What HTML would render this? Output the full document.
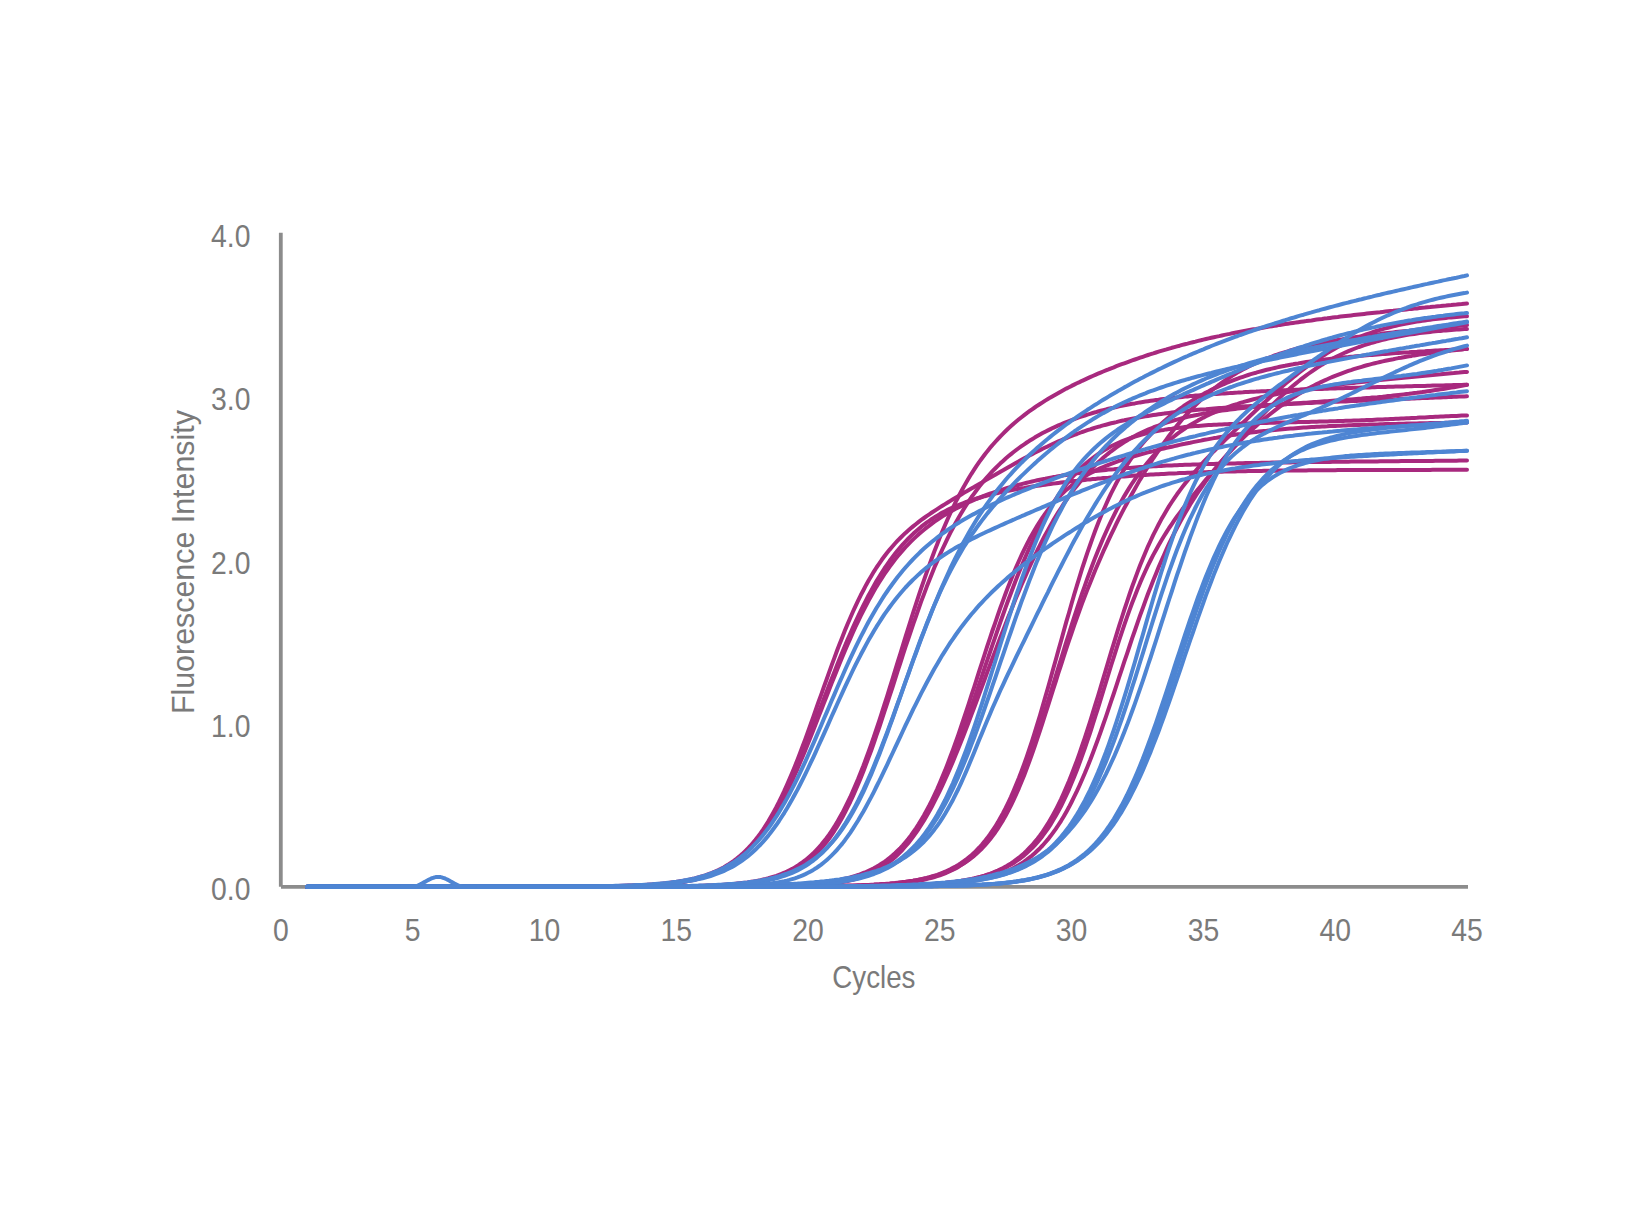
<!DOCTYPE html>
<html><head><meta charset="utf-8"><style>
html,body{margin:0;padding:0;background:#fff;}
body{width:1640px;height:1231px;overflow:hidden;}
svg{display:block;}
text{font-family:"Liberation Sans",sans-serif;fill:#7A7A7A;font-size:31.5px;}
</style></head><body>
<svg width="1640" height="1231" viewBox="0 0 1640 1231">
<rect width="1640" height="1231" fill="#fff"/>
<g stroke="#8C8C8C" stroke-width="3.8" fill="none">
<line x1="280.8" y1="232.8" x2="280.8" y2="886.7"/>
<line x1="281" y1="886.9" x2="1468" y2="886.9"/>
</g>
<text transform="translate(250.5 900.4) scale(0.900 1)" text-anchor="end">0.0</text><text transform="translate(250.5 736.9) scale(0.900 1)" text-anchor="end">1.0</text><text transform="translate(250.5 573.5) scale(0.900 1)" text-anchor="end">2.0</text><text transform="translate(250.5 410.0) scale(0.900 1)" text-anchor="end">3.0</text><text transform="translate(250.5 246.5) scale(0.900 1)" text-anchor="end">4.0</text>
<text transform="translate(280.8 941.0) scale(0.900 1)" text-anchor="middle">0</text><text transform="translate(412.6 941.0) scale(0.900 1)" text-anchor="middle">5</text><text transform="translate(544.4 941.0) scale(0.900 1)" text-anchor="middle">10</text><text transform="translate(676.2 941.0) scale(0.900 1)" text-anchor="middle">15</text><text transform="translate(808.0 941.0) scale(0.900 1)" text-anchor="middle">20</text><text transform="translate(939.8 941.0) scale(0.900 1)" text-anchor="middle">25</text><text transform="translate(1071.6 941.0) scale(0.900 1)" text-anchor="middle">30</text><text transform="translate(1203.4 941.0) scale(0.900 1)" text-anchor="middle">35</text><text transform="translate(1335.2 941.0) scale(0.900 1)" text-anchor="middle">40</text><text transform="translate(1467.0 941.0) scale(0.900 1)" text-anchor="middle">45</text>
<text transform="translate(873.9 987.8) scale(0.880 1)" text-anchor="middle">Cycles</text>
<text transform="translate(193.6 562.1) rotate(-90) scale(0.965 1)" text-anchor="middle">Fluorescence Intensity</text>
<g fill="none" stroke-width="4" stroke-linecap="round" stroke-linejoin="round">
<path d="M307.2 886.7L309.8 886.7L312.4 886.7L315.1 886.7L317.7 886.7L320.3 886.7L323.0 886.7L325.6 886.7L328.2 886.7L330.9 886.7L333.5 886.7L336.2 886.7L338.8 886.7L341.4 886.7L344.1 886.7L346.7 886.7L349.3 886.7L352.0 886.7L354.6 886.7L357.2 886.7L359.9 886.7L362.5 886.7L365.2 886.7L367.8 886.7L370.4 886.7L373.1 886.7L375.7 886.7L378.3 886.7L381.0 886.7L383.6 886.7L386.2 886.7L388.9 886.7L391.5 886.7L394.1 886.7L396.8 886.7L399.4 886.7L402.1 886.7L404.7 886.7L407.3 886.7L410.0 886.7L412.6 886.7L415.2 886.7L417.9 886.7L420.5 886.7L423.1 886.7L425.8 886.7L428.4 886.7L431.1 886.7L433.7 886.7L436.3 886.7L439.0 886.7L441.6 886.7L444.2 886.7L446.9 886.7L449.5 886.7L452.1 886.7L454.8 886.7L457.4 886.7L460.0 886.7L462.7 886.7L465.3 886.7L468.0 886.7L470.6 886.7L473.2 886.7L475.9 886.7L478.5 886.7L481.1 886.7L483.8 886.7L486.4 886.7L489.0 886.7L491.7 886.7L494.3 886.7L497.0 886.7L499.6 886.7L502.2 886.7L504.9 886.7L507.5 886.7L510.1 886.7L512.8 886.7L515.4 886.7L518.0 886.7L520.7 886.7L523.3 886.7L525.9 886.7L528.6 886.7L531.2 886.7L533.9 886.7L536.5 886.7L539.1 886.7L541.8 886.7L544.4 886.7L547.0 886.7L549.7 886.7L552.3 886.7L554.9 886.7L557.6 886.6L560.2 886.6L562.9 886.6L565.5 886.6L568.1 886.6L570.8 886.6L573.4 886.6L576.0 886.6L578.7 886.6L581.3 886.6L583.9 886.6L586.6 886.5L589.2 886.5L591.8 886.5L594.5 886.5L597.1 886.5L599.8 886.5L602.4 886.4L605.0 886.4L607.7 886.4L610.3 886.3L612.9 886.3L615.6 886.3L618.2 886.2L620.8 886.2L623.5 886.1L626.1 886.1L628.8 886.0L631.4 885.9L634.0 885.9L636.7 885.8L639.3 885.7L641.9 885.6L644.6 885.5L647.2 885.4L649.8 885.2L652.5 885.1L655.1 884.9L657.7 884.8L660.4 884.6L663.0 884.4L665.7 884.1L668.3 883.9L670.9 883.6L673.6 883.3L676.2 883.0L678.8 882.7L681.5 882.3L684.1 881.9L686.7 881.4L689.4 880.9L692.0 880.4L694.7 879.8L697.3 879.1L699.9 878.4L702.6 877.7L705.2 876.9L707.8 876.0L710.5 875.0L713.1 874.0L715.7 872.8L718.4 871.6L721.0 870.3L723.6 868.9L726.3 867.4L728.9 865.7L731.6 864.0L734.2 862.1L736.8 860.0L739.5 857.9L742.1 855.5L744.7 853.1L747.4 850.4L750.0 847.6L752.6 844.6L755.3 841.5L757.9 838.1L760.6 834.6L763.2 830.8L765.8 826.9L768.5 822.8L771.1 818.5L773.7 814.0L776.4 809.3L779.0 804.4L781.6 799.3L784.3 794.0L786.9 788.5L789.5 782.9L792.2 777.1L794.8 771.1L797.5 765.0L800.1 758.8L802.7 752.4L805.4 746.0L808.0 739.4L810.6 732.8L813.3 726.1L815.9 719.3L818.5 712.5L821.2 705.7L823.8 698.9L826.5 692.1L829.1 685.3L831.7 678.6L834.4 671.9L837.0 665.3L839.6 658.8L842.3 652.3L844.9 646.0L847.5 639.8L850.2 633.7L852.8 627.8L855.4 622.0L858.1 616.3L860.7 610.8L863.4 605.5L866.0 600.3L868.6 595.2L871.3 590.4L873.9 585.7L876.5 581.1L879.2 576.7L881.8 572.5L884.4 568.5L887.1 564.6L889.7 560.8L892.4 557.2L895.0 553.8L897.6 550.5L900.3 547.4L902.9 544.3L905.5 541.5L908.2 538.7L910.8 536.1L913.4 533.6L916.1 531.2L918.7 528.9L921.3 526.7L924.0 524.7L926.6 522.7L929.3 520.8L931.9 519.0L934.5 517.3L937.2 515.7L939.8 514.1L942.4 512.6L945.1 511.2L947.7 509.9L950.3 508.6L953.0 507.4L955.6 506.2L958.3 505.1L960.9 504.0L963.5 503.0L966.2 502.0L968.8 501.1L971.4 500.2L974.1 499.3L976.7 498.5L979.3 497.7L982.0 497.0L984.6 496.2L987.2 495.5L989.9 494.9L992.5 494.2L995.2 493.6L997.8 493.0L1000.4 492.4L1003.1 491.8L1005.7 491.3L1008.3 490.8L1011.0 490.2L1013.6 489.7L1016.2 489.3L1018.9 488.8L1021.5 488.3L1024.2 487.9L1026.8 487.4L1029.4 487.0L1032.1 486.6L1034.7 486.2L1037.3 485.8L1040.0 485.4L1042.6 485.0L1045.2 484.7L1047.9 484.3L1050.5 483.9L1053.1 483.6L1055.8 483.3L1058.4 482.9L1061.1 482.6L1063.7 482.3L1066.3 482.0L1069.0 481.6L1071.6 481.3L1074.2 481.0L1076.9 480.8L1079.5 480.5L1082.1 480.2L1084.8 479.9L1087.4 479.6L1090.1 479.4L1092.7 479.1L1095.3 478.9L1098.0 478.6L1100.6 478.4L1103.2 478.1L1105.9 477.9L1108.5 477.7L1111.1 477.4L1113.8 477.2L1116.4 477.0L1119.0 476.8L1121.7 476.6L1124.3 476.4L1127.0 476.2L1129.6 476.0L1132.2 475.8L1134.9 475.6L1137.5 475.4L1140.1 475.3L1142.8 475.1L1145.4 474.9L1148.0 474.8L1150.7 474.6L1153.3 474.5L1156.0 474.3L1158.6 474.2L1161.2 474.0L1163.9 473.9L1166.5 473.7L1169.1 473.6L1171.8 473.5L1174.4 473.4L1177.0 473.3L1179.7 473.1L1182.3 473.0L1184.9 472.9L1187.6 472.8L1190.2 472.7L1192.9 472.6L1195.5 472.5L1198.1 472.4L1200.8 472.3L1203.4 472.2L1206.0 472.2L1208.7 472.1L1211.3 472.0L1213.9 471.9L1216.6 471.8L1219.2 471.8L1221.9 471.7L1224.5 471.6L1227.1 471.6L1229.8 471.5L1232.4 471.4L1235.0 471.4L1237.7 471.3L1240.3 471.3L1242.9 471.2L1245.6 471.2L1248.2 471.1L1250.8 471.1L1253.5 471.0L1256.1 471.0L1258.8 470.9L1261.4 470.9L1264.0 470.8L1266.7 470.8L1269.3 470.8L1271.9 470.7L1274.6 470.7L1277.2 470.7L1279.8 470.6L1282.5 470.6L1285.1 470.6L1287.8 470.5L1290.4 470.5L1293.0 470.5L1295.7 470.5L1298.3 470.4L1300.9 470.4L1303.6 470.4L1306.2 470.4L1308.8 470.3L1311.5 470.3L1314.1 470.3L1316.7 470.3L1319.4 470.3L1322.0 470.2L1324.7 470.2L1327.3 470.2L1329.9 470.2L1332.6 470.2L1335.2 470.2L1337.8 470.1L1340.5 470.1L1343.1 470.1L1345.7 470.1L1348.4 470.1L1351.0 470.1L1353.7 470.1L1356.3 470.0L1358.9 470.0L1361.6 470.0L1364.2 470.0L1366.8 470.0L1369.5 470.0L1372.1 470.0L1374.7 470.0L1377.4 470.0L1380.0 470.0L1382.6 470.0L1385.3 469.9L1387.9 469.9L1390.6 469.9L1393.2 469.9L1395.8 469.9L1398.5 469.9L1401.1 469.9L1403.7 469.9L1406.4 469.9L1409.0 469.9L1411.6 469.9L1414.3 469.9L1416.9 469.9L1419.6 469.9L1422.2 469.9L1424.8 469.9L1427.5 469.9L1430.1 469.9L1432.7 469.8L1435.4 469.8L1438.0 469.8L1440.6 469.8L1443.3 469.8L1445.9 469.8L1448.5 469.8L1451.2 469.8L1453.8 469.8L1456.5 469.8L1459.1 469.8L1461.7 469.8L1464.4 469.8L1467.0 469.8" stroke="#A8297E"/>
<path d="M307.2 886.7L309.8 886.7L312.4 886.7L315.1 886.7L317.7 886.7L320.3 886.7L323.0 886.7L325.6 886.7L328.2 886.7L330.9 886.7L333.5 886.7L336.2 886.7L338.8 886.7L341.4 886.7L344.1 886.7L346.7 886.7L349.3 886.7L352.0 886.7L354.6 886.7L357.2 886.7L359.9 886.7L362.5 886.7L365.2 886.7L367.8 886.7L370.4 886.7L373.1 886.7L375.7 886.7L378.3 886.7L381.0 886.7L383.6 886.7L386.2 886.7L388.9 886.7L391.5 886.7L394.1 886.7L396.8 886.7L399.4 886.7L402.1 886.7L404.7 886.7L407.3 886.7L410.0 886.7L412.6 886.7L415.2 886.7L417.9 886.7L420.5 886.7L423.1 886.7L425.8 886.7L428.4 886.7L431.1 886.7L433.7 886.7L436.3 886.7L439.0 886.7L441.6 886.7L444.2 886.7L446.9 886.7L449.5 886.7L452.1 886.7L454.8 886.7L457.4 886.7L460.0 886.7L462.7 886.7L465.3 886.7L468.0 886.7L470.6 886.7L473.2 886.7L475.9 886.7L478.5 886.7L481.1 886.7L483.8 886.7L486.4 886.7L489.0 886.7L491.7 886.7L494.3 886.7L497.0 886.7L499.6 886.7L502.2 886.7L504.9 886.7L507.5 886.7L510.1 886.7L512.8 886.7L515.4 886.7L518.0 886.7L520.7 886.7L523.3 886.7L525.9 886.7L528.6 886.7L531.2 886.7L533.9 886.7L536.5 886.7L539.1 886.7L541.8 886.6L544.4 886.6L547.0 886.6L549.7 886.6L552.3 886.6L554.9 886.6L557.6 886.6L560.2 886.6L562.9 886.6L565.5 886.6L568.1 886.6L570.8 886.6L573.4 886.6L576.0 886.5L578.7 886.5L581.3 886.5L583.9 886.5L586.6 886.5L589.2 886.5L591.8 886.4L594.5 886.4L597.1 886.4L599.8 886.4L602.4 886.3L605.0 886.3L607.7 886.3L610.3 886.2L612.9 886.2L615.6 886.1L618.2 886.1L620.8 886.0L623.5 886.0L626.1 885.9L628.8 885.8L631.4 885.7L634.0 885.6L636.7 885.6L639.3 885.5L641.9 885.3L644.6 885.2L647.2 885.1L649.8 884.9L652.5 884.8L655.1 884.6L657.7 884.4L660.4 884.2L663.0 884.0L665.7 883.8L668.3 883.5L670.9 883.2L673.6 882.9L676.2 882.6L678.8 882.2L681.5 881.8L684.1 881.4L686.7 881.0L689.4 880.5L692.0 879.9L694.7 879.3L697.3 878.7L699.9 878.0L702.6 877.3L705.2 876.5L707.8 875.6L710.5 874.7L713.1 873.7L715.7 872.6L718.4 871.4L721.0 870.2L723.6 868.8L726.3 867.3L728.9 865.8L731.6 864.1L734.2 862.3L736.8 860.3L739.5 858.3L742.1 856.1L744.7 853.7L747.4 851.2L750.0 848.5L752.6 845.7L755.3 842.7L757.9 839.5L760.6 836.1L763.2 832.6L765.8 828.8L768.5 824.9L771.1 820.7L773.7 816.4L776.4 811.8L779.0 807.1L781.6 802.2L784.3 797.0L786.9 791.7L789.5 786.2L792.2 780.6L794.8 774.7L797.5 768.8L800.1 762.6L802.7 756.4L805.4 750.0L808.0 743.5L810.6 736.9L813.3 730.3L815.9 723.6L818.5 716.8L821.2 710.0L823.8 703.3L826.5 696.5L829.1 689.8L831.7 683.1L834.4 676.4L837.0 669.9L839.6 663.4L842.3 657.0L844.9 650.7L847.5 644.6L850.2 638.6L852.8 632.7L855.4 626.9L858.1 621.3L860.7 615.9L863.4 610.6L866.0 605.5L868.6 600.5L871.3 595.7L873.9 591.1L876.5 586.6L879.2 582.3L881.8 578.1L884.4 574.1L887.1 570.3L889.7 566.6L892.4 563.0L895.0 559.6L897.6 556.3L900.3 553.1L902.9 550.1L905.5 547.2L908.2 544.4L910.8 541.7L913.4 539.1L916.1 536.6L918.7 534.2L921.3 532.0L924.0 529.7L926.6 527.6L929.3 525.6L931.9 523.6L934.5 521.7L937.2 519.9L939.8 518.1L942.4 516.4L945.1 514.8L947.7 513.2L950.3 511.7L953.0 510.2L955.6 508.8L958.3 507.4L960.9 506.1L963.5 504.8L966.2 503.5L968.8 502.3L971.4 501.1L974.1 500.0L976.7 498.8L979.3 497.8L982.0 496.7L984.6 495.7L987.2 494.7L989.9 493.7L992.5 492.8L995.2 491.9L997.8 491.0L1000.4 490.2L1003.1 489.3L1005.7 488.5L1008.3 487.7L1011.0 486.9L1013.6 486.2L1016.2 485.5L1018.9 484.8L1021.5 484.1L1024.2 483.4L1026.8 482.7L1029.4 482.1L1032.1 481.5L1034.7 480.9L1037.3 480.3L1040.0 479.7L1042.6 479.2L1045.2 478.7L1047.9 478.1L1050.5 477.6L1053.1 477.1L1055.8 476.7L1058.4 476.2L1061.1 475.8L1063.7 475.3L1066.3 474.9L1069.0 474.5L1071.6 474.1L1074.2 473.7L1076.9 473.3L1079.5 473.0L1082.1 472.6L1084.8 472.3L1087.4 472.0L1090.1 471.6L1092.7 471.3L1095.3 471.0L1098.0 470.7L1100.6 470.4L1103.2 470.2L1105.9 469.9L1108.5 469.6L1111.1 469.4L1113.8 469.2L1116.4 468.9L1119.0 468.7L1121.7 468.5L1124.3 468.3L1127.0 468.1L1129.6 467.9L1132.2 467.7L1134.9 467.5L1137.5 467.3L1140.1 467.1L1142.8 467.0L1145.4 466.8L1148.0 466.6L1150.7 466.5L1153.3 466.3L1156.0 466.2L1158.6 466.0L1161.2 465.9L1163.9 465.8L1166.5 465.6L1169.1 465.5L1171.8 465.4L1174.4 465.3L1177.0 465.2L1179.7 465.1L1182.3 465.0L1184.9 464.8L1187.6 464.7L1190.2 464.7L1192.9 464.6L1195.5 464.5L1198.1 464.4L1200.8 464.3L1203.4 464.2L1206.0 464.1L1208.7 464.0L1211.3 464.0L1213.9 463.9L1216.6 463.8L1219.2 463.7L1221.9 463.7L1224.5 463.6L1227.1 463.5L1229.8 463.5L1232.4 463.4L1235.0 463.4L1237.7 463.3L1240.3 463.2L1242.9 463.2L1245.6 463.1L1248.2 463.1L1250.8 463.0L1253.5 463.0L1256.1 462.9L1258.8 462.9L1261.4 462.8L1264.0 462.8L1266.7 462.7L1269.3 462.7L1271.9 462.6L1274.6 462.6L1277.2 462.6L1279.8 462.5L1282.5 462.5L1285.1 462.4L1287.8 462.4L1290.4 462.4L1293.0 462.3L1295.7 462.3L1298.3 462.3L1300.9 462.2L1303.6 462.2L1306.2 462.1L1308.8 462.1L1311.5 462.1L1314.1 462.0L1316.7 462.0L1319.4 462.0L1322.0 462.0L1324.7 461.9L1327.3 461.9L1329.9 461.9L1332.6 461.8L1335.2 461.8L1337.8 461.8L1340.5 461.7L1343.1 461.7L1345.7 461.7L1348.4 461.7L1351.0 461.6L1353.7 461.6L1356.3 461.6L1358.9 461.5L1361.6 461.5L1364.2 461.5L1366.8 461.5L1369.5 461.4L1372.1 461.4L1374.7 461.4L1377.4 461.4L1380.0 461.3L1382.6 461.3L1385.3 461.3L1387.9 461.3L1390.6 461.2L1393.2 461.2L1395.8 461.2L1398.5 461.2L1401.1 461.1L1403.7 461.1L1406.4 461.1L1409.0 461.1L1411.6 461.1L1414.3 461.0L1416.9 461.0L1419.6 461.0L1422.2 461.0L1424.8 460.9L1427.5 460.9L1430.1 460.9L1432.7 460.9L1435.4 460.8L1438.0 460.8L1440.6 460.8L1443.3 460.8L1445.9 460.8L1448.5 460.7L1451.2 460.7L1453.8 460.7L1456.5 460.7L1459.1 460.6L1461.7 460.6L1464.4 460.6L1467.0 460.6" stroke="#A8297E"/>
<path d="M307.2 886.7L309.8 886.7L312.4 886.7L315.1 886.7L317.7 886.7L320.3 886.7L323.0 886.7L325.6 886.7L328.2 886.7L330.9 886.7L333.5 886.7L336.2 886.7L338.8 886.7L341.4 886.7L344.1 886.7L346.7 886.7L349.3 886.7L352.0 886.7L354.6 886.7L357.2 886.7L359.9 886.7L362.5 886.7L365.2 886.7L367.8 886.7L370.4 886.7L373.1 886.7L375.7 886.7L378.3 886.7L381.0 886.7L383.6 886.7L386.2 886.7L388.9 886.7L391.5 886.7L394.1 886.7L396.8 886.7L399.4 886.7L402.1 886.7L404.7 886.7L407.3 886.7L410.0 886.7L412.6 886.7L415.2 886.7L417.9 886.7L420.5 886.7L423.1 886.7L425.8 886.7L428.4 886.7L431.1 886.7L433.7 886.7L436.3 886.7L439.0 886.7L441.6 886.7L444.2 886.7L446.9 886.7L449.5 886.7L452.1 886.7L454.8 886.7L457.4 886.7L460.0 886.7L462.7 886.7L465.3 886.7L468.0 886.7L470.6 886.7L473.2 886.7L475.9 886.7L478.5 886.7L481.1 886.7L483.8 886.7L486.4 886.7L489.0 886.7L491.7 886.7L494.3 886.7L497.0 886.7L499.6 886.7L502.2 886.7L504.9 886.7L507.5 886.7L510.1 886.7L512.8 886.7L515.4 886.7L518.0 886.7L520.7 886.7L523.3 886.7L525.9 886.6L528.6 886.6L531.2 886.6L533.9 886.6L536.5 886.6L539.1 886.6L541.8 886.6L544.4 886.6L547.0 886.6L549.7 886.6L552.3 886.6L554.9 886.6L557.6 886.6L560.2 886.6L562.9 886.5L565.5 886.5L568.1 886.5L570.8 886.5L573.4 886.5L576.0 886.5L578.7 886.4L581.3 886.4L583.9 886.4L586.6 886.4L589.2 886.4L591.8 886.3L594.5 886.3L597.1 886.3L599.8 886.2L602.4 886.2L605.0 886.1L607.7 886.1L610.3 886.0L612.9 886.0L615.6 885.9L618.2 885.9L620.8 885.8L623.5 885.7L626.1 885.6L628.8 885.6L631.4 885.5L634.0 885.4L636.7 885.2L639.3 885.1L641.9 885.0L644.6 884.9L647.2 884.7L649.8 884.5L652.5 884.4L655.1 884.2L657.7 884.0L660.4 883.7L663.0 883.5L665.7 883.2L668.3 882.9L670.9 882.6L673.6 882.3L676.2 881.9L678.8 881.5L681.5 881.1L684.1 880.6L686.7 880.2L689.4 879.6L692.0 879.0L694.7 878.4L697.3 877.7L699.9 877.0L702.6 876.2L705.2 875.4L707.8 874.5L710.5 873.5L713.1 872.4L715.7 871.3L718.4 870.1L721.0 868.8L723.6 867.4L726.3 865.8L728.9 864.2L731.6 862.4L734.2 860.6L736.8 858.6L739.5 856.4L742.1 854.1L744.7 851.6L747.4 849.0L750.0 846.2L752.6 843.2L755.3 840.0L757.9 836.7L760.6 833.1L763.2 829.3L765.8 825.3L768.5 821.1L771.1 816.6L773.7 811.9L776.4 807.0L779.0 801.9L781.6 796.5L784.3 790.9L786.9 785.1L789.5 779.1L792.2 772.8L794.8 766.4L797.5 759.7L800.1 752.9L802.7 746.0L805.4 738.9L808.0 731.7L810.6 724.3L813.3 717.0L815.9 709.5L818.5 702.0L821.2 694.6L823.8 687.1L826.5 679.7L829.1 672.3L831.7 665.1L834.4 657.9L837.0 650.8L839.6 643.9L842.3 637.2L844.9 630.6L847.5 624.2L850.2 618.0L852.8 612.0L855.4 606.3L858.1 600.7L860.7 595.3L863.4 590.2L866.0 585.2L868.6 580.5L871.3 576.0L873.9 571.6L876.5 567.5L879.2 563.6L881.8 559.8L884.4 556.3L887.1 552.8L889.7 549.6L892.4 546.5L895.0 543.5L897.6 540.7L900.3 538.0L902.9 535.4L905.5 532.9L908.2 530.6L910.8 528.3L913.4 526.1L916.1 524.0L918.7 521.9L921.3 519.9L924.0 518.0L926.6 516.1L929.3 514.3L931.9 512.5L934.5 510.8L937.2 509.1L939.8 507.4L942.4 505.8L945.1 504.1L947.7 502.5L950.3 500.9L953.0 499.3L955.6 497.8L958.3 496.2L960.9 494.7L963.5 493.1L966.2 491.6L968.8 490.0L971.4 488.5L974.1 487.0L976.7 485.4L979.3 483.9L982.0 482.4L984.6 480.8L987.2 479.3L989.9 477.8L992.5 476.3L995.2 474.7L997.8 473.2L1000.4 471.7L1003.1 470.2L1005.7 468.7L1008.3 467.2L1011.0 465.7L1013.6 464.2L1016.2 462.7L1018.9 461.3L1021.5 459.8L1024.2 458.4L1026.8 457.0L1029.4 455.6L1032.1 454.2L1034.7 452.8L1037.3 451.5L1040.0 450.1L1042.6 448.8L1045.2 447.5L1047.9 446.3L1050.5 445.0L1053.1 443.8L1055.8 442.6L1058.4 441.4L1061.1 440.3L1063.7 439.2L1066.3 438.1L1069.0 437.0L1071.6 436.0L1074.2 434.9L1076.9 434.0L1079.5 433.0L1082.1 432.0L1084.8 431.1L1087.4 430.2L1090.1 429.4L1092.7 428.5L1095.3 427.7L1098.0 426.9L1100.6 426.2L1103.2 425.4L1105.9 424.7L1108.5 424.0L1111.1 423.3L1113.8 422.7L1116.4 422.1L1119.0 421.4L1121.7 420.8L1124.3 420.3L1127.0 419.7L1129.6 419.2L1132.2 418.7L1134.9 418.2L1137.5 417.7L1140.1 417.2L1142.8 416.7L1145.4 416.3L1148.0 415.9L1150.7 415.5L1153.3 415.1L1156.0 414.7L1158.6 414.3L1161.2 413.9L1163.9 413.6L1166.5 413.2L1169.1 412.9L1171.8 412.6L1174.4 412.3L1177.0 412.0L1179.7 411.7L1182.3 411.4L1184.9 411.1L1187.6 410.9L1190.2 410.6L1192.9 410.3L1195.5 410.1L1198.1 409.8L1200.8 409.6L1203.4 409.4L1206.0 409.2L1208.7 408.9L1211.3 408.7L1213.9 408.5L1216.6 408.3L1219.2 408.1L1221.9 407.9L1224.5 407.7L1227.1 407.6L1229.8 407.4L1232.4 407.2L1235.0 407.0L1237.7 406.8L1240.3 406.7L1242.9 406.5L1245.6 406.3L1248.2 406.2L1250.8 406.0L1253.5 405.9L1256.1 405.7L1258.8 405.6L1261.4 405.4L1264.0 405.3L1266.7 405.1L1269.3 405.0L1271.9 404.8L1274.6 404.7L1277.2 404.6L1279.8 404.4L1282.5 404.3L1285.1 404.2L1287.8 404.0L1290.4 403.9L1293.0 403.8L1295.7 403.6L1298.3 403.5L1300.9 403.4L1303.6 403.3L1306.2 403.1L1308.8 403.0L1311.5 402.9L1314.1 402.8L1316.7 402.6L1319.4 402.5L1322.0 402.4L1324.7 402.3L1327.3 402.2L1329.9 402.0L1332.6 401.9L1335.2 401.8L1337.8 401.7L1340.5 401.6L1343.1 401.5L1345.7 401.4L1348.4 401.2L1351.0 401.1L1353.7 401.0L1356.3 400.9L1358.9 400.8L1361.6 400.7L1364.2 400.6L1366.8 400.4L1369.5 400.3L1372.1 400.2L1374.7 400.1L1377.4 400.0L1380.0 399.9L1382.6 399.8L1385.3 399.7L1387.9 399.6L1390.6 399.4L1393.2 399.3L1395.8 399.2L1398.5 399.1L1401.1 399.0L1403.7 398.9L1406.4 398.8L1409.0 398.7L1411.6 398.6L1414.3 398.5L1416.9 398.3L1419.6 398.2L1422.2 398.1L1424.8 398.0L1427.5 397.9L1430.1 397.8L1432.7 397.7L1435.4 397.6L1438.0 397.5L1440.6 397.4L1443.3 397.3L1445.9 397.2L1448.5 397.0L1451.2 396.9L1453.8 396.8L1456.5 396.7L1459.1 396.6L1461.7 396.5L1464.4 396.4L1467.0 396.3" stroke="#A8297E"/>
<path d="M307.2 886.7L309.8 886.7L312.4 886.7L315.1 886.7L317.7 886.7L320.3 886.7L323.0 886.7L325.6 886.7L328.2 886.7L330.9 886.7L333.5 886.7L336.2 886.7L338.8 886.7L341.4 886.7L344.1 886.7L346.7 886.7L349.3 886.7L352.0 886.7L354.6 886.7L357.2 886.7L359.9 886.7L362.5 886.7L365.2 886.7L367.8 886.7L370.4 886.7L373.1 886.7L375.7 886.7L378.3 886.7L381.0 886.7L383.6 886.7L386.2 886.7L388.9 886.7L391.5 886.7L394.1 886.7L396.8 886.7L399.4 886.7L402.1 886.7L404.7 886.7L407.3 886.7L410.0 886.7L412.6 886.7L415.2 886.7L417.9 886.7L420.5 886.7L423.1 886.7L425.8 886.7L428.4 886.7L431.1 886.7L433.7 886.7L436.3 886.7L439.0 886.7L441.6 886.7L444.2 886.7L446.9 886.7L449.5 886.7L452.1 886.7L454.8 886.7L457.4 886.7L460.0 886.7L462.7 886.7L465.3 886.7L468.0 886.7L470.6 886.7L473.2 886.7L475.9 886.7L478.5 886.7L481.1 886.7L483.8 886.7L486.4 886.7L489.0 886.7L491.7 886.7L494.3 886.7L497.0 886.7L499.6 886.7L502.2 886.7L504.9 886.7L507.5 886.7L510.1 886.7L512.8 886.7L515.4 886.7L518.0 886.7L520.7 886.7L523.3 886.7L525.9 886.7L528.6 886.7L531.2 886.7L533.9 886.7L536.5 886.7L539.1 886.7L541.8 886.7L544.4 886.7L547.0 886.7L549.7 886.7L552.3 886.7L554.9 886.7L557.6 886.7L560.2 886.7L562.9 886.7L565.5 886.7L568.1 886.7L570.8 886.7L573.4 886.7L576.0 886.7L578.7 886.7L581.3 886.7L583.9 886.7L586.6 886.7L589.2 886.7L591.8 886.7L594.5 886.7L597.1 886.7L599.8 886.7L602.4 886.7L605.0 886.7L607.7 886.7L610.3 886.7L612.9 886.6L615.6 886.6L618.2 886.6L620.8 886.6L623.5 886.6L626.1 886.6L628.8 886.6L631.4 886.6L634.0 886.6L636.7 886.6L639.3 886.6L641.9 886.6L644.6 886.6L647.2 886.5L649.8 886.5L652.5 886.5L655.1 886.5L657.7 886.5L660.4 886.4L663.0 886.4L665.7 886.4L668.3 886.4L670.9 886.3L673.6 886.3L676.2 886.3L678.8 886.2L681.5 886.2L684.1 886.2L686.7 886.1L689.4 886.0L692.0 886.0L694.7 885.9L697.3 885.9L699.9 885.8L702.6 885.7L705.2 885.6L707.8 885.5L710.5 885.4L713.1 885.3L715.7 885.1L718.4 885.0L721.0 884.9L723.6 884.7L726.3 884.5L728.9 884.3L731.6 884.1L734.2 883.9L736.8 883.6L739.5 883.3L742.1 883.0L744.7 882.7L747.4 882.4L750.0 882.0L752.6 881.6L755.3 881.1L757.9 880.6L760.6 880.1L763.2 879.5L765.8 878.9L768.5 878.2L771.1 877.4L773.7 876.6L776.4 875.8L779.0 874.8L781.6 873.8L784.3 872.7L786.9 871.5L789.5 870.2L792.2 868.9L794.8 867.4L797.5 865.8L800.1 864.0L802.7 862.2L805.4 860.2L808.0 858.0L810.6 855.7L813.3 853.3L815.9 850.6L818.5 847.8L821.2 844.8L823.8 841.6L826.5 838.2L829.1 834.6L831.7 830.8L834.4 826.7L837.0 822.4L839.6 817.8L842.3 813.1L844.9 808.0L847.5 802.7L850.2 797.2L852.8 791.4L855.4 785.4L858.1 779.1L860.7 772.6L863.4 765.8L866.0 758.8L868.6 751.6L871.3 744.2L873.9 736.6L876.5 728.9L879.2 720.9L881.8 712.8L884.4 704.6L887.1 696.3L889.7 687.9L892.4 679.4L895.0 670.9L897.6 662.4L900.3 653.8L902.9 645.3L905.5 636.8L908.2 628.4L910.8 620.1L913.4 611.8L916.1 603.7L918.7 595.7L921.3 587.8L924.0 580.1L926.6 572.6L929.3 565.2L931.9 558.0L934.5 551.0L937.2 544.2L939.8 537.6L942.4 531.2L945.1 525.0L947.7 519.0L950.3 513.2L953.0 507.6L955.6 502.2L958.3 497.0L960.9 492.0L963.5 487.2L966.2 482.6L968.8 478.1L971.4 473.8L974.1 469.7L976.7 465.7L979.3 461.9L982.0 458.3L984.6 454.8L987.2 451.4L989.9 448.1L992.5 445.0L995.2 442.0L997.8 439.1L1000.4 436.3L1003.1 433.6L1005.7 431.0L1008.3 428.5L1011.0 426.1L1013.6 423.7L1016.2 421.5L1018.9 419.3L1021.5 417.2L1024.2 415.1L1026.8 413.1L1029.4 411.2L1032.1 409.3L1034.7 407.5L1037.3 405.7L1040.0 404.0L1042.6 402.3L1045.2 400.6L1047.9 399.0L1050.5 397.4L1053.1 395.9L1055.8 394.4L1058.4 392.9L1061.1 391.4L1063.7 390.0L1066.3 388.6L1069.0 387.3L1071.6 385.9L1074.2 384.6L1076.9 383.3L1079.5 382.1L1082.1 380.8L1084.8 379.6L1087.4 378.4L1090.1 377.2L1092.7 376.0L1095.3 374.9L1098.0 373.7L1100.6 372.6L1103.2 371.5L1105.9 370.4L1108.5 369.4L1111.1 368.3L1113.8 367.3L1116.4 366.2L1119.0 365.2L1121.7 364.2L1124.3 363.3L1127.0 362.3L1129.6 361.3L1132.2 360.4L1134.9 359.5L1137.5 358.6L1140.1 357.7L1142.8 356.8L1145.4 355.9L1148.0 355.0L1150.7 354.2L1153.3 353.4L1156.0 352.5L1158.6 351.7L1161.2 350.9L1163.9 350.1L1166.5 349.4L1169.1 348.6L1171.8 347.8L1174.4 347.1L1177.0 346.4L1179.7 345.7L1182.3 344.9L1184.9 344.2L1187.6 343.6L1190.2 342.9L1192.9 342.2L1195.5 341.6L1198.1 340.9L1200.8 340.3L1203.4 339.6L1206.0 339.0L1208.7 338.4L1211.3 337.8L1213.9 337.2L1216.6 336.6L1219.2 336.1L1221.9 335.5L1224.5 334.9L1227.1 334.4L1229.8 333.9L1232.4 333.3L1235.0 332.8L1237.7 332.3L1240.3 331.8L1242.9 331.3L1245.6 330.8L1248.2 330.3L1250.8 329.8L1253.5 329.3L1256.1 328.9L1258.8 328.4L1261.4 328.0L1264.0 327.5L1266.7 327.1L1269.3 326.6L1271.9 326.2L1274.6 325.8L1277.2 325.4L1279.8 324.9L1282.5 324.5L1285.1 324.1L1287.8 323.7L1290.4 323.3L1293.0 322.9L1295.7 322.6L1298.3 322.2L1300.9 321.8L1303.6 321.4L1306.2 321.1L1308.8 320.7L1311.5 320.4L1314.1 320.0L1316.7 319.6L1319.4 319.3L1322.0 319.0L1324.7 318.6L1327.3 318.3L1329.9 317.9L1332.6 317.6L1335.2 317.3L1337.8 317.0L1340.5 316.6L1343.1 316.3L1345.7 316.0L1348.4 315.7L1351.0 315.4L1353.7 315.1L1356.3 314.8L1358.9 314.5L1361.6 314.2L1364.2 313.9L1366.8 313.6L1369.5 313.3L1372.1 313.0L1374.7 312.7L1377.4 312.4L1380.0 312.2L1382.6 311.9L1385.3 311.6L1387.9 311.3L1390.6 311.0L1393.2 310.8L1395.8 310.5L1398.5 310.2L1401.1 309.9L1403.7 309.7L1406.4 309.4L1409.0 309.1L1411.6 308.9L1414.3 308.6L1416.9 308.4L1419.6 308.1L1422.2 307.8L1424.8 307.6L1427.5 307.3L1430.1 307.1L1432.7 306.8L1435.4 306.6L1438.0 306.3L1440.6 306.1L1443.3 305.8L1445.9 305.6L1448.5 305.3L1451.2 305.1L1453.8 304.8L1456.5 304.6L1459.1 304.3L1461.7 304.1L1464.4 303.8L1467.0 303.6" stroke="#A8297E"/>
<path d="M307.2 886.7L309.8 886.7L312.4 886.7L315.1 886.7L317.7 886.7L320.3 886.7L323.0 886.7L325.6 886.7L328.2 886.7L330.9 886.7L333.5 886.7L336.2 886.7L338.8 886.7L341.4 886.7L344.1 886.7L346.7 886.7L349.3 886.7L352.0 886.7L354.6 886.7L357.2 886.7L359.9 886.7L362.5 886.7L365.2 886.7L367.8 886.7L370.4 886.7L373.1 886.7L375.7 886.7L378.3 886.7L381.0 886.7L383.6 886.7L386.2 886.7L388.9 886.7L391.5 886.7L394.1 886.7L396.8 886.7L399.4 886.7L402.1 886.7L404.7 886.7L407.3 886.7L410.0 886.7L412.6 886.7L415.2 886.7L417.9 886.7L420.5 886.7L423.1 886.7L425.8 886.7L428.4 886.7L431.1 886.7L433.7 886.7L436.3 886.7L439.0 886.7L441.6 886.7L444.2 886.7L446.9 886.7L449.5 886.7L452.1 886.7L454.8 886.7L457.4 886.7L460.0 886.7L462.7 886.7L465.3 886.7L468.0 886.7L470.6 886.7L473.2 886.7L475.9 886.7L478.5 886.7L481.1 886.7L483.8 886.7L486.4 886.7L489.0 886.7L491.7 886.7L494.3 886.7L497.0 886.7L499.6 886.7L502.2 886.7L504.9 886.7L507.5 886.7L510.1 886.7L512.8 886.7L515.4 886.7L518.0 886.7L520.7 886.7L523.3 886.7L525.9 886.7L528.6 886.7L531.2 886.7L533.9 886.7L536.5 886.7L539.1 886.7L541.8 886.7L544.4 886.7L547.0 886.7L549.7 886.7L552.3 886.7L554.9 886.7L557.6 886.7L560.2 886.7L562.9 886.7L565.5 886.7L568.1 886.7L570.8 886.7L573.4 886.7L576.0 886.7L578.7 886.7L581.3 886.7L583.9 886.7L586.6 886.7L589.2 886.7L591.8 886.7L594.5 886.7L597.1 886.7L599.8 886.7L602.4 886.7L605.0 886.7L607.7 886.7L610.3 886.7L612.9 886.7L615.6 886.7L618.2 886.7L620.8 886.7L623.5 886.7L626.1 886.6L628.8 886.6L631.4 886.6L634.0 886.6L636.7 886.6L639.3 886.6L641.9 886.6L644.6 886.6L647.2 886.6L649.8 886.6L652.5 886.6L655.1 886.6L657.7 886.5L660.4 886.5L663.0 886.5L665.7 886.5L668.3 886.5L670.9 886.5L673.6 886.4L676.2 886.4L678.8 886.4L681.5 886.3L684.1 886.3L686.7 886.3L689.4 886.2L692.0 886.2L694.7 886.1L697.3 886.1L699.9 886.0L702.6 886.0L705.2 885.9L707.8 885.8L710.5 885.7L713.1 885.6L715.7 885.5L718.4 885.4L721.0 885.3L723.6 885.2L726.3 885.0L728.9 884.8L731.6 884.7L734.2 884.5L736.8 884.3L739.5 884.0L742.1 883.8L744.7 883.5L747.4 883.2L750.0 882.9L752.6 882.5L755.3 882.1L757.9 881.7L760.6 881.2L763.2 880.7L765.8 880.2L768.5 879.6L771.1 878.9L773.7 878.2L776.4 877.4L779.0 876.6L781.6 875.7L784.3 874.7L786.9 873.6L789.5 872.4L792.2 871.1L794.8 869.7L797.5 868.2L800.1 866.6L802.7 864.9L805.4 863.0L808.0 861.0L810.6 858.8L813.3 856.5L815.9 853.9L818.5 851.3L821.2 848.4L823.8 845.3L826.5 842.0L829.1 838.5L831.7 834.8L834.4 830.8L837.0 826.6L839.6 822.2L842.3 817.5L844.9 812.6L847.5 807.4L850.2 802.0L852.8 796.3L855.4 790.4L858.1 784.3L860.7 777.9L863.4 771.3L866.0 764.4L868.6 757.4L871.3 750.2L873.9 742.8L876.5 735.2L879.2 727.5L881.8 719.7L884.4 711.7L887.1 703.7L889.7 695.6L892.4 687.5L895.0 679.4L897.6 671.2L900.3 663.1L902.9 655.0L905.5 647.0L908.2 639.1L910.8 631.3L913.4 623.5L916.1 616.0L918.7 608.5L921.3 601.2L924.0 594.1L926.6 587.1L929.3 580.3L931.9 573.7L934.5 567.3L937.2 561.1L939.8 555.1L942.4 549.3L945.1 543.6L947.7 538.2L950.3 532.9L953.0 527.9L955.6 523.0L958.3 518.3L960.9 513.8L963.5 509.4L966.2 505.2L968.8 501.2L971.4 497.3L974.1 493.6L976.7 490.0L979.3 486.5L982.0 483.2L984.6 480.1L987.2 477.0L989.9 474.0L992.5 471.2L995.2 468.5L997.8 465.9L1000.4 463.3L1003.1 460.9L1005.7 458.5L1008.3 456.3L1011.0 454.1L1013.6 452.0L1016.2 450.0L1018.9 448.0L1021.5 446.1L1024.2 444.3L1026.8 442.5L1029.4 440.8L1032.1 439.2L1034.7 437.6L1037.3 436.1L1040.0 434.6L1042.6 433.1L1045.2 431.7L1047.9 430.4L1050.5 429.1L1053.1 427.8L1055.8 426.6L1058.4 425.4L1061.1 424.3L1063.7 423.2L1066.3 422.1L1069.0 421.1L1071.6 420.1L1074.2 419.1L1076.9 418.1L1079.5 417.2L1082.1 416.3L1084.8 415.5L1087.4 414.6L1090.1 413.8L1092.7 413.0L1095.3 412.3L1098.0 411.5L1100.6 410.8L1103.2 410.1L1105.9 409.5L1108.5 408.8L1111.1 408.2L1113.8 407.6L1116.4 407.0L1119.0 406.4L1121.7 405.9L1124.3 405.3L1127.0 404.8L1129.6 404.3L1132.2 403.8L1134.9 403.4L1137.5 402.9L1140.1 402.4L1142.8 402.0L1145.4 401.6L1148.0 401.2L1150.7 400.8L1153.3 400.4L1156.0 400.0L1158.6 399.7L1161.2 399.3L1163.9 399.0L1166.5 398.7L1169.1 398.4L1171.8 398.1L1174.4 397.8L1177.0 397.5L1179.7 397.2L1182.3 396.9L1184.9 396.6L1187.6 396.4L1190.2 396.1L1192.9 395.9L1195.5 395.6L1198.1 395.4L1200.8 395.2L1203.4 395.0L1206.0 394.8L1208.7 394.5L1211.3 394.3L1213.9 394.1L1216.6 394.0L1219.2 393.8L1221.9 393.6L1224.5 393.4L1227.1 393.2L1229.8 393.1L1232.4 392.9L1235.0 392.7L1237.7 392.6L1240.3 392.4L1242.9 392.3L1245.6 392.1L1248.2 392.0L1250.8 391.8L1253.5 391.7L1256.1 391.6L1258.8 391.4L1261.4 391.3L1264.0 391.2L1266.7 391.1L1269.3 390.9L1271.9 390.8L1274.6 390.7L1277.2 390.6L1279.8 390.5L1282.5 390.3L1285.1 390.2L1287.8 390.1L1290.4 390.0L1293.0 389.9L1295.7 389.8L1298.3 389.7L1300.9 389.6L1303.6 389.5L1306.2 389.4L1308.8 389.3L1311.5 389.2L1314.1 389.1L1316.7 389.0L1319.4 388.9L1322.0 388.9L1324.7 388.8L1327.3 388.7L1329.9 388.6L1332.6 388.5L1335.2 388.4L1337.8 388.3L1340.5 388.2L1343.1 388.2L1345.7 388.1L1348.4 388.0L1351.0 387.9L1353.7 387.8L1356.3 387.8L1358.9 387.7L1361.6 387.6L1364.2 387.5L1366.8 387.4L1369.5 387.4L1372.1 387.3L1374.7 387.2L1377.4 387.1L1380.0 387.1L1382.6 387.0L1385.3 386.9L1387.9 386.8L1390.6 386.8L1393.2 386.7L1395.8 386.6L1398.5 386.6L1401.1 386.5L1403.7 386.4L1406.4 386.3L1409.0 386.3L1411.6 386.2L1414.3 386.1L1416.9 386.1L1419.6 386.0L1422.2 385.9L1424.8 385.9L1427.5 385.8L1430.1 385.7L1432.7 385.6L1435.4 385.6L1438.0 385.5L1440.6 385.4L1443.3 385.4L1445.9 385.3L1448.5 385.2L1451.2 385.2L1453.8 385.1L1456.5 385.0L1459.1 385.0L1461.7 384.9L1464.4 384.8L1467.0 384.8" stroke="#A8297E"/>
<path d="M307.2 886.7L309.8 886.7L312.4 886.7L315.1 886.7L317.7 886.7L320.3 886.7L323.0 886.7L325.6 886.7L328.2 886.7L330.9 886.7L333.5 886.7L336.2 886.7L338.8 886.7L341.4 886.7L344.1 886.7L346.7 886.7L349.3 886.7L352.0 886.7L354.6 886.7L357.2 886.7L359.9 886.7L362.5 886.7L365.2 886.7L367.8 886.7L370.4 886.7L373.1 886.7L375.7 886.7L378.3 886.7L381.0 886.7L383.6 886.7L386.2 886.7L388.9 886.7L391.5 886.7L394.1 886.7L396.8 886.7L399.4 886.7L402.1 886.7L404.7 886.7L407.3 886.7L410.0 886.7L412.6 886.7L415.2 886.7L417.9 886.7L420.5 886.7L423.1 886.7L425.8 886.7L428.4 886.7L431.1 886.7L433.7 886.7L436.3 886.7L439.0 886.7L441.6 886.7L444.2 886.7L446.9 886.7L449.5 886.7L452.1 886.7L454.8 886.7L457.4 886.7L460.0 886.7L462.7 886.7L465.3 886.7L468.0 886.7L470.6 886.7L473.2 886.7L475.9 886.7L478.5 886.7L481.1 886.7L483.8 886.7L486.4 886.7L489.0 886.7L491.7 886.7L494.3 886.7L497.0 886.7L499.6 886.7L502.2 886.7L504.9 886.7L507.5 886.7L510.1 886.7L512.8 886.7L515.4 886.7L518.0 886.7L520.7 886.7L523.3 886.7L525.9 886.7L528.6 886.7L531.2 886.7L533.9 886.7L536.5 886.7L539.1 886.7L541.8 886.7L544.4 886.7L547.0 886.7L549.7 886.7L552.3 886.7L554.9 886.7L557.6 886.7L560.2 886.7L562.9 886.7L565.5 886.7L568.1 886.7L570.8 886.7L573.4 886.7L576.0 886.7L578.7 886.7L581.3 886.7L583.9 886.7L586.6 886.7L589.2 886.7L591.8 886.7L594.5 886.7L597.1 886.7L599.8 886.7L602.4 886.7L605.0 886.7L607.7 886.7L610.3 886.7L612.9 886.7L615.6 886.7L618.2 886.7L620.8 886.7L623.5 886.7L626.1 886.7L628.8 886.7L631.4 886.7L634.0 886.7L636.7 886.7L639.3 886.7L641.9 886.7L644.6 886.7L647.2 886.7L649.8 886.7L652.5 886.7L655.1 886.7L657.7 886.7L660.4 886.7L663.0 886.7L665.7 886.7L668.3 886.7L670.9 886.7L673.6 886.7L676.2 886.6L678.8 886.6L681.5 886.6L684.1 886.6L686.7 886.6L689.4 886.6L692.0 886.6L694.7 886.6L697.3 886.6L699.9 886.6L702.6 886.6L705.2 886.6L707.8 886.6L710.5 886.6L713.1 886.5L715.7 886.5L718.4 886.5L721.0 886.5L723.6 886.5L726.3 886.5L728.9 886.4L731.6 886.4L734.2 886.4L736.8 886.4L739.5 886.4L742.1 886.3L744.7 886.3L747.4 886.3L750.0 886.2L752.6 886.2L755.3 886.1L757.9 886.1L760.6 886.1L763.2 886.0L765.8 885.9L768.5 885.9L771.1 885.8L773.7 885.7L776.4 885.7L779.0 885.6L781.6 885.5L784.3 885.4L786.9 885.3L789.5 885.2L792.2 885.0L794.8 884.9L797.5 884.7L800.1 884.6L802.7 884.4L805.4 884.2L808.0 884.0L810.6 883.8L813.3 883.6L815.9 883.3L818.5 883.0L821.2 882.7L823.8 882.4L826.5 882.1L829.1 881.7L831.7 881.3L834.4 880.9L837.0 880.4L839.6 879.9L842.3 879.3L844.9 878.7L847.5 878.1L850.2 877.4L852.8 876.6L855.4 875.8L858.1 875.0L860.7 874.0L863.4 873.0L866.0 872.0L868.6 870.8L871.3 869.5L873.9 868.2L876.5 866.8L879.2 865.2L881.8 863.5L884.4 861.8L887.1 859.9L889.7 857.8L892.4 855.6L895.0 853.3L897.6 850.8L900.3 848.1L902.9 845.3L905.5 842.2L908.2 839.0L910.8 835.6L913.4 832.0L916.1 828.1L918.7 824.1L921.3 819.8L924.0 815.3L926.6 810.5L929.3 805.5L931.9 800.3L934.5 794.8L937.2 789.0L939.8 783.0L942.4 776.8L945.1 770.4L947.7 763.7L950.3 756.8L953.0 749.7L955.6 742.4L958.3 734.9L960.9 727.2L963.5 719.5L966.2 711.5L968.8 703.5L971.4 695.4L974.1 687.3L976.7 679.1L979.3 670.9L982.0 662.7L984.6 654.5L987.2 646.4L989.9 638.4L992.5 630.5L995.2 622.8L997.8 615.1L1000.4 607.7L1003.1 600.4L1005.7 593.3L1008.3 586.4L1011.0 579.7L1013.6 573.2L1016.2 567.0L1018.9 561.0L1021.5 555.2L1024.2 549.7L1026.8 544.4L1029.4 539.3L1032.1 534.5L1034.7 529.9L1037.3 525.5L1040.0 521.3L1042.6 517.3L1045.2 513.6L1047.9 510.0L1050.5 506.7L1053.1 503.5L1055.8 500.4L1058.4 497.6L1061.1 494.9L1063.7 492.3L1066.3 489.9L1069.0 487.7L1071.6 485.5L1074.2 483.5L1076.9 481.5L1079.5 479.7L1082.1 478.0L1084.8 476.4L1087.4 474.8L1090.1 473.3L1092.7 471.9L1095.3 470.6L1098.0 469.3L1100.6 468.1L1103.2 467.0L1105.9 465.9L1108.5 464.8L1111.1 463.8L1113.8 462.8L1116.4 461.9L1119.0 460.9L1121.7 460.1L1124.3 459.2L1127.0 458.4L1129.6 457.6L1132.2 456.8L1134.9 456.0L1137.5 455.3L1140.1 454.5L1142.8 453.8L1145.4 453.1L1148.0 452.4L1150.7 451.7L1153.3 451.1L1156.0 450.4L1158.6 449.8L1161.2 449.1L1163.9 448.5L1166.5 447.9L1169.1 447.3L1171.8 446.7L1174.4 446.1L1177.0 445.5L1179.7 444.9L1182.3 444.3L1184.9 443.8L1187.6 443.2L1190.2 442.7L1192.9 442.1L1195.5 441.6L1198.1 441.1L1200.8 440.6L1203.4 440.0L1206.0 439.6L1208.7 439.1L1211.3 438.6L1213.9 438.1L1216.6 437.7L1219.2 437.2L1221.9 436.8L1224.5 436.3L1227.1 435.9L1229.8 435.5L1232.4 435.1L1235.0 434.7L1237.7 434.3L1240.3 434.0L1242.9 433.6L1245.6 433.2L1248.2 432.9L1250.8 432.6L1253.5 432.2L1256.1 431.9L1258.8 431.6L1261.4 431.3L1264.0 431.0L1266.7 430.8L1269.3 430.5L1271.9 430.2L1274.6 430.0L1277.2 429.7L1279.8 429.5L1282.5 429.2L1285.1 429.0L1287.8 428.8L1290.4 428.6L1293.0 428.4L1295.7 428.2L1298.3 428.0L1300.9 427.8L1303.6 427.6L1306.2 427.5L1308.8 427.3L1311.5 427.1L1314.1 427.0L1316.7 426.8L1319.4 426.7L1322.0 426.5L1324.7 426.4L1327.3 426.3L1329.9 426.1L1332.6 426.0L1335.2 425.9L1337.8 425.8L1340.5 425.7L1343.1 425.5L1345.7 425.4L1348.4 425.3L1351.0 425.2L1353.7 425.1L1356.3 425.0L1358.9 424.9L1361.6 424.8L1364.2 424.8L1366.8 424.7L1369.5 424.6L1372.1 424.5L1374.7 424.4L1377.4 424.4L1380.0 424.3L1382.6 424.2L1385.3 424.1L1387.9 424.1L1390.6 424.0L1393.2 423.9L1395.8 423.9L1398.5 423.8L1401.1 423.7L1403.7 423.7L1406.4 423.6L1409.0 423.5L1411.6 423.5L1414.3 423.4L1416.9 423.4L1419.6 423.3L1422.2 423.3L1424.8 423.2L1427.5 423.2L1430.1 423.1L1432.7 423.1L1435.4 423.0L1438.0 423.0L1440.6 422.9L1443.3 422.9L1445.9 422.8L1448.5 422.8L1451.2 422.7L1453.8 422.7L1456.5 422.6L1459.1 422.6L1461.7 422.5L1464.4 422.5L1467.0 422.4" stroke="#A8297E"/>
<path d="M307.2 886.7L309.8 886.7L312.4 886.7L315.1 886.7L317.7 886.7L320.3 886.7L323.0 886.7L325.6 886.7L328.2 886.7L330.9 886.7L333.5 886.7L336.2 886.7L338.8 886.7L341.4 886.7L344.1 886.7L346.7 886.7L349.3 886.7L352.0 886.7L354.6 886.7L357.2 886.7L359.9 886.7L362.5 886.7L365.2 886.7L367.8 886.7L370.4 886.7L373.1 886.7L375.7 886.7L378.3 886.7L381.0 886.7L383.6 886.7L386.2 886.7L388.9 886.7L391.5 886.7L394.1 886.7L396.8 886.7L399.4 886.7L402.1 886.7L404.7 886.7L407.3 886.7L410.0 886.7L412.6 886.7L415.2 886.7L417.9 886.7L420.5 886.7L423.1 886.7L425.8 886.7L428.4 886.7L431.1 886.7L433.7 886.7L436.3 886.7L439.0 886.7L441.6 886.7L444.2 886.7L446.9 886.7L449.5 886.7L452.1 886.7L454.8 886.7L457.4 886.7L460.0 886.7L462.7 886.7L465.3 886.7L468.0 886.7L470.6 886.7L473.2 886.7L475.9 886.7L478.5 886.7L481.1 886.7L483.8 886.7L486.4 886.7L489.0 886.7L491.7 886.7L494.3 886.7L497.0 886.7L499.6 886.7L502.2 886.7L504.9 886.7L507.5 886.7L510.1 886.7L512.8 886.7L515.4 886.7L518.0 886.7L520.7 886.7L523.3 886.7L525.9 886.7L528.6 886.7L531.2 886.7L533.9 886.7L536.5 886.7L539.1 886.7L541.8 886.7L544.4 886.7L547.0 886.7L549.7 886.7L552.3 886.7L554.9 886.7L557.6 886.7L560.2 886.7L562.9 886.7L565.5 886.7L568.1 886.7L570.8 886.7L573.4 886.7L576.0 886.7L578.7 886.7L581.3 886.7L583.9 886.7L586.6 886.7L589.2 886.7L591.8 886.7L594.5 886.7L597.1 886.7L599.8 886.7L602.4 886.7L605.0 886.7L607.7 886.7L610.3 886.7L612.9 886.7L615.6 886.7L618.2 886.7L620.8 886.7L623.5 886.7L626.1 886.7L628.8 886.7L631.4 886.7L634.0 886.7L636.7 886.7L639.3 886.7L641.9 886.7L644.6 886.7L647.2 886.7L649.8 886.7L652.5 886.7L655.1 886.7L657.7 886.7L660.4 886.7L663.0 886.7L665.7 886.7L668.3 886.7L670.9 886.7L673.6 886.7L676.2 886.7L678.8 886.7L681.5 886.7L684.1 886.7L686.7 886.7L689.4 886.7L692.0 886.6L694.7 886.6L697.3 886.6L699.9 886.6L702.6 886.6L705.2 886.6L707.8 886.6L710.5 886.6L713.1 886.6L715.7 886.6L718.4 886.6L721.0 886.6L723.6 886.6L726.3 886.5L728.9 886.5L731.6 886.5L734.2 886.5L736.8 886.5L739.5 886.5L742.1 886.4L744.7 886.4L747.4 886.4L750.0 886.4L752.6 886.3L755.3 886.3L757.9 886.2L760.6 886.2L763.2 886.2L765.8 886.1L768.5 886.1L771.1 886.0L773.7 885.9L776.4 885.9L779.0 885.8L781.6 885.7L784.3 885.6L786.9 885.5L789.5 885.4L792.2 885.3L794.8 885.2L797.5 885.1L800.1 884.9L802.7 884.8L805.4 884.6L808.0 884.4L810.6 884.2L813.3 884.0L815.9 883.8L818.5 883.5L821.2 883.2L823.8 882.9L826.5 882.6L829.1 882.2L831.7 881.9L834.4 881.4L837.0 881.0L839.6 880.5L842.3 880.0L844.9 879.4L847.5 878.8L850.2 878.1L852.8 877.4L855.4 876.6L858.1 875.7L860.7 874.8L863.4 873.9L866.0 872.8L868.6 871.6L871.3 870.4L873.9 869.1L876.5 867.7L879.2 866.2L881.8 864.5L884.4 862.8L887.1 860.9L889.7 858.9L892.4 856.8L895.0 854.5L897.6 852.0L900.3 849.4L902.9 846.7L905.5 843.7L908.2 840.6L910.8 837.3L913.4 833.9L916.1 830.2L918.7 826.3L921.3 822.2L924.0 817.9L926.6 813.4L929.3 808.7L931.9 803.8L934.5 798.6L937.2 793.3L939.8 787.7L942.4 781.9L945.1 775.9L947.7 769.8L950.3 763.4L953.0 756.8L955.6 750.1L958.3 743.2L960.9 736.1L963.5 728.9L966.2 721.6L968.8 714.2L971.4 706.6L974.1 699.0L976.7 691.3L979.3 683.6L982.0 675.8L984.6 668.0L987.2 660.3L989.9 652.5L992.5 644.8L995.2 637.1L997.8 629.5L1000.4 622.0L1003.1 614.5L1005.7 607.2L1008.3 600.0L1011.0 593.0L1013.6 586.0L1016.2 579.3L1018.9 572.6L1021.5 566.2L1024.2 559.9L1026.8 553.8L1029.4 547.9L1032.1 542.2L1034.7 536.6L1037.3 531.3L1040.0 526.1L1042.6 521.1L1045.2 516.3L1047.9 511.7L1050.5 507.3L1053.1 503.0L1055.8 499.0L1058.4 495.1L1061.1 491.3L1063.7 487.8L1066.3 484.4L1069.0 481.1L1071.6 478.0L1074.2 475.1L1076.9 472.2L1079.5 469.6L1082.1 467.0L1084.8 464.6L1087.4 462.3L1090.1 460.1L1092.7 458.1L1095.3 456.1L1098.0 454.2L1100.6 452.5L1103.2 450.8L1105.9 449.2L1108.5 447.7L1111.1 446.3L1113.8 445.0L1116.4 443.7L1119.0 442.5L1121.7 441.4L1124.3 440.3L1127.0 439.3L1129.6 438.4L1132.2 437.5L1134.9 436.6L1137.5 435.8L1140.1 435.0L1142.8 434.3L1145.4 433.6L1148.0 433.0L1150.7 432.4L1153.3 431.8L1156.0 431.3L1158.6 430.8L1161.2 430.3L1163.9 429.9L1166.5 429.4L1169.1 429.0L1171.8 428.7L1174.4 428.3L1177.0 428.0L1179.7 427.7L1182.3 427.4L1184.9 427.1L1187.6 426.8L1190.2 426.6L1192.9 426.3L1195.5 426.1L1198.1 425.9L1200.8 425.7L1203.4 425.5L1206.0 425.3L1208.7 425.1L1211.3 425.0L1213.9 424.8L1216.6 424.7L1219.2 424.5L1221.9 424.4L1224.5 424.3L1227.1 424.2L1229.8 424.1L1232.4 424.0L1235.0 423.9L1237.7 423.8L1240.3 423.7L1242.9 423.6L1245.6 423.5L1248.2 423.4L1250.8 423.3L1253.5 423.2L1256.1 423.2L1258.8 423.1L1261.4 423.0L1264.0 423.0L1266.7 422.9L1269.3 422.8L1271.9 422.8L1274.6 422.7L1277.2 422.6L1279.8 422.6L1282.5 422.5L1285.1 422.4L1287.8 422.4L1290.4 422.3L1293.0 422.3L1295.7 422.2L1298.3 422.1L1300.9 422.1L1303.6 422.0L1306.2 422.0L1308.8 421.9L1311.5 421.8L1314.1 421.8L1316.7 421.7L1319.4 421.6L1322.0 421.5L1324.7 421.5L1327.3 421.4L1329.9 421.3L1332.6 421.2L1335.2 421.2L1337.8 421.1L1340.5 421.0L1343.1 420.9L1345.7 420.8L1348.4 420.7L1351.0 420.7L1353.7 420.6L1356.3 420.5L1358.9 420.4L1361.6 420.3L1364.2 420.2L1366.8 420.1L1369.5 420.0L1372.1 419.9L1374.7 419.7L1377.4 419.6L1380.0 419.5L1382.6 419.4L1385.3 419.3L1387.9 419.2L1390.6 419.0L1393.2 418.9L1395.8 418.8L1398.5 418.7L1401.1 418.5L1403.7 418.4L1406.4 418.3L1409.0 418.2L1411.6 418.0L1414.3 417.9L1416.9 417.8L1419.6 417.6L1422.2 417.5L1424.8 417.4L1427.5 417.2L1430.1 417.1L1432.7 417.0L1435.4 416.8L1438.0 416.7L1440.6 416.6L1443.3 416.5L1445.9 416.3L1448.5 416.2L1451.2 416.1L1453.8 416.0L1456.5 415.9L1459.1 415.7L1461.7 415.6L1464.4 415.5L1467.0 415.4" stroke="#A8297E"/>
<path d="M307.2 886.7L309.8 886.7L312.4 886.7L315.1 886.7L317.7 886.7L320.3 886.7L323.0 886.7L325.6 886.7L328.2 886.7L330.9 886.7L333.5 886.7L336.2 886.7L338.8 886.7L341.4 886.7L344.1 886.7L346.7 886.7L349.3 886.7L352.0 886.7L354.6 886.7L357.2 886.7L359.9 886.7L362.5 886.7L365.2 886.7L367.8 886.7L370.4 886.7L373.1 886.7L375.7 886.7L378.3 886.7L381.0 886.7L383.6 886.7L386.2 886.7L388.9 886.7L391.5 886.7L394.1 886.7L396.8 886.7L399.4 886.7L402.1 886.7L404.7 886.7L407.3 886.7L410.0 886.7L412.6 886.7L415.2 886.7L417.9 886.7L420.5 886.7L423.1 886.7L425.8 886.7L428.4 886.7L431.1 886.7L433.7 886.7L436.3 886.7L439.0 886.7L441.6 886.7L444.2 886.7L446.9 886.7L449.5 886.7L452.1 886.7L454.8 886.7L457.4 886.7L460.0 886.7L462.7 886.7L465.3 886.7L468.0 886.7L470.6 886.7L473.2 886.7L475.9 886.7L478.5 886.7L481.1 886.7L483.8 886.7L486.4 886.7L489.0 886.7L491.7 886.7L494.3 886.7L497.0 886.7L499.6 886.7L502.2 886.7L504.9 886.7L507.5 886.7L510.1 886.7L512.8 886.7L515.4 886.7L518.0 886.7L520.7 886.7L523.3 886.7L525.9 886.7L528.6 886.7L531.2 886.7L533.9 886.7L536.5 886.7L539.1 886.7L541.8 886.7L544.4 886.7L547.0 886.7L549.7 886.7L552.3 886.7L554.9 886.7L557.6 886.7L560.2 886.7L562.9 886.7L565.5 886.7L568.1 886.7L570.8 886.7L573.4 886.7L576.0 886.7L578.7 886.7L581.3 886.7L583.9 886.7L586.6 886.7L589.2 886.7L591.8 886.7L594.5 886.7L597.1 886.7L599.8 886.7L602.4 886.7L605.0 886.7L607.7 886.7L610.3 886.7L612.9 886.7L615.6 886.7L618.2 886.7L620.8 886.7L623.5 886.7L626.1 886.7L628.8 886.7L631.4 886.7L634.0 886.7L636.7 886.7L639.3 886.7L641.9 886.7L644.6 886.7L647.2 886.7L649.8 886.7L652.5 886.7L655.1 886.7L657.7 886.7L660.4 886.7L663.0 886.7L665.7 886.7L668.3 886.7L670.9 886.7L673.6 886.7L676.2 886.7L678.8 886.7L681.5 886.7L684.1 886.7L686.7 886.7L689.4 886.7L692.0 886.7L694.7 886.7L697.3 886.7L699.9 886.7L702.6 886.7L705.2 886.7L707.8 886.7L710.5 886.7L713.1 886.7L715.7 886.7L718.4 886.7L721.0 886.7L723.6 886.7L726.3 886.7L728.9 886.7L731.6 886.7L734.2 886.7L736.8 886.6L739.5 886.6L742.1 886.6L744.7 886.6L747.4 886.6L750.0 886.6L752.6 886.6L755.3 886.6L757.9 886.6L760.6 886.5L763.2 886.5L765.8 886.5L768.5 886.5L771.1 886.5L773.7 886.4L776.4 886.4L779.0 886.4L781.6 886.3L784.3 886.3L786.9 886.2L789.5 886.2L792.2 886.1L794.8 886.0L797.5 885.9L800.1 885.8L802.7 885.7L805.4 885.6L808.0 885.5L810.6 885.4L813.3 885.2L815.9 885.1L818.5 884.9L821.2 884.7L823.8 884.4L826.5 884.2L829.1 883.9L831.7 883.6L834.4 883.3L837.0 882.9L839.6 882.5L842.3 882.0L844.9 881.5L847.5 881.0L850.2 880.4L852.8 879.7L855.4 879.0L858.1 878.2L860.7 877.4L863.4 876.4L866.0 875.4L868.6 874.3L871.3 873.1L873.9 871.8L876.5 870.4L879.2 868.9L881.8 867.3L884.4 865.5L887.1 863.7L889.7 861.6L892.4 859.5L895.0 857.2L897.6 854.7L900.3 852.1L902.9 849.3L905.5 846.3L908.2 843.2L910.8 839.8L913.4 836.3L916.1 832.6L918.7 828.8L921.3 824.7L924.0 820.4L926.6 816.0L929.3 811.3L931.9 806.5L934.5 801.4L937.2 796.2L939.8 790.8L942.4 785.3L945.1 779.5L947.7 773.6L950.3 767.6L953.0 761.4L955.6 755.1L958.3 748.6L960.9 742.0L963.5 735.4L966.2 728.6L968.8 721.7L971.4 714.8L974.1 707.8L976.7 700.8L979.3 693.7L982.0 686.6L984.6 679.5L987.2 672.4L989.9 665.3L992.5 658.3L995.2 651.3L997.8 644.3L1000.4 637.3L1003.1 630.5L1005.7 623.7L1008.3 617.0L1011.0 610.4L1013.6 603.9L1016.2 597.4L1018.9 591.1L1021.5 584.9L1024.2 578.9L1026.8 572.9L1029.4 567.1L1032.1 561.4L1034.7 555.9L1037.3 550.5L1040.0 545.2L1042.6 540.0L1045.2 535.0L1047.9 530.2L1050.5 525.5L1053.1 520.9L1055.8 516.4L1058.4 512.1L1061.1 508.0L1063.7 503.9L1066.3 500.0L1069.0 496.2L1071.6 492.6L1074.2 489.1L1076.9 485.7L1079.5 482.4L1082.1 479.2L1084.8 476.2L1087.4 473.2L1090.1 470.4L1092.7 467.7L1095.3 465.1L1098.0 462.5L1100.6 460.1L1103.2 457.8L1105.9 455.5L1108.5 453.4L1111.1 451.3L1113.8 449.3L1116.4 447.4L1119.0 445.6L1121.7 443.8L1124.3 442.1L1127.0 440.5L1129.6 438.9L1132.2 437.4L1134.9 436.0L1137.5 434.6L1140.1 433.3L1142.8 432.0L1145.4 430.8L1148.0 429.7L1150.7 428.6L1153.3 427.5L1156.0 426.5L1158.6 425.5L1161.2 424.5L1163.9 423.6L1166.5 422.7L1169.1 421.9L1171.8 421.1L1174.4 420.3L1177.0 419.6L1179.7 418.9L1182.3 418.2L1184.9 417.6L1187.6 416.9L1190.2 416.3L1192.9 415.8L1195.5 415.2L1198.1 414.7L1200.8 414.1L1203.4 413.6L1206.0 413.2L1208.7 412.7L1211.3 412.3L1213.9 411.8L1216.6 411.4L1219.2 411.0L1221.9 410.6L1224.5 410.3L1227.1 409.9L1229.8 409.6L1232.4 409.2L1235.0 408.9L1237.7 408.6L1240.3 408.3L1242.9 408.0L1245.6 407.7L1248.2 407.4L1250.8 407.2L1253.5 406.9L1256.1 406.7L1258.8 406.4L1261.4 406.2L1264.0 405.9L1266.7 405.7L1269.3 405.5L1271.9 405.2L1274.6 405.0L1277.2 404.8L1279.8 404.6L1282.5 404.4L1285.1 404.2L1287.8 404.0L1290.4 403.8L1293.0 403.6L1295.7 403.4L1298.3 403.2L1300.9 403.0L1303.6 402.8L1306.2 402.7L1308.8 402.5L1311.5 402.3L1314.1 402.1L1316.7 401.9L1319.4 401.7L1322.0 401.5L1324.7 401.3L1327.3 401.2L1329.9 401.0L1332.6 400.8L1335.2 400.6L1337.8 400.4L1340.5 400.2L1343.1 400.0L1345.7 399.8L1348.4 399.6L1351.0 399.4L1353.7 399.2L1356.3 399.0L1358.9 398.8L1361.6 398.6L1364.2 398.3L1366.8 398.1L1369.5 397.9L1372.1 397.6L1374.7 397.4L1377.4 397.2L1380.0 396.9L1382.6 396.7L1385.3 396.4L1387.9 396.1L1390.6 395.9L1393.2 395.6L1395.8 395.3L1398.5 395.0L1401.1 394.7L1403.7 394.4L1406.4 394.1L1409.0 393.8L1411.6 393.4L1414.3 393.1L1416.9 392.8L1419.6 392.4L1422.2 392.1L1424.8 391.7L1427.5 391.3L1430.1 390.9L1432.7 390.5L1435.4 390.1L1438.0 389.7L1440.6 389.3L1443.3 388.9L1445.9 388.5L1448.5 388.1L1451.2 387.6L1453.8 387.2L1456.5 386.7L1459.1 386.3L1461.7 385.8L1464.4 385.3L1467.0 384.8" stroke="#A8297E"/>
<path d="M307.2 886.7L309.8 886.7L312.4 886.7L315.1 886.7L317.7 886.7L320.3 886.7L323.0 886.7L325.6 886.7L328.2 886.7L330.9 886.7L333.5 886.7L336.2 886.7L338.8 886.7L341.4 886.7L344.1 886.7L346.7 886.7L349.3 886.7L352.0 886.7L354.6 886.7L357.2 886.7L359.9 886.7L362.5 886.7L365.2 886.7L367.8 886.7L370.4 886.7L373.1 886.7L375.7 886.7L378.3 886.7L381.0 886.7L383.6 886.7L386.2 886.7L388.9 886.7L391.5 886.7L394.1 886.7L396.8 886.7L399.4 886.7L402.1 886.7L404.7 886.7L407.3 886.7L410.0 886.7L412.6 886.7L415.2 886.7L417.9 886.7L420.5 886.7L423.1 886.7L425.8 886.7L428.4 886.7L431.1 886.7L433.7 886.7L436.3 886.7L439.0 886.7L441.6 886.7L444.2 886.7L446.9 886.7L449.5 886.7L452.1 886.7L454.8 886.7L457.4 886.7L460.0 886.7L462.7 886.7L465.3 886.7L468.0 886.7L470.6 886.7L473.2 886.7L475.9 886.7L478.5 886.7L481.1 886.7L483.8 886.7L486.4 886.7L489.0 886.7L491.7 886.7L494.3 886.7L497.0 886.7L499.6 886.7L502.2 886.7L504.9 886.7L507.5 886.7L510.1 886.7L512.8 886.7L515.4 886.7L518.0 886.7L520.7 886.7L523.3 886.7L525.9 886.7L528.6 886.7L531.2 886.7L533.9 886.7L536.5 886.7L539.1 886.7L541.8 886.7L544.4 886.7L547.0 886.7L549.7 886.7L552.3 886.7L554.9 886.7L557.6 886.7L560.2 886.7L562.9 886.7L565.5 886.7L568.1 886.7L570.8 886.7L573.4 886.7L576.0 886.7L578.7 886.7L581.3 886.7L583.9 886.7L586.6 886.7L589.2 886.7L591.8 886.7L594.5 886.7L597.1 886.7L599.8 886.7L602.4 886.7L605.0 886.7L607.7 886.7L610.3 886.7L612.9 886.7L615.6 886.7L618.2 886.7L620.8 886.7L623.5 886.7L626.1 886.7L628.8 886.7L631.4 886.7L634.0 886.7L636.7 886.7L639.3 886.7L641.9 886.7L644.6 886.7L647.2 886.7L649.8 886.7L652.5 886.7L655.1 886.7L657.7 886.7L660.4 886.7L663.0 886.7L665.7 886.7L668.3 886.7L670.9 886.7L673.6 886.7L676.2 886.7L678.8 886.7L681.5 886.7L684.1 886.7L686.7 886.7L689.4 886.7L692.0 886.7L694.7 886.7L697.3 886.7L699.9 886.7L702.6 886.7L705.2 886.7L707.8 886.7L710.5 886.7L713.1 886.7L715.7 886.7L718.4 886.7L721.0 886.7L723.6 886.7L726.3 886.7L728.9 886.7L731.6 886.7L734.2 886.7L736.8 886.7L739.5 886.7L742.1 886.7L744.7 886.7L747.4 886.7L750.0 886.6L752.6 886.6L755.3 886.6L757.9 886.6L760.6 886.6L763.2 886.6L765.8 886.6L768.5 886.6L771.1 886.6L773.7 886.6L776.4 886.6L779.0 886.6L781.6 886.6L784.3 886.6L786.9 886.5L789.5 886.5L792.2 886.5L794.8 886.5L797.5 886.5L800.1 886.5L802.7 886.5L805.4 886.4L808.0 886.4L810.6 886.4L813.3 886.4L815.9 886.3L818.5 886.3L821.2 886.3L823.8 886.3L826.5 886.2L829.1 886.2L831.7 886.1L834.4 886.1L837.0 886.0L839.6 886.0L842.3 885.9L844.9 885.9L847.5 885.8L850.2 885.7L852.8 885.7L855.4 885.6L858.1 885.5L860.7 885.4L863.4 885.3L866.0 885.2L868.6 885.1L871.3 884.9L873.9 884.8L876.5 884.6L879.2 884.5L881.8 884.3L884.4 884.1L887.1 883.9L889.7 883.7L892.4 883.4L895.0 883.2L897.6 882.9L900.3 882.6L902.9 882.3L905.5 881.9L908.2 881.5L910.8 881.1L913.4 880.7L916.1 880.2L918.7 879.7L921.3 879.1L924.0 878.5L926.6 877.9L929.3 877.2L931.9 876.4L934.5 875.6L937.2 874.8L939.8 873.8L942.4 872.8L945.1 871.7L947.7 870.5L950.3 869.3L953.0 867.9L955.6 866.5L958.3 864.9L960.9 863.2L963.5 861.4L966.2 859.5L968.8 857.4L971.4 855.2L974.1 852.8L976.7 850.2L979.3 847.5L982.0 844.5L984.6 841.4L987.2 838.1L989.9 834.5L992.5 830.7L995.2 826.7L997.8 822.4L1000.4 817.8L1003.1 813.0L1005.7 807.9L1008.3 802.5L1011.0 796.9L1013.6 790.9L1016.2 784.6L1018.9 778.0L1021.5 771.2L1024.2 764.0L1026.8 756.6L1029.4 748.8L1032.1 740.8L1034.7 732.5L1037.3 724.0L1040.0 715.3L1042.6 706.4L1045.2 697.3L1047.9 688.1L1050.5 678.7L1053.1 669.3L1055.8 659.8L1058.4 650.3L1061.1 640.8L1063.7 631.3L1066.3 621.9L1069.0 612.7L1071.6 603.5L1074.2 594.5L1076.9 585.7L1079.5 577.1L1082.1 568.7L1084.8 560.5L1087.4 552.6L1090.1 545.0L1092.7 537.6L1095.3 530.5L1098.0 523.6L1100.6 517.0L1103.2 510.7L1105.9 504.7L1108.5 498.9L1111.1 493.4L1113.8 488.1L1116.4 483.0L1119.0 478.2L1121.7 473.6L1124.3 469.2L1127.0 465.0L1129.6 461.0L1132.2 457.1L1134.9 453.5L1137.5 449.9L1140.1 446.6L1142.8 443.3L1145.4 440.2L1148.0 437.3L1150.7 434.4L1153.3 431.6L1156.0 429.0L1158.6 426.4L1161.2 424.0L1163.9 421.6L1166.5 419.3L1169.1 417.1L1171.8 414.9L1174.4 412.9L1177.0 410.9L1179.7 408.9L1182.3 407.1L1184.9 405.2L1187.6 403.5L1190.2 401.8L1192.9 400.1L1195.5 398.5L1198.1 396.9L1200.8 395.4L1203.4 394.0L1206.0 392.5L1208.7 391.2L1211.3 389.8L1213.9 388.5L1216.6 387.3L1219.2 386.1L1221.9 384.9L1224.5 383.8L1227.1 382.7L1229.8 381.6L1232.4 380.6L1235.0 379.6L1237.7 378.6L1240.3 377.7L1242.9 376.8L1245.6 375.9L1248.2 375.0L1250.8 374.2L1253.5 373.4L1256.1 372.7L1258.8 371.9L1261.4 371.2L1264.0 370.5L1266.7 369.8L1269.3 369.2L1271.9 368.6L1274.6 368.0L1277.2 367.4L1279.8 366.8L1282.5 366.3L1285.1 365.8L1287.8 365.2L1290.4 364.7L1293.0 364.3L1295.7 363.8L1298.3 363.4L1300.9 362.9L1303.6 362.5L1306.2 362.1L1308.8 361.7L1311.5 361.3L1314.1 360.9L1316.7 360.6L1319.4 360.2L1322.0 359.9L1324.7 359.6L1327.3 359.2L1329.9 358.9L1332.6 358.6L1335.2 358.3L1337.8 358.1L1340.5 357.8L1343.1 357.5L1345.7 357.2L1348.4 357.0L1351.0 356.7L1353.7 356.5L1356.3 356.2L1358.9 356.0L1361.6 355.8L1364.2 355.5L1366.8 355.3L1369.5 355.1L1372.1 354.9L1374.7 354.7L1377.4 354.5L1380.0 354.3L1382.6 354.1L1385.3 353.9L1387.9 353.7L1390.6 353.5L1393.2 353.3L1395.8 353.1L1398.5 353.0L1401.1 352.8L1403.7 352.6L1406.4 352.4L1409.0 352.3L1411.6 352.1L1414.3 351.9L1416.9 351.8L1419.6 351.6L1422.2 351.4L1424.8 351.3L1427.5 351.1L1430.1 351.0L1432.7 350.8L1435.4 350.6L1438.0 350.5L1440.6 350.3L1443.3 350.2L1445.9 350.0L1448.5 349.9L1451.2 349.7L1453.8 349.6L1456.5 349.5L1459.1 349.3L1461.7 349.2L1464.4 349.0L1467.0 348.9" stroke="#A8297E"/>
<path d="M307.2 886.7L309.8 886.7L312.4 886.7L315.1 886.7L317.7 886.7L320.3 886.7L323.0 886.7L325.6 886.7L328.2 886.7L330.9 886.7L333.5 886.7L336.2 886.7L338.8 886.7L341.4 886.7L344.1 886.7L346.7 886.7L349.3 886.7L352.0 886.7L354.6 886.7L357.2 886.7L359.9 886.7L362.5 886.7L365.2 886.7L367.8 886.7L370.4 886.7L373.1 886.7L375.7 886.7L378.3 886.7L381.0 886.7L383.6 886.7L386.2 886.7L388.9 886.7L391.5 886.7L394.1 886.7L396.8 886.7L399.4 886.7L402.1 886.7L404.7 886.7L407.3 886.7L410.0 886.7L412.6 886.7L415.2 886.7L417.9 886.7L420.5 886.7L423.1 886.7L425.8 886.7L428.4 886.7L431.1 886.7L433.7 886.7L436.3 886.7L439.0 886.7L441.6 886.7L444.2 886.7L446.9 886.7L449.5 886.7L452.1 886.7L454.8 886.7L457.4 886.7L460.0 886.7L462.7 886.7L465.3 886.7L468.0 886.7L470.6 886.7L473.2 886.7L475.9 886.7L478.5 886.7L481.1 886.7L483.8 886.7L486.4 886.7L489.0 886.7L491.7 886.7L494.3 886.7L497.0 886.7L499.6 886.7L502.2 886.7L504.9 886.7L507.5 886.7L510.1 886.7L512.8 886.7L515.4 886.7L518.0 886.7L520.7 886.7L523.3 886.7L525.9 886.7L528.6 886.7L531.2 886.7L533.9 886.7L536.5 886.7L539.1 886.7L541.8 886.7L544.4 886.7L547.0 886.7L549.7 886.7L552.3 886.7L554.9 886.7L557.6 886.7L560.2 886.7L562.9 886.7L565.5 886.7L568.1 886.7L570.8 886.7L573.4 886.7L576.0 886.7L578.7 886.7L581.3 886.7L583.9 886.7L586.6 886.7L589.2 886.7L591.8 886.7L594.5 886.7L597.1 886.7L599.8 886.7L602.4 886.7L605.0 886.7L607.7 886.7L610.3 886.7L612.9 886.7L615.6 886.7L618.2 886.7L620.8 886.7L623.5 886.7L626.1 886.7L628.8 886.7L631.4 886.7L634.0 886.7L636.7 886.7L639.3 886.7L641.9 886.7L644.6 886.7L647.2 886.7L649.8 886.7L652.5 886.7L655.1 886.7L657.7 886.7L660.4 886.7L663.0 886.7L665.7 886.7L668.3 886.7L670.9 886.7L673.6 886.7L676.2 886.7L678.8 886.7L681.5 886.7L684.1 886.7L686.7 886.7L689.4 886.7L692.0 886.7L694.7 886.7L697.3 886.7L699.9 886.7L702.6 886.7L705.2 886.7L707.8 886.7L710.5 886.7L713.1 886.7L715.7 886.7L718.4 886.7L721.0 886.7L723.6 886.7L726.3 886.7L728.9 886.7L731.6 886.7L734.2 886.7L736.8 886.7L739.5 886.7L742.1 886.7L744.7 886.7L747.4 886.7L750.0 886.7L752.6 886.7L755.3 886.7L757.9 886.7L760.6 886.7L763.2 886.7L765.8 886.6L768.5 886.6L771.1 886.6L773.7 886.6L776.4 886.6L779.0 886.6L781.6 886.6L784.3 886.6L786.9 886.6L789.5 886.6L792.2 886.6L794.8 886.6L797.5 886.6L800.1 886.5L802.7 886.5L805.4 886.5L808.0 886.5L810.6 886.5L813.3 886.5L815.9 886.5L818.5 886.4L821.2 886.4L823.8 886.4L826.5 886.4L829.1 886.3L831.7 886.3L834.4 886.3L837.0 886.2L839.6 886.2L842.3 886.1L844.9 886.1L847.5 886.0L850.2 886.0L852.8 885.9L855.4 885.9L858.1 885.8L860.7 885.7L863.4 885.6L866.0 885.5L868.6 885.4L871.3 885.3L873.9 885.2L876.5 885.1L879.2 884.9L881.8 884.8L884.4 884.6L887.1 884.4L889.7 884.2L892.4 884.0L895.0 883.8L897.6 883.6L900.3 883.3L902.9 883.0L905.5 882.7L908.2 882.4L910.8 882.0L913.4 881.6L916.1 881.2L918.7 880.7L921.3 880.2L924.0 879.7L926.6 879.1L929.3 878.4L931.9 877.7L934.5 877.0L937.2 876.2L939.8 875.3L942.4 874.3L945.1 873.3L947.7 872.2L950.3 871.0L953.0 869.7L955.6 868.4L958.3 866.9L960.9 865.2L963.5 863.5L966.2 861.7L968.8 859.7L971.4 857.5L974.1 855.2L976.7 852.7L979.3 850.1L982.0 847.3L984.6 844.2L987.2 841.0L989.9 837.6L992.5 833.9L995.2 830.1L997.8 825.9L1000.4 821.6L1003.1 817.0L1005.7 812.1L1008.3 807.0L1011.0 801.6L1013.6 796.0L1016.2 790.1L1018.9 783.9L1021.5 777.5L1024.2 770.8L1026.8 763.9L1029.4 756.7L1032.1 749.4L1034.7 741.8L1037.3 734.0L1040.0 726.1L1042.6 718.0L1045.2 709.7L1047.9 701.4L1050.5 693.0L1053.1 684.5L1055.8 675.9L1058.4 667.4L1061.1 658.8L1063.7 650.3L1066.3 641.9L1069.0 633.5L1071.6 625.2L1074.2 617.0L1076.9 609.0L1079.5 601.1L1082.1 593.4L1084.8 585.8L1087.4 578.4L1090.1 571.2L1092.7 564.2L1095.3 557.4L1098.0 550.8L1100.6 544.4L1103.2 538.3L1105.9 532.3L1108.5 526.5L1111.1 521.0L1113.8 515.6L1116.4 510.4L1119.0 505.5L1121.7 500.7L1124.3 496.1L1127.0 491.6L1129.6 487.4L1132.2 483.3L1134.9 479.4L1137.5 475.6L1140.1 472.0L1142.8 468.5L1145.4 465.2L1148.0 462.0L1150.7 458.9L1153.3 455.9L1156.0 453.1L1158.6 450.4L1161.2 447.8L1163.9 445.3L1166.5 442.8L1169.1 440.5L1171.8 438.3L1174.4 436.2L1177.0 434.1L1179.7 432.2L1182.3 430.3L1184.9 428.5L1187.6 426.7L1190.2 425.0L1192.9 423.4L1195.5 421.9L1198.1 420.4L1200.8 419.0L1203.4 417.6L1206.0 416.3L1208.7 415.0L1211.3 413.8L1213.9 412.6L1216.6 411.5L1219.2 410.4L1221.9 409.3L1224.5 408.3L1227.1 407.3L1229.8 406.4L1232.4 405.5L1235.0 404.6L1237.7 403.8L1240.3 402.9L1242.9 402.2L1245.6 401.4L1248.2 400.7L1250.8 400.0L1253.5 399.3L1256.1 398.6L1258.8 398.0L1261.4 397.3L1264.0 396.7L1266.7 396.1L1269.3 395.6L1271.9 395.0L1274.6 394.5L1277.2 394.0L1279.8 393.4L1282.5 392.9L1285.1 392.5L1287.8 392.0L1290.4 391.5L1293.0 391.1L1295.7 390.7L1298.3 390.2L1300.9 389.8L1303.6 389.4L1306.2 389.0L1308.8 388.6L1311.5 388.2L1314.1 387.9L1316.7 387.5L1319.4 387.1L1322.0 386.8L1324.7 386.4L1327.3 386.1L1329.9 385.8L1332.6 385.4L1335.2 385.1L1337.8 384.8L1340.5 384.5L1343.1 384.1L1345.7 383.8L1348.4 383.5L1351.0 383.2L1353.7 382.9L1356.3 382.6L1358.9 382.3L1361.6 382.1L1364.2 381.8L1366.8 381.5L1369.5 381.2L1372.1 380.9L1374.7 380.6L1377.4 380.4L1380.0 380.1L1382.6 379.8L1385.3 379.6L1387.9 379.3L1390.6 379.0L1393.2 378.8L1395.8 378.5L1398.5 378.3L1401.1 378.0L1403.7 377.7L1406.4 377.5L1409.0 377.2L1411.6 377.0L1414.3 376.7L1416.9 376.5L1419.6 376.2L1422.2 376.0L1424.8 375.7L1427.5 375.5L1430.1 375.2L1432.7 375.0L1435.4 374.7L1438.0 374.5L1440.6 374.3L1443.3 374.0L1445.9 373.8L1448.5 373.5L1451.2 373.3L1453.8 373.1L1456.5 372.8L1459.1 372.6L1461.7 372.3L1464.4 372.1L1467.0 371.9" stroke="#A8297E"/>
<path d="M307.2 886.7L309.8 886.7L312.4 886.7L315.1 886.7L317.7 886.7L320.3 886.7L323.0 886.7L325.6 886.7L328.2 886.7L330.9 886.7L333.5 886.7L336.2 886.7L338.8 886.7L341.4 886.7L344.1 886.7L346.7 886.7L349.3 886.7L352.0 886.7L354.6 886.7L357.2 886.7L359.9 886.7L362.5 886.7L365.2 886.7L367.8 886.7L370.4 886.7L373.1 886.7L375.7 886.7L378.3 886.7L381.0 886.7L383.6 886.7L386.2 886.7L388.9 886.7L391.5 886.7L394.1 886.7L396.8 886.7L399.4 886.7L402.1 886.7L404.7 886.7L407.3 886.7L410.0 886.7L412.6 886.7L415.2 886.7L417.9 886.7L420.5 886.7L423.1 886.7L425.8 886.7L428.4 886.7L431.1 886.7L433.7 886.7L436.3 886.7L439.0 886.7L441.6 886.7L444.2 886.7L446.9 886.7L449.5 886.7L452.1 886.7L454.8 886.7L457.4 886.7L460.0 886.7L462.7 886.7L465.3 886.7L468.0 886.7L470.6 886.7L473.2 886.7L475.9 886.7L478.5 886.7L481.1 886.7L483.8 886.7L486.4 886.7L489.0 886.7L491.7 886.7L494.3 886.7L497.0 886.7L499.6 886.7L502.2 886.7L504.9 886.7L507.5 886.7L510.1 886.7L512.8 886.7L515.4 886.7L518.0 886.7L520.7 886.7L523.3 886.7L525.9 886.7L528.6 886.7L531.2 886.7L533.9 886.7L536.5 886.7L539.1 886.7L541.8 886.7L544.4 886.7L547.0 886.7L549.7 886.7L552.3 886.7L554.9 886.7L557.6 886.7L560.2 886.7L562.9 886.7L565.5 886.7L568.1 886.7L570.8 886.7L573.4 886.7L576.0 886.7L578.7 886.7L581.3 886.7L583.9 886.7L586.6 886.7L589.2 886.7L591.8 886.7L594.5 886.7L597.1 886.7L599.8 886.7L602.4 886.7L605.0 886.7L607.7 886.7L610.3 886.7L612.9 886.7L615.6 886.7L618.2 886.7L620.8 886.7L623.5 886.7L626.1 886.7L628.8 886.7L631.4 886.7L634.0 886.7L636.7 886.7L639.3 886.7L641.9 886.7L644.6 886.7L647.2 886.7L649.8 886.7L652.5 886.7L655.1 886.7L657.7 886.7L660.4 886.7L663.0 886.7L665.7 886.7L668.3 886.7L670.9 886.7L673.6 886.7L676.2 886.7L678.8 886.7L681.5 886.7L684.1 886.7L686.7 886.7L689.4 886.7L692.0 886.7L694.7 886.7L697.3 886.7L699.9 886.7L702.6 886.7L705.2 886.7L707.8 886.7L710.5 886.7L713.1 886.7L715.7 886.7L718.4 886.7L721.0 886.7L723.6 886.7L726.3 886.7L728.9 886.7L731.6 886.6L734.2 886.6L736.8 886.6L739.5 886.6L742.1 886.6L744.7 886.6L747.4 886.6L750.0 886.6L752.6 886.6L755.3 886.6L757.9 886.6L760.6 886.6L763.2 886.6L765.8 886.6L768.5 886.6L771.1 886.6L773.7 886.5L776.4 886.5L779.0 886.5L781.6 886.5L784.3 886.5L786.9 886.5L789.5 886.5L792.2 886.5L794.8 886.4L797.5 886.4L800.1 886.4L802.7 886.4L805.4 886.3L808.0 886.3L810.6 886.3L813.3 886.3L815.9 886.2L818.5 886.2L821.2 886.2L823.8 886.1L826.5 886.1L829.1 886.0L831.7 886.0L834.4 885.9L837.0 885.9L839.6 885.8L842.3 885.8L844.9 885.7L847.5 885.6L850.2 885.6L852.8 885.5L855.4 885.4L858.1 885.3L860.7 885.2L863.4 885.1L866.0 885.0L868.6 884.9L871.3 884.7L873.9 884.6L876.5 884.4L879.2 884.3L881.8 884.1L884.4 883.9L887.1 883.7L889.7 883.5L892.4 883.2L895.0 883.0L897.6 882.7L900.3 882.4L902.9 882.1L905.5 881.8L908.2 881.4L910.8 881.1L913.4 880.6L916.1 880.2L918.7 879.7L921.3 879.2L924.0 878.7L926.6 878.1L929.3 877.5L931.9 876.8L934.5 876.1L937.2 875.3L939.8 874.4L942.4 873.5L945.1 872.6L947.7 871.5L950.3 870.4L953.0 869.2L955.6 867.9L958.3 866.5L960.9 865.0L963.5 863.4L966.2 861.7L968.8 859.9L971.4 857.9L974.1 855.8L976.7 853.5L979.3 851.1L982.0 848.5L984.6 845.7L987.2 842.7L989.9 839.5L992.5 836.1L995.2 832.5L997.8 828.6L1000.4 824.5L1003.1 820.1L1005.7 815.5L1008.3 810.6L1011.0 805.4L1013.6 799.9L1016.2 794.2L1018.9 788.1L1021.5 781.8L1024.2 775.2L1026.8 768.4L1029.4 761.3L1032.1 753.9L1034.7 746.4L1037.3 738.6L1040.0 730.7L1042.6 722.6L1045.2 714.5L1047.9 706.2L1050.5 697.9L1053.1 689.6L1055.8 681.3L1058.4 673.0L1061.1 664.8L1063.7 656.7L1066.3 648.6L1069.0 640.7L1071.6 633.0L1074.2 625.4L1076.9 617.9L1079.5 610.6L1082.1 603.4L1084.8 596.4L1087.4 589.6L1090.1 582.9L1092.7 576.4L1095.3 570.0L1098.0 563.8L1100.6 557.7L1103.2 551.7L1105.9 545.9L1108.5 540.2L1111.1 534.6L1113.8 529.1L1116.4 523.7L1119.0 518.4L1121.7 513.2L1124.3 508.2L1127.0 503.2L1129.6 498.3L1132.2 493.5L1134.9 488.8L1137.5 484.1L1140.1 479.6L1142.8 475.2L1145.4 470.8L1148.0 466.6L1150.7 462.4L1153.3 458.3L1156.0 454.3L1158.6 450.4L1161.2 446.6L1163.9 442.9L1166.5 439.3L1169.1 435.7L1171.8 432.3L1174.4 428.9L1177.0 425.6L1179.7 422.4L1182.3 419.3L1184.9 416.3L1187.6 413.4L1190.2 410.6L1192.9 407.8L1195.5 405.1L1198.1 402.6L1200.8 400.0L1203.4 397.6L1206.0 395.3L1208.7 393.0L1211.3 390.8L1213.9 388.6L1216.6 386.6L1219.2 384.6L1221.9 382.7L1224.5 380.8L1227.1 379.0L1229.8 377.3L1232.4 375.6L1235.0 374.0L1237.7 372.4L1240.3 370.9L1242.9 369.5L1245.6 368.1L1248.2 366.7L1250.8 365.4L1253.5 364.1L1256.1 362.9L1258.8 361.8L1261.4 360.6L1264.0 359.5L1266.7 358.5L1269.3 357.5L1271.9 356.5L1274.6 355.5L1277.2 354.6L1279.8 353.7L1282.5 352.9L1285.1 352.1L1287.8 351.3L1290.4 350.5L1293.0 349.7L1295.7 349.0L1298.3 348.3L1300.9 347.6L1303.6 347.0L1306.2 346.4L1308.8 345.7L1311.5 345.1L1314.1 344.6L1316.7 344.0L1319.4 343.4L1322.0 342.9L1324.7 342.4L1327.3 341.9L1329.9 341.4L1332.6 340.9L1335.2 340.5L1337.8 340.0L1340.5 339.6L1343.1 339.1L1345.7 338.7L1348.4 338.3L1351.0 337.9L1353.7 337.5L1356.3 337.1L1358.9 336.7L1361.6 336.4L1364.2 336.0L1366.8 335.7L1369.5 335.3L1372.1 335.0L1374.7 334.6L1377.4 334.3L1380.0 334.0L1382.6 333.6L1385.3 333.3L1387.9 333.0L1390.6 332.7L1393.2 332.4L1395.8 332.1L1398.5 331.8L1401.1 331.5L1403.7 331.2L1406.4 330.9L1409.0 330.7L1411.6 330.4L1414.3 330.1L1416.9 329.8L1419.6 329.6L1422.2 329.3L1424.8 329.0L1427.5 328.8L1430.1 328.5L1432.7 328.2L1435.4 328.0L1438.0 327.7L1440.6 327.5L1443.3 327.2L1445.9 327.0L1448.5 326.7L1451.2 326.5L1453.8 326.2L1456.5 326.0L1459.1 325.7L1461.7 325.5L1464.4 325.3L1467.0 325.0" stroke="#A8297E"/>
<path d="M307.2 886.7L309.8 886.7L312.4 886.7L315.1 886.7L317.7 886.7L320.3 886.7L323.0 886.7L325.6 886.7L328.2 886.7L330.9 886.7L333.5 886.7L336.2 886.7L338.8 886.7L341.4 886.7L344.1 886.7L346.7 886.7L349.3 886.7L352.0 886.7L354.6 886.7L357.2 886.7L359.9 886.7L362.5 886.7L365.2 886.7L367.8 886.7L370.4 886.7L373.1 886.7L375.7 886.7L378.3 886.7L381.0 886.7L383.6 886.7L386.2 886.7L388.9 886.7L391.5 886.7L394.1 886.7L396.8 886.7L399.4 886.7L402.1 886.7L404.7 886.7L407.3 886.7L410.0 886.7L412.6 886.7L415.2 886.7L417.9 886.7L420.5 886.7L423.1 886.7L425.8 886.7L428.4 886.7L431.1 886.7L433.7 886.7L436.3 886.7L439.0 886.7L441.6 886.7L444.2 886.7L446.9 886.7L449.5 886.7L452.1 886.7L454.8 886.7L457.4 886.7L460.0 886.7L462.7 886.7L465.3 886.7L468.0 886.7L470.6 886.7L473.2 886.7L475.9 886.7L478.5 886.7L481.1 886.7L483.8 886.7L486.4 886.7L489.0 886.7L491.7 886.7L494.3 886.7L497.0 886.7L499.6 886.7L502.2 886.7L504.9 886.7L507.5 886.7L510.1 886.7L512.8 886.7L515.4 886.7L518.0 886.7L520.7 886.7L523.3 886.7L525.9 886.7L528.6 886.7L531.2 886.7L533.9 886.7L536.5 886.7L539.1 886.7L541.8 886.7L544.4 886.7L547.0 886.7L549.7 886.7L552.3 886.7L554.9 886.7L557.6 886.7L560.2 886.7L562.9 886.7L565.5 886.7L568.1 886.7L570.8 886.7L573.4 886.7L576.0 886.7L578.7 886.7L581.3 886.7L583.9 886.7L586.6 886.7L589.2 886.7L591.8 886.7L594.5 886.7L597.1 886.7L599.8 886.7L602.4 886.7L605.0 886.7L607.7 886.7L610.3 886.7L612.9 886.7L615.6 886.7L618.2 886.7L620.8 886.7L623.5 886.7L626.1 886.7L628.8 886.7L631.4 886.7L634.0 886.7L636.7 886.7L639.3 886.7L641.9 886.7L644.6 886.7L647.2 886.7L649.8 886.7L652.5 886.7L655.1 886.7L657.7 886.7L660.4 886.7L663.0 886.7L665.7 886.7L668.3 886.7L670.9 886.7L673.6 886.7L676.2 886.7L678.8 886.7L681.5 886.7L684.1 886.7L686.7 886.7L689.4 886.7L692.0 886.7L694.7 886.7L697.3 886.7L699.9 886.7L702.6 886.7L705.2 886.7L707.8 886.7L710.5 886.7L713.1 886.7L715.7 886.7L718.4 886.7L721.0 886.7L723.6 886.7L726.3 886.7L728.9 886.7L731.6 886.7L734.2 886.7L736.8 886.7L739.5 886.7L742.1 886.7L744.7 886.7L747.4 886.7L750.0 886.7L752.6 886.7L755.3 886.7L757.9 886.7L760.6 886.7L763.2 886.7L765.8 886.7L768.5 886.7L771.1 886.7L773.7 886.7L776.4 886.7L779.0 886.7L781.6 886.7L784.3 886.7L786.9 886.7L789.5 886.7L792.2 886.7L794.8 886.7L797.5 886.6L800.1 886.6L802.7 886.6L805.4 886.6L808.0 886.6L810.6 886.6L813.3 886.6L815.9 886.6L818.5 886.6L821.2 886.6L823.8 886.6L826.5 886.6L829.1 886.6L831.7 886.6L834.4 886.5L837.0 886.5L839.6 886.5L842.3 886.5L844.9 886.5L847.5 886.5L850.2 886.5L852.8 886.4L855.4 886.4L858.1 886.4L860.7 886.4L863.4 886.4L866.0 886.3L868.6 886.3L871.3 886.3L873.9 886.2L876.5 886.2L879.2 886.2L881.8 886.1L884.4 886.1L887.1 886.0L889.7 886.0L892.4 885.9L895.0 885.8L897.6 885.8L900.3 885.7L902.9 885.6L905.5 885.5L908.2 885.4L910.8 885.4L913.4 885.2L916.1 885.1L918.7 885.0L921.3 884.9L924.0 884.7L926.6 884.6L929.3 884.4L931.9 884.2L934.5 884.0L937.2 883.8L939.8 883.6L942.4 883.4L945.1 883.1L947.7 882.8L950.3 882.5L953.0 882.2L955.6 881.8L958.3 881.5L960.9 881.0L963.5 880.6L966.2 880.1L968.8 879.6L971.4 879.1L974.1 878.5L976.7 877.8L979.3 877.1L982.0 876.4L984.6 875.6L987.2 874.7L989.9 873.8L992.5 872.8L995.2 871.7L997.8 870.6L1000.4 869.3L1003.1 868.0L1005.7 866.6L1008.3 865.0L1011.0 863.4L1013.6 861.6L1016.2 859.7L1018.9 857.7L1021.5 855.5L1024.2 853.2L1026.8 850.7L1029.4 848.0L1032.1 845.2L1034.7 842.1L1037.3 838.9L1040.0 835.4L1042.6 831.8L1045.2 827.9L1047.9 823.7L1050.5 819.3L1053.1 814.7L1055.8 809.8L1058.4 804.6L1061.1 799.1L1063.7 793.4L1066.3 787.4L1069.0 781.1L1071.6 774.5L1074.2 767.7L1076.9 760.6L1079.5 753.3L1082.1 745.7L1084.8 737.8L1087.4 729.8L1090.1 721.6L1092.7 713.2L1095.3 704.7L1098.0 696.0L1100.6 687.3L1103.2 678.5L1105.9 669.7L1108.5 660.9L1111.1 652.1L1113.8 643.4L1116.4 634.8L1119.0 626.3L1121.7 618.0L1124.3 609.8L1127.0 601.8L1129.6 594.0L1132.2 586.5L1134.9 579.2L1137.5 572.1L1140.1 565.3L1142.8 558.7L1145.4 552.4L1148.0 546.3L1150.7 540.5L1153.3 534.9L1156.0 529.6L1158.6 524.5L1161.2 519.6L1163.9 514.9L1166.5 510.4L1169.1 506.1L1171.8 502.0L1174.4 498.1L1177.0 494.3L1179.7 490.6L1182.3 487.1L1184.9 483.7L1187.6 480.4L1190.2 477.1L1192.9 474.0L1195.5 471.0L1198.1 468.0L1200.8 465.1L1203.4 462.2L1206.0 459.4L1208.7 456.7L1211.3 453.9L1213.9 451.2L1216.6 448.6L1219.2 445.9L1221.9 443.3L1224.5 440.7L1227.1 438.1L1229.8 435.5L1232.4 432.9L1235.0 430.4L1237.7 427.8L1240.3 425.3L1242.9 422.7L1245.6 420.2L1248.2 417.7L1250.8 415.2L1253.5 412.7L1256.1 410.2L1258.8 407.7L1261.4 405.3L1264.0 402.8L1266.7 400.4L1269.3 398.0L1271.9 395.6L1274.6 393.2L1277.2 390.9L1279.8 388.6L1282.5 386.3L1285.1 384.0L1287.8 381.8L1290.4 379.6L1293.0 377.4L1295.7 375.3L1298.3 373.2L1300.9 371.2L1303.6 369.2L1306.2 367.2L1308.8 365.3L1311.5 363.4L1314.1 361.6L1316.7 359.8L1319.4 358.1L1322.0 356.4L1324.7 354.7L1327.3 353.1L1329.9 351.5L1332.6 350.0L1335.2 348.5L1337.8 347.1L1340.5 345.7L1343.1 344.4L1345.7 343.1L1348.4 341.8L1351.0 340.6L1353.7 339.4L1356.3 338.3L1358.9 337.2L1361.6 336.2L1364.2 335.2L1366.8 334.2L1369.5 333.3L1372.1 332.4L1374.7 331.5L1377.4 330.7L1380.0 329.9L1382.6 329.1L1385.3 328.4L1387.9 327.7L1390.6 327.0L1393.2 326.3L1395.8 325.7L1398.5 325.1L1401.1 324.5L1403.7 324.0L1406.4 323.5L1409.0 323.0L1411.6 322.5L1414.3 322.0L1416.9 321.6L1419.6 321.2L1422.2 320.8L1424.8 320.4L1427.5 320.0L1430.1 319.7L1432.7 319.3L1435.4 319.0L1438.0 318.7L1440.6 318.4L1443.3 318.2L1445.9 317.9L1448.5 317.6L1451.2 317.4L1453.8 317.2L1456.5 316.9L1459.1 316.7L1461.7 316.5L1464.4 316.3L1467.0 316.2" stroke="#A8297E"/>
<path d="M307.2 886.7L309.8 886.7L312.4 886.7L315.1 886.7L317.7 886.7L320.3 886.7L323.0 886.7L325.6 886.7L328.2 886.7L330.9 886.7L333.5 886.7L336.2 886.7L338.8 886.7L341.4 886.7L344.1 886.7L346.7 886.7L349.3 886.7L352.0 886.7L354.6 886.7L357.2 886.7L359.9 886.7L362.5 886.7L365.2 886.7L367.8 886.7L370.4 886.7L373.1 886.7L375.7 886.7L378.3 886.7L381.0 886.7L383.6 886.7L386.2 886.7L388.9 886.7L391.5 886.7L394.1 886.7L396.8 886.7L399.4 886.7L402.1 886.7L404.7 886.7L407.3 886.7L410.0 886.7L412.6 886.7L415.2 886.7L417.9 886.7L420.5 886.7L423.1 886.7L425.8 886.7L428.4 886.7L431.1 886.7L433.7 886.7L436.3 886.7L439.0 886.7L441.6 886.7L444.2 886.7L446.9 886.7L449.5 886.7L452.1 886.7L454.8 886.7L457.4 886.7L460.0 886.7L462.7 886.7L465.3 886.7L468.0 886.7L470.6 886.7L473.2 886.7L475.9 886.7L478.5 886.7L481.1 886.7L483.8 886.7L486.4 886.7L489.0 886.7L491.7 886.7L494.3 886.7L497.0 886.7L499.6 886.7L502.2 886.7L504.9 886.7L507.5 886.7L510.1 886.7L512.8 886.7L515.4 886.7L518.0 886.7L520.7 886.7L523.3 886.7L525.9 886.7L528.6 886.7L531.2 886.7L533.9 886.7L536.5 886.7L539.1 886.7L541.8 886.7L544.4 886.7L547.0 886.7L549.7 886.7L552.3 886.7L554.9 886.7L557.6 886.7L560.2 886.7L562.9 886.7L565.5 886.7L568.1 886.7L570.8 886.7L573.4 886.7L576.0 886.7L578.7 886.7L581.3 886.7L583.9 886.7L586.6 886.7L589.2 886.7L591.8 886.7L594.5 886.7L597.1 886.7L599.8 886.7L602.4 886.7L605.0 886.7L607.7 886.7L610.3 886.7L612.9 886.7L615.6 886.7L618.2 886.7L620.8 886.7L623.5 886.7L626.1 886.7L628.8 886.7L631.4 886.7L634.0 886.7L636.7 886.7L639.3 886.7L641.9 886.7L644.6 886.7L647.2 886.7L649.8 886.7L652.5 886.7L655.1 886.7L657.7 886.7L660.4 886.7L663.0 886.7L665.7 886.7L668.3 886.7L670.9 886.7L673.6 886.7L676.2 886.7L678.8 886.7L681.5 886.7L684.1 886.7L686.7 886.7L689.4 886.7L692.0 886.7L694.7 886.7L697.3 886.7L699.9 886.7L702.6 886.7L705.2 886.7L707.8 886.7L710.5 886.7L713.1 886.7L715.7 886.7L718.4 886.7L721.0 886.7L723.6 886.7L726.3 886.7L728.9 886.7L731.6 886.7L734.2 886.7L736.8 886.7L739.5 886.7L742.1 886.7L744.7 886.7L747.4 886.7L750.0 886.7L752.6 886.7L755.3 886.7L757.9 886.7L760.6 886.7L763.2 886.7L765.8 886.7L768.5 886.7L771.1 886.7L773.7 886.7L776.4 886.7L779.0 886.7L781.6 886.7L784.3 886.7L786.9 886.6L789.5 886.6L792.2 886.6L794.8 886.6L797.5 886.6L800.1 886.6L802.7 886.6L805.4 886.6L808.0 886.6L810.6 886.6L813.3 886.6L815.9 886.6L818.5 886.6L821.2 886.6L823.8 886.6L826.5 886.5L829.1 886.5L831.7 886.5L834.4 886.5L837.0 886.5L839.6 886.5L842.3 886.5L844.9 886.4L847.5 886.4L850.2 886.4L852.8 886.4L855.4 886.4L858.1 886.3L860.7 886.3L863.4 886.3L866.0 886.3L868.6 886.2L871.3 886.2L873.9 886.1L876.5 886.1L879.2 886.1L881.8 886.0L884.4 886.0L887.1 885.9L889.7 885.8L892.4 885.8L895.0 885.7L897.6 885.6L900.3 885.6L902.9 885.5L905.5 885.4L908.2 885.3L910.8 885.2L913.4 885.1L916.1 885.0L918.7 884.8L921.3 884.7L924.0 884.6L926.6 884.4L929.3 884.2L931.9 884.1L934.5 883.9L937.2 883.6L939.8 883.4L942.4 883.2L945.1 882.9L947.7 882.6L950.3 882.3L953.0 882.0L955.6 881.7L958.3 881.3L960.9 880.9L963.5 880.5L966.2 880.0L968.8 879.6L971.4 879.0L974.1 878.5L976.7 877.9L979.3 877.2L982.0 876.5L984.6 875.8L987.2 875.0L989.9 874.1L992.5 873.2L995.2 872.2L997.8 871.1L1000.4 870.0L1003.1 868.8L1005.7 867.5L1008.3 866.1L1011.0 864.6L1013.6 863.0L1016.2 861.2L1018.9 859.4L1021.5 857.4L1024.2 855.3L1026.8 853.0L1029.4 850.6L1032.1 848.1L1034.7 845.3L1037.3 842.4L1040.0 839.2L1042.6 835.9L1045.2 832.3L1047.9 828.6L1050.5 824.6L1053.1 820.3L1055.8 815.8L1058.4 811.1L1061.1 806.0L1063.7 800.7L1066.3 795.1L1069.0 789.3L1071.6 783.1L1074.2 776.7L1076.9 770.0L1079.5 763.0L1082.1 755.8L1084.8 748.3L1087.4 740.7L1090.1 732.8L1092.7 724.7L1095.3 716.4L1098.0 708.1L1100.6 699.6L1103.2 691.1L1105.9 682.5L1108.5 674.0L1111.1 665.5L1113.8 657.1L1116.4 648.8L1119.0 640.6L1121.7 632.6L1124.3 624.8L1127.0 617.2L1129.6 609.9L1132.2 602.8L1134.9 595.9L1137.5 589.3L1140.1 582.9L1142.8 576.8L1145.4 571.0L1148.0 565.4L1150.7 560.0L1153.3 554.9L1156.0 550.0L1158.6 545.2L1161.2 540.7L1163.9 536.3L1166.5 532.1L1169.1 528.0L1171.8 524.1L1174.4 520.2L1177.0 516.5L1179.7 512.9L1182.3 509.3L1184.9 505.9L1187.6 502.4L1190.2 499.1L1192.9 495.7L1195.5 492.5L1198.1 489.2L1200.8 486.0L1203.4 482.8L1206.0 479.6L1208.7 476.5L1211.3 473.3L1213.9 470.2L1216.6 467.1L1219.2 463.9L1221.9 460.8L1224.5 457.7L1227.1 454.7L1229.8 451.6L1232.4 448.5L1235.0 445.5L1237.7 442.4L1240.3 439.4L1242.9 436.4L1245.6 433.4L1248.2 430.5L1250.8 427.5L1253.5 424.6L1256.1 421.7L1258.8 418.9L1261.4 416.1L1264.0 413.3L1266.7 410.6L1269.3 407.9L1271.9 405.2L1274.6 402.6L1277.2 400.1L1279.8 397.6L1282.5 395.1L1285.1 392.7L1287.8 390.3L1290.4 388.0L1293.0 385.8L1295.7 383.6L1298.3 381.5L1300.9 379.4L1303.6 377.3L1306.2 375.4L1308.8 373.5L1311.5 371.6L1314.1 369.8L1316.7 368.0L1319.4 366.4L1322.0 364.7L1324.7 363.1L1327.3 361.6L1329.9 360.1L1332.6 358.7L1335.2 357.3L1337.8 356.0L1340.5 354.7L1343.1 353.5L1345.7 352.3L1348.4 351.2L1351.0 350.1L1353.7 349.0L1356.3 348.0L1358.9 347.0L1361.6 346.1L1364.2 345.2L1366.8 344.3L1369.5 343.5L1372.1 342.7L1374.7 342.0L1377.4 341.2L1380.0 340.5L1382.6 339.9L1385.3 339.2L1387.9 338.6L1390.6 338.1L1393.2 337.5L1395.8 337.0L1398.5 336.5L1401.1 336.0L1403.7 335.5L1406.4 335.1L1409.0 334.6L1411.6 334.2L1414.3 333.9L1416.9 333.5L1419.6 333.1L1422.2 332.8L1424.8 332.5L1427.5 332.2L1430.1 331.9L1432.7 331.6L1435.4 331.3L1438.0 331.1L1440.6 330.9L1443.3 330.6L1445.9 330.4L1448.5 330.2L1451.2 330.0L1453.8 329.8L1456.5 329.6L1459.1 329.5L1461.7 329.3L1464.4 329.1L1467.0 329.0" stroke="#A8297E"/>
<path d="M307.2 886.7L309.8 886.7L312.4 886.7L315.1 886.7L317.7 886.7L320.3 886.7L323.0 886.7L325.6 886.7L328.2 886.7L330.9 886.7L333.5 886.7L336.2 886.7L338.8 886.7L341.4 886.7L344.1 886.7L346.7 886.7L349.3 886.7L352.0 886.7L354.6 886.7L357.2 886.7L359.9 886.7L362.5 886.7L365.2 886.7L367.8 886.7L370.4 886.7L373.1 886.7L375.7 886.7L378.3 886.7L381.0 886.7L383.6 886.7L386.2 886.7L388.9 886.7L391.5 886.7L394.1 886.7L396.8 886.7L399.4 886.7L402.1 886.7L404.7 886.7L407.3 886.7L410.0 886.7L412.6 886.7L415.2 886.7L417.9 886.7L420.5 886.7L423.1 886.7L425.8 886.7L428.4 886.7L431.1 886.7L433.7 886.7L436.3 886.7L439.0 886.7L441.6 886.7L444.2 886.7L446.9 886.7L449.5 886.7L452.1 886.7L454.8 886.7L457.4 886.7L460.0 886.7L462.7 886.7L465.3 886.7L468.0 886.7L470.6 886.7L473.2 886.7L475.9 886.7L478.5 886.7L481.1 886.7L483.8 886.7L486.4 886.7L489.0 886.7L491.7 886.7L494.3 886.7L497.0 886.7L499.6 886.7L502.2 886.7L504.9 886.7L507.5 886.7L510.1 886.7L512.8 886.7L515.4 886.7L518.0 886.7L520.7 886.7L523.3 886.7L525.9 886.7L528.6 886.7L531.2 886.7L533.9 886.7L536.5 886.7L539.1 886.7L541.8 886.7L544.4 886.7L547.0 886.7L549.7 886.7L552.3 886.7L554.9 886.7L557.6 886.7L560.2 886.7L562.9 886.7L565.5 886.7L568.1 886.7L570.8 886.7L573.4 886.7L576.0 886.7L578.7 886.7L581.3 886.7L583.9 886.7L586.6 886.7L589.2 886.7L591.8 886.7L594.5 886.7L597.1 886.7L599.8 886.7L602.4 886.7L605.0 886.7L607.7 886.7L610.3 886.7L612.9 886.7L615.6 886.7L618.2 886.7L620.8 886.7L623.5 886.7L626.1 886.7L628.8 886.7L631.4 886.7L634.0 886.7L636.7 886.7L639.3 886.7L641.9 886.7L644.6 886.7L647.2 886.7L649.8 886.7L652.5 886.7L655.1 886.7L657.7 886.7L660.4 886.7L663.0 886.7L665.7 886.7L668.3 886.7L670.9 886.7L673.6 886.7L676.2 886.7L678.8 886.7L681.5 886.7L684.1 886.7L686.7 886.7L689.4 886.7L692.0 886.7L694.7 886.7L697.3 886.7L699.9 886.7L702.6 886.7L705.2 886.7L707.8 886.7L710.5 886.7L713.1 886.7L715.7 886.7L718.4 886.7L721.0 886.7L723.6 886.7L726.3 886.7L728.9 886.7L731.6 886.7L734.2 886.7L736.8 886.7L739.5 886.7L742.1 886.7L744.7 886.7L747.4 886.7L750.0 886.7L752.6 886.7L755.3 886.7L757.9 886.7L760.6 886.7L763.2 886.7L765.8 886.7L768.5 886.7L771.1 886.7L773.7 886.7L776.4 886.7L779.0 886.7L781.6 886.7L784.3 886.7L786.9 886.7L789.5 886.7L792.2 886.7L794.8 886.7L797.5 886.7L800.1 886.7L802.7 886.7L805.4 886.7L808.0 886.7L810.6 886.6L813.3 886.6L815.9 886.6L818.5 886.6L821.2 886.6L823.8 886.6L826.5 886.6L829.1 886.6L831.7 886.6L834.4 886.6L837.0 886.6L839.6 886.6L842.3 886.6L844.9 886.6L847.5 886.5L850.2 886.5L852.8 886.5L855.4 886.5L858.1 886.5L860.7 886.5L863.4 886.5L866.0 886.4L868.6 886.4L871.3 886.4L873.9 886.4L876.5 886.3L879.2 886.3L881.8 886.3L884.4 886.2L887.1 886.2L889.7 886.2L892.4 886.1L895.0 886.1L897.6 886.0L900.3 886.0L902.9 885.9L905.5 885.9L908.2 885.8L910.8 885.7L913.4 885.6L916.1 885.6L918.7 885.5L921.3 885.4L924.0 885.3L926.6 885.2L929.3 885.0L931.9 884.9L934.5 884.8L937.2 884.6L939.8 884.4L942.4 884.2L945.1 884.1L947.7 883.8L950.3 883.6L953.0 883.4L955.6 883.1L958.3 882.8L960.9 882.5L963.5 882.2L966.2 881.8L968.8 881.4L971.4 881.0L974.1 880.6L976.7 880.1L979.3 879.6L982.0 879.0L984.6 878.4L987.2 877.8L989.9 877.1L992.5 876.3L995.2 875.5L997.8 874.7L1000.4 873.7L1003.1 872.7L1005.7 871.7L1008.3 870.5L1011.0 869.3L1013.6 867.9L1016.2 866.5L1018.9 865.0L1021.5 863.3L1024.2 861.6L1026.8 859.7L1029.4 857.7L1032.1 855.6L1034.7 853.3L1037.3 850.8L1040.0 848.2L1042.6 845.5L1045.2 842.5L1047.9 839.4L1050.5 836.1L1053.1 832.6L1055.8 828.9L1058.4 825.0L1061.1 820.8L1063.7 816.5L1066.3 811.9L1069.0 807.1L1071.6 802.0L1074.2 796.7L1076.9 791.2L1079.5 785.5L1082.1 779.5L1084.8 773.3L1087.4 766.9L1090.1 760.3L1092.7 753.5L1095.3 746.5L1098.0 739.3L1100.6 732.0L1103.2 724.5L1105.9 716.9L1108.5 709.2L1111.1 701.4L1113.8 693.5L1116.4 685.6L1119.0 677.6L1121.7 669.7L1124.3 661.7L1127.0 653.8L1129.6 646.0L1132.2 638.2L1134.9 630.5L1137.5 622.9L1140.1 615.4L1142.8 608.1L1145.4 600.9L1148.0 593.8L1150.7 587.0L1153.3 580.2L1156.0 573.7L1158.6 567.3L1161.2 561.2L1163.9 555.2L1166.5 549.3L1169.1 543.7L1171.8 538.2L1174.4 532.9L1177.0 527.8L1179.7 522.8L1182.3 518.0L1184.9 513.4L1187.6 508.9L1190.2 504.5L1192.9 500.2L1195.5 496.1L1198.1 492.2L1200.8 488.3L1203.4 484.5L1206.0 480.9L1208.7 477.3L1211.3 473.9L1213.9 470.5L1216.6 467.2L1219.2 464.0L1221.9 460.9L1224.5 457.8L1227.1 454.8L1229.8 451.9L1232.4 449.1L1235.0 446.3L1237.7 443.5L1240.3 440.8L1242.9 438.2L1245.6 435.6L1248.2 433.1L1250.8 430.7L1253.5 428.2L1256.1 425.9L1258.8 423.6L1261.4 421.3L1264.0 419.1L1266.7 416.9L1269.3 414.8L1271.9 412.7L1274.6 410.6L1277.2 408.7L1279.8 406.7L1282.5 404.8L1285.1 403.0L1287.8 401.2L1290.4 399.4L1293.0 397.7L1295.7 396.0L1298.3 394.4L1300.9 392.8L1303.6 391.2L1306.2 389.7L1308.8 388.3L1311.5 386.9L1314.1 385.5L1316.7 384.1L1319.4 382.9L1322.0 381.6L1324.7 380.4L1327.3 379.2L1329.9 378.0L1332.6 376.9L1335.2 375.8L1337.8 374.8L1340.5 373.8L1343.1 372.8L1345.7 371.9L1348.4 370.9L1351.0 370.1L1353.7 369.2L1356.3 368.4L1358.9 367.6L1361.6 366.8L1364.2 366.0L1366.8 365.3L1369.5 364.6L1372.1 363.9L1374.7 363.2L1377.4 362.6L1380.0 362.0L1382.6 361.4L1385.3 360.8L1387.9 360.2L1390.6 359.7L1393.2 359.2L1395.8 358.6L1398.5 358.1L1401.1 357.7L1403.7 357.2L1406.4 356.7L1409.0 356.3L1411.6 355.9L1414.3 355.4L1416.9 355.0L1419.6 354.6L1422.2 354.2L1424.8 353.9L1427.5 353.5L1430.1 353.1L1432.7 352.8L1435.4 352.5L1438.0 352.1L1440.6 351.8L1443.3 351.5L1445.9 351.2L1448.5 350.9L1451.2 350.6L1453.8 350.3L1456.5 350.0L1459.1 349.7L1461.7 349.4L1464.4 349.1L1467.0 348.9" stroke="#A8297E"/>
<path d="M307.2 886.7L309.8 886.7L312.4 886.7L315.1 886.7L317.7 886.7L320.3 886.7L323.0 886.7L325.6 886.7L328.2 886.7L330.9 886.7L333.5 886.7L336.2 886.7L338.8 886.7L341.4 886.7L344.1 886.7L346.7 886.7L349.3 886.7L352.0 886.7L354.6 886.7L357.2 886.7L359.9 886.7L362.5 886.7L365.2 886.7L367.8 886.7L370.4 886.7L373.1 886.7L375.7 886.7L378.3 886.7L381.0 886.7L383.6 886.7L386.2 886.7L388.9 886.7L391.5 886.7L394.1 886.7L396.8 886.7L399.4 886.7L402.1 886.7L404.7 886.7L407.3 886.7L410.0 886.7L412.6 886.7L415.2 886.7L417.9 886.7L420.5 886.7L423.1 886.7L425.8 886.7L428.4 886.7L431.1 886.7L433.7 886.7L436.3 886.7L439.0 886.7L441.6 886.7L444.2 886.7L446.9 886.7L449.5 886.7L452.1 886.7L454.8 886.7L457.4 886.7L460.0 886.7L462.7 886.7L465.3 886.7L468.0 886.7L470.6 886.7L473.2 886.7L475.9 886.7L478.5 886.7L481.1 886.7L483.8 886.7L486.4 886.7L489.0 886.7L491.7 886.7L494.3 886.7L497.0 886.7L499.6 886.7L502.2 886.7L504.9 886.7L507.5 886.7L510.1 886.7L512.8 886.7L515.4 886.7L518.0 886.7L520.7 886.6L523.3 886.6L525.9 886.6L528.6 886.6L531.2 886.6L533.9 886.6L536.5 886.6L539.1 886.6L541.8 886.6L544.4 886.6L547.0 886.6L549.7 886.6L552.3 886.6L554.9 886.6L557.6 886.5L560.2 886.5L562.9 886.5L565.5 886.5L568.1 886.5L570.8 886.5L573.4 886.5L576.0 886.4L578.7 886.4L581.3 886.4L583.9 886.4L586.6 886.3L589.2 886.3L591.8 886.3L594.5 886.2L597.1 886.2L599.8 886.2L602.4 886.1L605.0 886.1L607.7 886.0L610.3 886.0L612.9 885.9L615.6 885.8L618.2 885.8L620.8 885.7L623.5 885.6L626.1 885.5L628.8 885.5L631.4 885.4L634.0 885.2L636.7 885.1L639.3 885.0L641.9 884.9L644.6 884.7L647.2 884.6L649.8 884.4L652.5 884.2L655.1 884.0L657.7 883.8L660.4 883.6L663.0 883.3L665.7 883.1L668.3 882.8L670.9 882.5L673.6 882.1L676.2 881.8L678.8 881.4L681.5 881.0L684.1 880.5L686.7 880.0L689.4 879.5L692.0 879.0L694.7 878.4L697.3 877.7L699.9 877.0L702.6 876.3L705.2 875.5L707.8 874.6L710.5 873.7L713.1 872.7L715.7 871.6L718.4 870.5L721.0 869.3L723.6 868.0L726.3 866.6L728.9 865.1L731.6 863.5L734.2 861.9L736.8 860.1L739.5 858.2L742.1 856.1L744.7 854.0L747.4 851.7L750.0 849.2L752.6 846.7L755.3 843.9L757.9 841.1L760.6 838.0L763.2 834.9L765.8 831.5L768.5 828.0L771.1 824.3L773.7 820.4L776.4 816.4L779.0 812.2L781.6 807.8L784.3 803.3L786.9 798.6L789.5 793.7L792.2 788.6L794.8 783.5L797.5 778.1L800.1 772.7L802.7 767.1L805.4 761.4L808.0 755.5L810.6 749.6L813.3 743.6L815.9 737.6L818.5 731.5L821.2 725.3L823.8 719.1L826.5 712.9L829.1 706.7L831.7 700.5L834.4 694.4L837.0 688.3L839.6 682.2L842.3 676.2L844.9 670.3L847.5 664.5L850.2 658.7L852.8 653.1L855.4 647.6L858.1 642.2L860.7 636.9L863.4 631.8L866.0 626.7L868.6 621.8L871.3 617.1L873.9 612.5L876.5 608.0L879.2 603.7L881.8 599.5L884.4 595.4L887.1 591.5L889.7 587.7L892.4 584.0L895.0 580.5L897.6 577.0L900.3 573.7L902.9 570.5L905.5 567.5L908.2 564.5L910.8 561.6L913.4 558.8L916.1 556.1L918.7 553.6L921.3 551.0L924.0 548.6L926.6 546.3L929.3 544.0L931.9 541.8L934.5 539.7L937.2 537.6L939.8 535.6L942.4 533.7L945.1 531.8L947.7 529.9L950.3 528.1L953.0 526.4L955.6 524.7L958.3 523.0L960.9 521.4L963.5 519.8L966.2 518.3L968.8 516.8L971.4 515.3L974.1 513.9L976.7 512.4L979.3 511.0L982.0 509.7L984.6 508.3L987.2 507.0L989.9 505.7L992.5 504.4L995.2 503.2L997.8 501.9L1000.4 500.7L1003.1 499.5L1005.7 498.3L1008.3 497.1L1011.0 496.0L1013.6 494.8L1016.2 493.7L1018.9 492.6L1021.5 491.5L1024.2 490.4L1026.8 489.3L1029.4 488.3L1032.1 487.2L1034.7 486.1L1037.3 485.1L1040.0 484.1L1042.6 483.1L1045.2 482.1L1047.9 481.1L1050.5 480.1L1053.1 479.1L1055.8 478.1L1058.4 477.1L1061.1 476.2L1063.7 475.2L1066.3 474.3L1069.0 473.3L1071.6 472.4L1074.2 471.5L1076.9 470.6L1079.5 469.7L1082.1 468.8L1084.8 467.9L1087.4 467.0L1090.1 466.1L1092.7 465.3L1095.3 464.4L1098.0 463.5L1100.6 462.7L1103.2 461.8L1105.9 461.0L1108.5 460.2L1111.1 459.3L1113.8 458.5L1116.4 457.7L1119.0 456.9L1121.7 456.1L1124.3 455.3L1127.0 454.5L1129.6 453.7L1132.2 452.9L1134.9 452.2L1137.5 451.4L1140.1 450.7L1142.8 449.9L1145.4 449.2L1148.0 448.4L1150.7 447.7L1153.3 446.9L1156.0 446.2L1158.6 445.5L1161.2 444.8L1163.9 444.1L1166.5 443.4L1169.1 442.7L1171.8 442.0L1174.4 441.3L1177.0 440.6L1179.7 440.0L1182.3 439.3L1184.9 438.6L1187.6 438.0L1190.2 437.3L1192.9 436.7L1195.5 436.1L1198.1 435.4L1200.8 434.8L1203.4 434.2L1206.0 433.6L1208.7 432.9L1211.3 432.3L1213.9 431.7L1216.6 431.1L1219.2 430.5L1221.9 429.9L1224.5 429.4L1227.1 428.8L1229.8 428.2L1232.4 427.6L1235.0 427.1L1237.7 426.5L1240.3 426.0L1242.9 425.4L1245.6 424.9L1248.2 424.3L1250.8 423.8L1253.5 423.3L1256.1 422.7L1258.8 422.2L1261.4 421.7L1264.0 421.2L1266.7 420.7L1269.3 420.2L1271.9 419.7L1274.6 419.2L1277.2 418.7L1279.8 418.2L1282.5 417.7L1285.1 417.2L1287.8 416.7L1290.4 416.3L1293.0 415.8L1295.7 415.3L1298.3 414.9L1300.9 414.4L1303.6 414.0L1306.2 413.5L1308.8 413.1L1311.5 412.6L1314.1 412.2L1316.7 411.7L1319.4 411.3L1322.0 410.9L1324.7 410.4L1327.3 410.0L1329.9 409.6L1332.6 409.2L1335.2 408.8L1337.8 408.4L1340.5 407.9L1343.1 407.5L1345.7 407.1L1348.4 406.7L1351.0 406.3L1353.7 405.9L1356.3 405.6L1358.9 405.2L1361.6 404.8L1364.2 404.4L1366.8 404.0L1369.5 403.6L1372.1 403.3L1374.7 402.9L1377.4 402.5L1380.0 402.2L1382.6 401.8L1385.3 401.4L1387.9 401.1L1390.6 400.7L1393.2 400.4L1395.8 400.0L1398.5 399.7L1401.1 399.3L1403.7 399.0L1406.4 398.6L1409.0 398.3L1411.6 397.9L1414.3 397.6L1416.9 397.3L1419.6 396.9L1422.2 396.6L1424.8 396.3L1427.5 395.9L1430.1 395.6L1432.7 395.3L1435.4 395.0L1438.0 394.6L1440.6 394.3L1443.3 394.0L1445.9 393.7L1448.5 393.4L1451.2 393.1L1453.8 392.8L1456.5 392.5L1459.1 392.1L1461.7 391.8L1464.4 391.5L1467.0 391.2" stroke="#4E85D3"/>
<path d="M307.2 886.7L309.8 886.7L312.4 886.7L315.1 886.7L317.7 886.7L320.3 886.7L323.0 886.7L325.6 886.7L328.2 886.7L330.9 886.7L333.5 886.7L336.2 886.7L338.8 886.7L341.4 886.7L344.1 886.7L346.7 886.7L349.3 886.7L352.0 886.7L354.6 886.7L357.2 886.7L359.9 886.7L362.5 886.7L365.2 886.7L367.8 886.7L370.4 886.7L373.1 886.7L375.7 886.7L378.3 886.7L381.0 886.7L383.6 886.7L386.2 886.7L388.9 886.7L391.5 886.7L394.1 886.7L396.8 886.7L399.4 886.7L402.1 886.7L404.7 886.7L407.3 886.7L410.0 886.7L412.6 886.7L415.2 886.7L417.9 886.7L420.5 886.7L423.1 886.7L425.8 886.7L428.4 886.7L431.1 886.7L433.7 886.7L436.3 886.7L439.0 886.7L441.6 886.7L444.2 886.7L446.9 886.7L449.5 886.7L452.1 886.7L454.8 886.7L457.4 886.7L460.0 886.7L462.7 886.7L465.3 886.7L468.0 886.7L470.6 886.7L473.2 886.7L475.9 886.7L478.5 886.7L481.1 886.7L483.8 886.7L486.4 886.7L489.0 886.7L491.7 886.7L494.3 886.7L497.0 886.7L499.6 886.7L502.2 886.7L504.9 886.7L507.5 886.7L510.1 886.7L512.8 886.7L515.4 886.7L518.0 886.7L520.7 886.7L523.3 886.7L525.9 886.7L528.6 886.7L531.2 886.7L533.9 886.7L536.5 886.6L539.1 886.6L541.8 886.6L544.4 886.6L547.0 886.6L549.7 886.6L552.3 886.6L554.9 886.6L557.6 886.6L560.2 886.6L562.9 886.6L565.5 886.6L568.1 886.6L570.8 886.5L573.4 886.5L576.0 886.5L578.7 886.5L581.3 886.5L583.9 886.5L586.6 886.4L589.2 886.4L591.8 886.4L594.5 886.4L597.1 886.4L599.8 886.3L602.4 886.3L605.0 886.3L607.7 886.2L610.3 886.2L612.9 886.1L615.6 886.1L618.2 886.0L620.8 886.0L623.5 885.9L626.1 885.9L628.8 885.8L631.4 885.7L634.0 885.6L636.7 885.5L639.3 885.4L641.9 885.3L644.6 885.2L647.2 885.1L649.8 884.9L652.5 884.8L655.1 884.6L657.7 884.5L660.4 884.3L663.0 884.1L665.7 883.9L668.3 883.6L670.9 883.4L673.6 883.1L676.2 882.8L678.8 882.5L681.5 882.1L684.1 881.8L686.7 881.4L689.4 880.9L692.0 880.5L694.7 880.0L697.3 879.4L699.9 878.8L702.6 878.2L705.2 877.5L707.8 876.8L710.5 876.0L713.1 875.1L715.7 874.2L718.4 873.2L721.0 872.2L723.6 871.1L726.3 869.8L728.9 868.5L731.6 867.2L734.2 865.7L736.8 864.1L739.5 862.4L742.1 860.6L744.7 858.7L747.4 856.7L750.0 854.5L752.6 852.2L755.3 849.8L757.9 847.2L760.6 844.5L763.2 841.6L765.8 838.6L768.5 835.4L771.1 832.0L773.7 828.5L776.4 824.8L779.0 821.0L781.6 817.0L784.3 812.8L786.9 808.5L789.5 804.0L792.2 799.3L794.8 794.5L797.5 789.6L800.1 784.5L802.7 779.3L805.4 773.9L808.0 768.5L810.6 762.9L813.3 757.3L815.9 751.6L818.5 745.8L821.2 739.9L823.8 734.1L826.5 728.1L829.1 722.2L831.7 716.3L834.4 710.4L837.0 704.5L839.6 698.7L842.3 692.9L844.9 687.2L847.5 681.6L850.2 676.0L852.8 670.5L855.4 665.2L858.1 659.9L860.7 654.8L863.4 649.8L866.0 644.9L868.6 640.1L871.3 635.5L873.9 631.0L876.5 626.7L879.2 622.5L881.8 618.4L884.4 614.4L887.1 610.6L889.7 607.0L892.4 603.4L895.0 600.0L897.6 596.7L900.3 593.5L902.9 590.5L905.5 587.5L908.2 584.7L910.8 582.0L913.4 579.4L916.1 576.9L918.7 574.4L921.3 572.1L924.0 569.8L926.6 567.6L929.3 565.5L931.9 563.5L934.5 561.5L937.2 559.6L939.8 557.8L942.4 556.0L945.1 554.3L947.7 552.6L950.3 551.0L953.0 549.4L955.6 547.8L958.3 546.3L960.9 544.9L963.5 543.4L966.2 542.0L968.8 540.6L971.4 539.3L974.1 537.9L976.7 536.6L979.3 535.3L982.0 534.0L984.6 532.8L987.2 531.5L989.9 530.3L992.5 529.1L995.2 527.9L997.8 526.7L1000.4 525.5L1003.1 524.3L1005.7 523.1L1008.3 522.0L1011.0 520.8L1013.6 519.7L1016.2 518.5L1018.9 517.4L1021.5 516.2L1024.2 515.1L1026.8 513.9L1029.4 512.8L1032.1 511.7L1034.7 510.5L1037.3 509.4L1040.0 508.3L1042.6 507.2L1045.2 506.1L1047.9 504.9L1050.5 503.8L1053.1 502.7L1055.8 501.6L1058.4 500.5L1061.1 499.4L1063.7 498.3L1066.3 497.2L1069.0 496.1L1071.6 495.0L1074.2 493.9L1076.9 492.8L1079.5 491.8L1082.1 490.7L1084.8 489.6L1087.4 488.6L1090.1 487.5L1092.7 486.5L1095.3 485.4L1098.0 484.4L1100.6 483.3L1103.2 482.3L1105.9 481.3L1108.5 480.3L1111.1 479.3L1113.8 478.3L1116.4 477.3L1119.0 476.4L1121.7 475.4L1124.3 474.4L1127.0 473.5L1129.6 472.6L1132.2 471.6L1134.9 470.7L1137.5 469.8L1140.1 468.9L1142.8 468.1L1145.4 467.2L1148.0 466.3L1150.7 465.5L1153.3 464.6L1156.0 463.8L1158.6 463.0L1161.2 462.2L1163.9 461.4L1166.5 460.6L1169.1 459.9L1171.8 459.1L1174.4 458.4L1177.0 457.6L1179.7 456.9L1182.3 456.2L1184.9 455.5L1187.6 454.8L1190.2 454.2L1192.9 453.5L1195.5 452.9L1198.1 452.2L1200.8 451.6L1203.4 451.0L1206.0 450.4L1208.7 449.8L1211.3 449.2L1213.9 448.6L1216.6 448.0L1219.2 447.5L1221.9 447.0L1224.5 446.4L1227.1 445.9L1229.8 445.4L1232.4 444.9L1235.0 444.4L1237.7 443.9L1240.3 443.4L1242.9 443.0L1245.6 442.5L1248.2 442.1L1250.8 441.6L1253.5 441.2L1256.1 440.8L1258.8 440.4L1261.4 440.0L1264.0 439.6L1266.7 439.2L1269.3 438.8L1271.9 438.4L1274.6 438.0L1277.2 437.7L1279.8 437.3L1282.5 437.0L1285.1 436.6L1287.8 436.3L1290.4 436.0L1293.0 435.7L1295.7 435.3L1298.3 435.0L1300.9 434.7L1303.6 434.4L1306.2 434.1L1308.8 433.8L1311.5 433.6L1314.1 433.3L1316.7 433.0L1319.4 432.7L1322.0 432.5L1324.7 432.2L1327.3 432.0L1329.9 431.7L1332.6 431.5L1335.2 431.2L1337.8 431.0L1340.5 430.8L1343.1 430.5L1345.7 430.3L1348.4 430.1L1351.0 429.9L1353.7 429.6L1356.3 429.4L1358.9 429.2L1361.6 429.0L1364.2 428.8L1366.8 428.6L1369.5 428.4L1372.1 428.2L1374.7 428.0L1377.4 427.8L1380.0 427.6L1382.6 427.4L1385.3 427.3L1387.9 427.1L1390.6 426.9L1393.2 426.7L1395.8 426.6L1398.5 426.4L1401.1 426.2L1403.7 426.0L1406.4 425.9L1409.0 425.7L1411.6 425.5L1414.3 425.4L1416.9 425.2L1419.6 425.1L1422.2 424.9L1424.8 424.8L1427.5 424.6L1430.1 424.4L1432.7 424.3L1435.4 424.1L1438.0 424.0L1440.6 423.9L1443.3 423.7L1445.9 423.6L1448.5 423.4L1451.2 423.3L1453.8 423.1L1456.5 423.0L1459.1 422.9L1461.7 422.7L1464.4 422.6L1467.0 422.4" stroke="#4E85D3"/>
<path d="M307.2 886.7L309.8 886.7L312.4 886.7L315.1 886.7L317.7 886.7L320.3 886.7L323.0 886.7L325.6 886.7L328.2 886.7L330.9 886.7L333.5 886.7L336.2 886.7L338.8 886.7L341.4 886.7L344.1 886.7L346.7 886.7L349.3 886.7L352.0 886.7L354.6 886.7L357.2 886.7L359.9 886.7L362.5 886.7L365.2 886.7L367.8 886.7L370.4 886.7L373.1 886.7L375.7 886.7L378.3 886.7L381.0 886.7L383.6 886.7L386.2 886.7L388.9 886.7L391.5 886.7L394.1 886.7L396.8 886.7L399.4 886.7L402.1 886.7L404.7 886.7L407.3 886.7L410.0 886.7L412.6 886.7L415.2 886.7L417.9 886.7L420.5 886.7L423.1 886.7L425.8 886.7L428.4 886.7L431.1 886.7L433.7 886.7L436.3 886.7L439.0 886.7L441.6 886.7L444.2 886.7L446.9 886.7L449.5 886.7L452.1 886.7L454.8 886.7L457.4 886.7L460.0 886.7L462.7 886.7L465.3 886.7L468.0 886.7L470.6 886.7L473.2 886.7L475.9 886.7L478.5 886.7L481.1 886.7L483.8 886.7L486.4 886.7L489.0 886.7L491.7 886.7L494.3 886.7L497.0 886.7L499.6 886.7L502.2 886.7L504.9 886.7L507.5 886.7L510.1 886.7L512.8 886.7L515.4 886.7L518.0 886.7L520.7 886.7L523.3 886.7L525.9 886.7L528.6 886.7L531.2 886.7L533.9 886.7L536.5 886.7L539.1 886.7L541.8 886.7L544.4 886.7L547.0 886.7L549.7 886.7L552.3 886.7L554.9 886.7L557.6 886.7L560.2 886.7L562.9 886.7L565.5 886.7L568.1 886.7L570.8 886.7L573.4 886.7L576.0 886.7L578.7 886.7L581.3 886.7L583.9 886.7L586.6 886.7L589.2 886.7L591.8 886.7L594.5 886.7L597.1 886.7L599.8 886.7L602.4 886.7L605.0 886.7L607.7 886.7L610.3 886.7L612.9 886.7L615.6 886.7L618.2 886.7L620.8 886.7L623.5 886.6L626.1 886.6L628.8 886.6L631.4 886.6L634.0 886.6L636.7 886.6L639.3 886.6L641.9 886.6L644.6 886.6L647.2 886.6L649.8 886.6L652.5 886.6L655.1 886.6L657.7 886.5L660.4 886.5L663.0 886.5L665.7 886.5L668.3 886.5L670.9 886.4L673.6 886.4L676.2 886.4L678.8 886.4L681.5 886.3L684.1 886.3L686.7 886.3L689.4 886.2L692.0 886.2L694.7 886.1L697.3 886.1L699.9 886.0L702.6 886.0L705.2 885.9L707.8 885.8L710.5 885.7L713.1 885.6L715.7 885.6L718.4 885.4L721.0 885.3L723.6 885.2L726.3 885.1L728.9 884.9L731.6 884.8L734.2 884.6L736.8 884.4L739.5 884.2L742.1 883.9L744.7 883.7L747.4 883.4L750.0 883.1L752.6 882.8L755.3 882.4L757.9 882.1L760.6 881.6L763.2 881.2L765.8 880.7L768.5 880.2L771.1 879.6L773.7 879.0L776.4 878.3L779.0 877.5L781.6 876.7L784.3 875.9L786.9 874.9L789.5 873.9L792.2 872.8L794.8 871.7L797.5 870.4L800.1 869.0L802.7 867.5L805.4 866.0L808.0 864.3L810.6 862.4L813.3 860.5L815.9 858.4L818.5 856.1L821.2 853.7L823.8 851.2L826.5 848.4L829.1 845.5L831.7 842.5L834.4 839.2L837.0 835.7L839.6 832.1L842.3 828.2L844.9 824.2L847.5 819.9L850.2 815.4L852.8 810.7L855.4 805.9L858.1 800.7L860.7 795.4L863.4 789.9L866.0 784.2L868.6 778.3L871.3 772.2L873.9 766.0L876.5 759.6L879.2 753.0L881.8 746.3L884.4 739.4L887.1 732.4L889.7 725.4L892.4 718.2L895.0 711.0L897.6 703.8L900.3 696.4L902.9 689.1L905.5 681.8L908.2 674.5L910.8 667.2L913.4 659.9L916.1 652.7L918.7 645.6L921.3 638.5L924.0 631.5L926.6 624.7L929.3 617.9L931.9 611.3L934.5 604.7L937.2 598.4L939.8 592.1L942.4 586.0L945.1 580.0L947.7 574.2L950.3 568.5L953.0 563.0L955.6 557.6L958.3 552.3L960.9 547.2L963.5 542.3L966.2 537.4L968.8 532.8L971.4 528.2L974.1 523.8L976.7 519.5L979.3 515.4L982.0 511.4L984.6 507.4L987.2 503.6L989.9 499.9L992.5 496.3L995.2 492.9L997.8 489.5L1000.4 486.2L1003.1 483.0L1005.7 479.8L1008.3 476.8L1011.0 473.8L1013.6 470.9L1016.2 468.1L1018.9 465.4L1021.5 462.7L1024.2 460.1L1026.8 457.5L1029.4 455.0L1032.1 452.5L1034.7 450.1L1037.3 447.8L1040.0 445.5L1042.6 443.2L1045.2 441.0L1047.9 438.8L1050.5 436.6L1053.1 434.5L1055.8 432.4L1058.4 430.4L1061.1 428.4L1063.7 426.4L1066.3 424.5L1069.0 422.6L1071.6 420.7L1074.2 418.8L1076.9 417.0L1079.5 415.2L1082.1 413.4L1084.8 411.6L1087.4 409.8L1090.1 408.1L1092.7 406.4L1095.3 404.7L1098.0 403.1L1100.6 401.4L1103.2 399.8L1105.9 398.2L1108.5 396.6L1111.1 395.0L1113.8 393.5L1116.4 392.0L1119.0 390.4L1121.7 388.9L1124.3 387.4L1127.0 386.0L1129.6 384.5L1132.2 383.1L1134.9 381.6L1137.5 380.2L1140.1 378.8L1142.8 377.5L1145.4 376.1L1148.0 374.7L1150.7 373.4L1153.3 372.1L1156.0 370.7L1158.6 369.4L1161.2 368.2L1163.9 366.9L1166.5 365.6L1169.1 364.4L1171.8 363.1L1174.4 361.9L1177.0 360.7L1179.7 359.5L1182.3 358.3L1184.9 357.1L1187.6 356.0L1190.2 354.8L1192.9 353.7L1195.5 352.6L1198.1 351.5L1200.8 350.3L1203.4 349.3L1206.0 348.2L1208.7 347.1L1211.3 346.0L1213.9 345.0L1216.6 343.9L1219.2 342.9L1221.9 341.9L1224.5 340.9L1227.1 339.9L1229.8 338.9L1232.4 337.9L1235.0 336.9L1237.7 336.0L1240.3 335.0L1242.9 334.1L1245.6 333.2L1248.2 332.2L1250.8 331.3L1253.5 330.4L1256.1 329.5L1258.8 328.6L1261.4 327.7L1264.0 326.9L1266.7 326.0L1269.3 325.1L1271.9 324.3L1274.6 323.5L1277.2 322.6L1279.8 321.8L1282.5 321.0L1285.1 320.2L1287.8 319.3L1290.4 318.5L1293.0 317.8L1295.7 317.0L1298.3 316.2L1300.9 315.4L1303.6 314.7L1306.2 313.9L1308.8 313.1L1311.5 312.4L1314.1 311.6L1316.7 310.9L1319.4 310.2L1322.0 309.4L1324.7 308.7L1327.3 308.0L1329.9 307.3L1332.6 306.6L1335.2 305.9L1337.8 305.2L1340.5 304.5L1343.1 303.8L1345.7 303.1L1348.4 302.5L1351.0 301.8L1353.7 301.1L1356.3 300.5L1358.9 299.8L1361.6 299.2L1364.2 298.5L1366.8 297.9L1369.5 297.2L1372.1 296.6L1374.7 295.9L1377.4 295.3L1380.0 294.7L1382.6 294.0L1385.3 293.4L1387.9 292.8L1390.6 292.2L1393.2 291.6L1395.8 291.0L1398.5 290.4L1401.1 289.8L1403.7 289.2L1406.4 288.6L1409.0 288.0L1411.6 287.4L1414.3 286.8L1416.9 286.2L1419.6 285.6L1422.2 285.0L1424.8 284.4L1427.5 283.9L1430.1 283.3L1432.7 282.7L1435.4 282.1L1438.0 281.6L1440.6 281.0L1443.3 280.4L1445.9 279.9L1448.5 279.3L1451.2 278.8L1453.8 278.2L1456.5 277.7L1459.1 277.1L1461.7 276.5L1464.4 276.0L1467.0 275.4" stroke="#4E85D3"/>
<path d="M307.2 886.7L309.8 886.7L312.4 886.7L315.1 886.7L317.7 886.7L320.3 886.7L323.0 886.7L325.6 886.7L328.2 886.7L330.9 886.7L333.5 886.7L336.2 886.7L338.8 886.7L341.4 886.7L344.1 886.7L346.7 886.7L349.3 886.7L352.0 886.7L354.6 886.7L357.2 886.7L359.9 886.7L362.5 886.7L365.2 886.7L367.8 886.7L370.4 886.7L373.1 886.7L375.7 886.7L378.3 886.7L381.0 886.7L383.6 886.7L386.2 886.7L388.9 886.7L391.5 886.7L394.1 886.7L396.8 886.7L399.4 886.7L402.1 886.7L404.7 886.7L407.3 886.7L410.0 886.7L412.6 886.7L415.2 886.7L417.9 886.7L420.5 886.7L423.1 886.7L425.8 886.7L428.4 886.7L431.1 886.7L433.7 886.7L436.3 886.7L439.0 886.7L441.6 886.7L444.2 886.7L446.9 886.7L449.5 886.7L452.1 886.7L454.8 886.7L457.4 886.7L460.0 886.7L462.7 886.7L465.3 886.7L468.0 886.7L470.6 886.7L473.2 886.7L475.9 886.7L478.5 886.7L481.1 886.7L483.8 886.7L486.4 886.7L489.0 886.7L491.7 886.7L494.3 886.7L497.0 886.7L499.6 886.7L502.2 886.7L504.9 886.7L507.5 886.7L510.1 886.7L512.8 886.7L515.4 886.7L518.0 886.7L520.7 886.7L523.3 886.7L525.9 886.7L528.6 886.7L531.2 886.7L533.9 886.7L536.5 886.7L539.1 886.7L541.8 886.7L544.4 886.7L547.0 886.7L549.7 886.7L552.3 886.7L554.9 886.7L557.6 886.7L560.2 886.7L562.9 886.7L565.5 886.7L568.1 886.7L570.8 886.7L573.4 886.7L576.0 886.7L578.7 886.7L581.3 886.7L583.9 886.7L586.6 886.7L589.2 886.7L591.8 886.6L594.5 886.6L597.1 886.6L599.8 886.6L602.4 886.6L605.0 886.6L607.7 886.6L610.3 886.6L612.9 886.6L615.6 886.6L618.2 886.6L620.8 886.6L623.5 886.6L626.1 886.6L628.8 886.6L631.4 886.5L634.0 886.5L636.7 886.5L639.3 886.5L641.9 886.5L644.6 886.5L647.2 886.4L649.8 886.4L652.5 886.4L655.1 886.4L657.7 886.4L660.4 886.3L663.0 886.3L665.7 886.3L668.3 886.2L670.9 886.2L673.6 886.2L676.2 886.1L678.8 886.1L681.5 886.0L684.1 886.0L686.7 885.9L689.4 885.9L692.0 885.8L694.7 885.7L697.3 885.7L699.9 885.6L702.6 885.5L705.2 885.4L707.8 885.3L710.5 885.2L713.1 885.1L715.7 884.9L718.4 884.8L721.0 884.7L723.6 884.5L726.3 884.3L728.9 884.1L731.6 883.9L734.2 883.7L736.8 883.5L739.5 883.2L742.1 883.0L744.7 882.7L747.4 882.4L750.0 882.0L752.6 881.7L755.3 881.3L757.9 880.9L760.6 880.4L763.2 879.9L765.8 879.4L768.5 878.9L771.1 878.3L773.7 877.6L776.4 876.9L779.0 876.2L781.6 875.4L784.3 874.5L786.9 873.6L789.5 872.6L792.2 871.5L794.8 870.4L797.5 869.1L800.1 867.8L802.7 866.4L805.4 864.9L808.0 863.2L810.6 861.5L813.3 859.6L815.9 857.7L818.5 855.5L821.2 853.3L823.8 850.8L826.5 848.3L829.1 845.5L831.7 842.6L834.4 839.5L837.0 836.2L839.6 832.8L842.3 829.1L844.9 825.2L847.5 821.1L850.2 816.8L852.8 812.2L855.4 807.5L858.1 802.5L860.7 797.3L863.4 791.8L866.0 786.1L868.6 780.3L871.3 774.1L873.9 767.8L876.5 761.3L879.2 754.7L881.8 747.8L884.4 740.8L887.1 733.7L889.7 726.4L892.4 719.1L895.0 711.6L897.6 704.1L900.3 696.6L902.9 689.1L905.5 681.6L908.2 674.1L910.8 666.6L913.4 659.3L916.1 652.0L918.7 644.8L921.3 637.8L924.0 630.9L926.6 624.1L929.3 617.5L931.9 611.1L934.5 604.8L937.2 598.7L939.8 592.8L942.4 587.1L945.1 581.6L947.7 576.2L950.3 571.0L953.0 566.0L955.6 561.2L958.3 556.5L960.9 551.9L963.5 547.5L966.2 543.3L968.8 539.2L971.4 535.2L974.1 531.4L976.7 527.6L979.3 524.0L982.0 520.4L984.6 517.0L987.2 513.6L989.9 510.4L992.5 507.2L995.2 504.1L997.8 501.0L1000.4 498.0L1003.1 495.1L1005.7 492.2L1008.3 489.4L1011.0 486.6L1013.6 483.9L1016.2 481.2L1018.9 478.5L1021.5 475.9L1024.2 473.4L1026.8 470.9L1029.4 468.4L1032.1 465.9L1034.7 463.5L1037.3 461.1L1040.0 458.8L1042.6 456.5L1045.2 454.2L1047.9 452.0L1050.5 449.8L1053.1 447.6L1055.8 445.5L1058.4 443.4L1061.1 441.3L1063.7 439.3L1066.3 437.3L1069.0 435.3L1071.6 433.4L1074.2 431.5L1076.9 429.7L1079.5 427.8L1082.1 426.1L1084.8 424.3L1087.4 422.6L1090.1 421.0L1092.7 419.3L1095.3 417.7L1098.0 416.1L1100.6 414.6L1103.2 413.1L1105.9 411.7L1108.5 410.2L1111.1 408.8L1113.8 407.5L1116.4 406.1L1119.0 404.8L1121.7 403.5L1124.3 402.3L1127.0 401.1L1129.6 399.9L1132.2 398.7L1134.9 397.6L1137.5 396.5L1140.1 395.4L1142.8 394.3L1145.4 393.3L1148.0 392.2L1150.7 391.2L1153.3 390.3L1156.0 389.3L1158.6 388.4L1161.2 387.5L1163.9 386.6L1166.5 385.7L1169.1 384.8L1171.8 384.0L1174.4 383.1L1177.0 382.3L1179.7 381.5L1182.3 380.7L1184.9 380.0L1187.6 379.2L1190.2 378.5L1192.9 377.7L1195.5 377.0L1198.1 376.3L1200.8 375.6L1203.4 374.9L1206.0 374.2L1208.7 373.5L1211.3 372.9L1213.9 372.2L1216.6 371.5L1219.2 370.9L1221.9 370.3L1224.5 369.6L1227.1 369.0L1229.8 368.4L1232.4 367.8L1235.0 367.2L1237.7 366.6L1240.3 366.0L1242.9 365.4L1245.6 364.8L1248.2 364.3L1250.8 363.7L1253.5 363.1L1256.1 362.6L1258.8 362.0L1261.4 361.4L1264.0 360.9L1266.7 360.3L1269.3 359.8L1271.9 359.2L1274.6 358.7L1277.2 358.2L1279.8 357.6L1282.5 357.1L1285.1 356.6L1287.8 356.0L1290.4 355.5L1293.0 355.0L1295.7 354.5L1298.3 353.9L1300.9 353.4L1303.6 352.9L1306.2 352.4L1308.8 351.9L1311.5 351.4L1314.1 350.8L1316.7 350.3L1319.4 349.8L1322.0 349.3L1324.7 348.8L1327.3 348.3L1329.9 347.8L1332.6 347.3L1335.2 346.8L1337.8 346.3L1340.5 345.8L1343.1 345.3L1345.7 344.8L1348.4 344.3L1351.0 343.8L1353.7 343.3L1356.3 342.8L1358.9 342.3L1361.6 341.8L1364.2 341.3L1366.8 340.8L1369.5 340.3L1372.1 339.8L1374.7 339.3L1377.4 338.8L1380.0 338.3L1382.6 337.9L1385.3 337.4L1387.9 336.9L1390.6 336.4L1393.2 335.9L1395.8 335.4L1398.5 334.9L1401.1 334.4L1403.7 333.9L1406.4 333.4L1409.0 333.0L1411.6 332.5L1414.3 332.0L1416.9 331.5L1419.6 331.0L1422.2 330.5L1424.8 330.0L1427.5 329.5L1430.1 329.0L1432.7 328.6L1435.4 328.1L1438.0 327.6L1440.6 327.1L1443.3 326.6L1445.9 326.1L1448.5 325.6L1451.2 325.1L1453.8 324.7L1456.5 324.2L1459.1 323.7L1461.7 323.2L1464.4 322.7L1467.0 322.2" stroke="#4E85D3"/>
<path d="M307.2 886.7L309.8 886.7L312.4 886.7L315.1 886.7L317.7 886.7L320.3 886.7L323.0 886.7L325.6 886.7L328.2 886.7L330.9 886.7L333.5 886.7L336.2 886.7L338.8 886.7L341.4 886.7L344.1 886.7L346.7 886.7L349.3 886.7L352.0 886.7L354.6 886.7L357.2 886.7L359.9 886.7L362.5 886.7L365.2 886.7L367.8 886.7L370.4 886.7L373.1 886.7L375.7 886.7L378.3 886.7L381.0 886.7L383.6 886.7L386.2 886.7L388.9 886.7L391.5 886.7L394.1 886.7L396.8 886.7L399.4 886.7L402.1 886.7L404.7 886.7L407.3 886.7L410.0 886.7L412.6 886.7L415.2 886.7L417.9 886.7L420.5 886.7L423.1 886.7L425.8 886.7L428.4 886.7L431.1 886.7L433.7 886.7L436.3 886.7L439.0 886.7L441.6 886.7L444.2 886.7L446.9 886.7L449.5 886.7L452.1 886.7L454.8 886.7L457.4 886.7L460.0 886.7L462.7 886.7L465.3 886.7L468.0 886.7L470.6 886.7L473.2 886.7L475.9 886.7L478.5 886.7L481.1 886.7L483.8 886.7L486.4 886.7L489.0 886.7L491.7 886.7L494.3 886.7L497.0 886.7L499.6 886.7L502.2 886.7L504.9 886.7L507.5 886.7L510.1 886.7L512.8 886.7L515.4 886.7L518.0 886.7L520.7 886.7L523.3 886.7L525.9 886.7L528.6 886.7L531.2 886.7L533.9 886.7L536.5 886.7L539.1 886.7L541.8 886.7L544.4 886.7L547.0 886.7L549.7 886.7L552.3 886.7L554.9 886.7L557.6 886.7L560.2 886.7L562.9 886.7L565.5 886.7L568.1 886.7L570.8 886.7L573.4 886.7L576.0 886.7L578.7 886.7L581.3 886.7L583.9 886.7L586.6 886.7L589.2 886.7L591.8 886.7L594.5 886.7L597.1 886.7L599.8 886.7L602.4 886.7L605.0 886.7L607.7 886.7L610.3 886.7L612.9 886.7L615.6 886.7L618.2 886.7L620.8 886.7L623.5 886.7L626.1 886.7L628.8 886.7L631.4 886.7L634.0 886.7L636.7 886.7L639.3 886.7L641.9 886.7L644.6 886.7L647.2 886.7L649.8 886.7L652.5 886.7L655.1 886.7L657.7 886.7L660.4 886.7L663.0 886.7L665.7 886.7L668.3 886.7L670.9 886.7L673.6 886.7L676.2 886.7L678.8 886.6L681.5 886.6L684.1 886.6L686.7 886.6L689.4 886.6L692.0 886.6L694.7 886.6L697.3 886.6L699.9 886.6L702.6 886.5L705.2 886.5L707.8 886.5L710.5 886.5L713.1 886.5L715.7 886.4L718.4 886.4L721.0 886.3L723.6 886.3L726.3 886.3L728.9 886.2L731.6 886.1L734.2 886.1L736.8 886.0L739.5 885.9L742.1 885.8L744.7 885.7L747.4 885.5L750.0 885.4L752.6 885.2L755.3 885.1L757.9 884.9L760.6 884.7L763.2 884.4L765.8 884.1L768.5 883.8L771.1 883.5L773.7 883.1L776.4 882.7L779.0 882.2L781.6 881.7L784.3 881.2L786.9 880.6L789.5 879.9L792.2 879.1L794.8 878.3L797.5 877.4L800.1 876.4L802.7 875.3L805.4 874.1L808.0 872.8L810.6 871.4L813.3 869.9L815.9 868.3L818.5 866.5L821.2 864.6L823.8 862.5L826.5 860.3L829.1 857.9L831.7 855.4L834.4 852.7L837.0 849.8L839.6 846.8L842.3 843.6L844.9 840.2L847.5 836.6L850.2 832.8L852.8 828.9L855.4 824.8L858.1 820.5L860.7 816.1L863.4 811.5L866.0 806.8L868.6 801.9L871.3 796.9L873.9 791.8L876.5 786.5L879.2 781.2L881.8 775.8L884.4 770.3L887.1 764.8L889.7 759.2L892.4 753.5L895.0 747.9L897.6 742.3L900.3 736.6L902.9 731.0L905.5 725.4L908.2 719.9L910.8 714.4L913.4 708.9L916.1 703.6L918.7 698.3L921.3 693.1L924.0 688.0L926.6 683.0L929.3 678.0L931.9 673.2L934.5 668.5L937.2 664.0L939.8 659.5L942.4 655.1L945.1 650.9L947.7 646.7L950.3 642.7L953.0 638.8L955.6 635.0L958.3 631.3L960.9 627.7L963.5 624.2L966.2 620.8L968.8 617.5L971.4 614.3L974.1 611.2L976.7 608.1L979.3 605.2L982.0 602.3L984.6 599.5L987.2 596.8L989.9 594.1L992.5 591.5L995.2 589.0L997.8 586.5L1000.4 584.1L1003.1 581.7L1005.7 579.4L1008.3 577.1L1011.0 574.9L1013.6 572.7L1016.2 570.5L1018.9 568.4L1021.5 566.3L1024.2 564.2L1026.8 562.2L1029.4 560.2L1032.1 558.2L1034.7 556.2L1037.3 554.3L1040.0 552.4L1042.6 550.5L1045.2 548.7L1047.9 546.8L1050.5 545.0L1053.1 543.2L1055.8 541.4L1058.4 539.6L1061.1 537.9L1063.7 536.1L1066.3 534.4L1069.0 532.7L1071.6 531.1L1074.2 529.4L1076.9 527.7L1079.5 526.1L1082.1 524.5L1084.8 522.9L1087.4 521.4L1090.1 519.8L1092.7 518.3L1095.3 516.8L1098.0 515.3L1100.6 513.8L1103.2 512.4L1105.9 510.9L1108.5 509.5L1111.1 508.2L1113.8 506.8L1116.4 505.5L1119.0 504.2L1121.7 502.9L1124.3 501.6L1127.0 500.4L1129.6 499.1L1132.2 498.0L1134.9 496.8L1137.5 495.6L1140.1 494.5L1142.8 493.4L1145.4 492.4L1148.0 491.3L1150.7 490.3L1153.3 489.3L1156.0 488.3L1158.6 487.4L1161.2 486.4L1163.9 485.5L1166.5 484.6L1169.1 483.8L1171.8 482.9L1174.4 482.1L1177.0 481.3L1179.7 480.5L1182.3 479.8L1184.9 479.1L1187.6 478.3L1190.2 477.6L1192.9 477.0L1195.5 476.3L1198.1 475.7L1200.8 475.1L1203.4 474.4L1206.0 473.9L1208.7 473.3L1211.3 472.7L1213.9 472.2L1216.6 471.7L1219.2 471.1L1221.9 470.7L1224.5 470.2L1227.1 469.7L1229.8 469.2L1232.4 468.8L1235.0 468.4L1237.7 467.9L1240.3 467.5L1242.9 467.1L1245.6 466.8L1248.2 466.4L1250.8 466.0L1253.5 465.6L1256.1 465.3L1258.8 465.0L1261.4 464.6L1264.0 464.3L1266.7 464.0L1269.3 463.7L1271.9 463.4L1274.6 463.1L1277.2 462.8L1279.8 462.5L1282.5 462.3L1285.1 462.0L1287.8 461.7L1290.4 461.5L1293.0 461.2L1295.7 461.0L1298.3 460.8L1300.9 460.5L1303.6 460.3L1306.2 460.1L1308.8 459.9L1311.5 459.6L1314.1 459.4L1316.7 459.2L1319.4 459.0L1322.0 458.8L1324.7 458.6L1327.3 458.4L1329.9 458.3L1332.6 458.1L1335.2 457.9L1337.8 457.7L1340.5 457.5L1343.1 457.3L1345.7 457.2L1348.4 457.0L1351.0 456.8L1353.7 456.7L1356.3 456.5L1358.9 456.3L1361.6 456.2L1364.2 456.0L1366.8 455.9L1369.5 455.7L1372.1 455.6L1374.7 455.4L1377.4 455.3L1380.0 455.1L1382.6 455.0L1385.3 454.8L1387.9 454.7L1390.6 454.5L1393.2 454.4L1395.8 454.3L1398.5 454.1L1401.1 454.0L1403.7 453.8L1406.4 453.7L1409.0 453.6L1411.6 453.4L1414.3 453.3L1416.9 453.2L1419.6 453.0L1422.2 452.9L1424.8 452.8L1427.5 452.6L1430.1 452.5L1432.7 452.4L1435.4 452.3L1438.0 452.1L1440.6 452.0L1443.3 451.9L1445.9 451.8L1448.5 451.6L1451.2 451.5L1453.8 451.4L1456.5 451.3L1459.1 451.1L1461.7 451.0L1464.4 450.9L1467.0 450.8" stroke="#4E85D3"/>
<path d="M307.2 886.7L309.8 886.7L312.4 886.7L315.1 886.7L317.7 886.7L320.3 886.7L323.0 886.7L325.6 886.7L328.2 886.7L330.9 886.7L333.5 886.7L336.2 886.7L338.8 886.7L341.4 886.7L344.1 886.7L346.7 886.7L349.3 886.7L352.0 886.7L354.6 886.7L357.2 886.7L359.9 886.7L362.5 886.7L365.2 886.7L367.8 886.7L370.4 886.7L373.1 886.7L375.7 886.7L378.3 886.7L381.0 886.7L383.6 886.7L386.2 886.7L388.9 886.7L391.5 886.7L394.1 886.7L396.8 886.7L399.4 886.7L402.1 886.7L404.7 886.7L407.3 886.7L410.0 886.7L412.6 886.7L415.2 886.7L417.9 886.7L420.5 886.7L423.1 886.7L425.8 886.7L428.4 886.7L431.1 886.7L433.7 886.7L436.3 886.7L439.0 886.7L441.6 886.7L444.2 886.7L446.9 886.7L449.5 886.7L452.1 886.7L454.8 886.7L457.4 886.7L460.0 886.7L462.7 886.7L465.3 886.7L468.0 886.7L470.6 886.7L473.2 886.7L475.9 886.7L478.5 886.7L481.1 886.7L483.8 886.7L486.4 886.7L489.0 886.7L491.7 886.7L494.3 886.7L497.0 886.7L499.6 886.7L502.2 886.7L504.9 886.7L507.5 886.7L510.1 886.7L512.8 886.7L515.4 886.7L518.0 886.7L520.7 886.7L523.3 886.7L525.9 886.7L528.6 886.7L531.2 886.7L533.9 886.7L536.5 886.7L539.1 886.7L541.8 886.7L544.4 886.7L547.0 886.7L549.7 886.7L552.3 886.7L554.9 886.7L557.6 886.7L560.2 886.7L562.9 886.7L565.5 886.7L568.1 886.7L570.8 886.7L573.4 886.7L576.0 886.7L578.7 886.7L581.3 886.7L583.9 886.7L586.6 886.7L589.2 886.7L591.8 886.7L594.5 886.7L597.1 886.7L599.8 886.7L602.4 886.7L605.0 886.7L607.7 886.7L610.3 886.7L612.9 886.7L615.6 886.7L618.2 886.7L620.8 886.7L623.5 886.7L626.1 886.7L628.8 886.7L631.4 886.7L634.0 886.7L636.7 886.7L639.3 886.7L641.9 886.7L644.6 886.7L647.2 886.7L649.8 886.7L652.5 886.7L655.1 886.7L657.7 886.7L660.4 886.7L663.0 886.7L665.7 886.7L668.3 886.7L670.9 886.7L673.6 886.7L676.2 886.7L678.8 886.6L681.5 886.6L684.1 886.6L686.7 886.6L689.4 886.6L692.0 886.6L694.7 886.6L697.3 886.6L699.9 886.6L702.6 886.6L705.2 886.6L707.8 886.6L710.5 886.6L713.1 886.6L715.7 886.6L718.4 886.5L721.0 886.5L723.6 886.5L726.3 886.5L728.9 886.5L731.6 886.5L734.2 886.4L736.8 886.4L739.5 886.4L742.1 886.4L744.7 886.4L747.4 886.3L750.0 886.3L752.6 886.3L755.3 886.2L757.9 886.2L760.6 886.2L763.2 886.1L765.8 886.1L768.5 886.0L771.1 886.0L773.7 885.9L776.4 885.9L779.0 885.8L781.6 885.7L784.3 885.6L786.9 885.6L789.5 885.5L792.2 885.4L794.8 885.3L797.5 885.2L800.1 885.0L802.7 884.9L805.4 884.8L808.0 884.6L810.6 884.5L813.3 884.3L815.9 884.1L818.5 883.9L821.2 883.7L823.8 883.4L826.5 883.2L829.1 882.9L831.7 882.6L834.4 882.3L837.0 881.9L839.6 881.6L842.3 881.2L844.9 880.7L847.5 880.3L850.2 879.8L852.8 879.2L855.4 878.7L858.1 878.0L860.7 877.4L863.4 876.7L866.0 875.9L868.6 875.1L871.3 874.2L873.9 873.2L876.5 872.2L879.2 871.1L881.8 869.9L884.4 868.6L887.1 867.3L889.7 865.8L892.4 864.2L895.0 862.6L897.6 860.8L900.3 858.9L902.9 856.8L905.5 854.6L908.2 852.3L910.8 849.8L913.4 847.2L916.1 844.3L918.7 841.3L921.3 838.2L924.0 834.8L926.6 831.2L929.3 827.4L931.9 823.4L934.5 819.2L937.2 814.7L939.8 810.1L942.4 805.1L945.1 800.0L947.7 794.6L950.3 788.9L953.0 783.0L955.6 776.8L958.3 770.4L960.9 763.8L963.5 757.0L966.2 749.9L968.8 742.6L971.4 735.1L974.1 727.4L976.7 719.6L979.3 711.6L982.0 703.5L984.6 695.2L987.2 686.9L989.9 678.4L992.5 670.0L995.2 661.5L997.8 652.9L1000.4 644.5L1003.1 636.0L1005.7 627.6L1008.3 619.3L1011.0 611.1L1013.6 603.0L1016.2 595.1L1018.9 587.3L1021.5 579.7L1024.2 572.3L1026.8 565.0L1029.4 558.0L1032.1 551.2L1034.7 544.5L1037.3 538.2L1040.0 532.0L1042.6 526.0L1045.2 520.3L1047.9 514.8L1050.5 509.5L1053.1 504.5L1055.8 499.6L1058.4 494.9L1061.1 490.5L1063.7 486.2L1066.3 482.1L1069.0 478.3L1071.6 474.5L1074.2 471.0L1076.9 467.6L1079.5 464.3L1082.1 461.2L1084.8 458.2L1087.4 455.4L1090.1 452.6L1092.7 450.0L1095.3 447.5L1098.0 445.1L1100.6 442.8L1103.2 440.6L1105.9 438.4L1108.5 436.4L1111.1 434.4L1113.8 432.4L1116.4 430.6L1119.0 428.7L1121.7 427.0L1124.3 425.3L1127.0 423.6L1129.6 422.0L1132.2 420.4L1134.9 418.9L1137.5 417.4L1140.1 415.9L1142.8 414.4L1145.4 413.0L1148.0 411.6L1150.7 410.2L1153.3 408.8L1156.0 407.5L1158.6 406.2L1161.2 404.9L1163.9 403.6L1166.5 402.3L1169.1 401.0L1171.8 399.8L1174.4 398.5L1177.0 397.3L1179.7 396.1L1182.3 394.9L1184.9 393.6L1187.6 392.4L1190.2 391.2L1192.9 390.1L1195.5 388.9L1198.1 387.7L1200.8 386.5L1203.4 385.4L1206.0 384.2L1208.7 383.1L1211.3 381.9L1213.9 380.8L1216.6 379.6L1219.2 378.5L1221.9 377.4L1224.5 376.3L1227.1 375.2L1229.8 374.0L1232.4 373.0L1235.0 371.9L1237.7 370.8L1240.3 369.7L1242.9 368.6L1245.6 367.6L1248.2 366.5L1250.8 365.4L1253.5 364.4L1256.1 363.4L1258.8 362.3L1261.4 361.3L1264.0 360.3L1266.7 359.3L1269.3 358.3L1271.9 357.3L1274.6 356.3L1277.2 355.4L1279.8 354.4L1282.5 353.5L1285.1 352.5L1287.8 351.6L1290.4 350.7L1293.0 349.8L1295.7 348.9L1298.3 348.0L1300.9 347.1L1303.6 346.3L1306.2 345.4L1308.8 344.6L1311.5 343.7L1314.1 342.9L1316.7 342.1L1319.4 341.3L1322.0 340.5L1324.7 339.7L1327.3 339.0L1329.9 338.2L1332.6 337.5L1335.2 336.7L1337.8 336.0L1340.5 335.3L1343.1 334.6L1345.7 333.9L1348.4 333.2L1351.0 332.6L1353.7 331.9L1356.3 331.3L1358.9 330.6L1361.6 330.0L1364.2 329.4L1366.8 328.8L1369.5 328.2L1372.1 327.6L1374.7 327.1L1377.4 326.5L1380.0 326.0L1382.6 325.4L1385.3 324.9L1387.9 324.4L1390.6 323.9L1393.2 323.4L1395.8 322.9L1398.5 322.4L1401.1 321.9L1403.7 321.5L1406.4 321.0L1409.0 320.6L1411.6 320.2L1414.3 319.7L1416.9 319.3L1419.6 318.9L1422.2 318.5L1424.8 318.1L1427.5 317.8L1430.1 317.4L1432.7 317.0L1435.4 316.7L1438.0 316.3L1440.6 316.0L1443.3 315.7L1445.9 315.3L1448.5 315.0L1451.2 314.7L1453.8 314.4L1456.5 314.1L1459.1 313.8L1461.7 313.5L1464.4 313.3L1467.0 313.0" stroke="#4E85D3"/>
<path d="M307.2 886.7L309.8 886.7L312.4 886.7L315.1 886.7L317.7 886.7L320.3 886.7L323.0 886.7L325.6 886.7L328.2 886.7L330.9 886.7L333.5 886.7L336.2 886.7L338.8 886.7L341.4 886.7L344.1 886.7L346.7 886.7L349.3 886.7L352.0 886.7L354.6 886.7L357.2 886.7L359.9 886.7L362.5 886.7L365.2 886.7L367.8 886.7L370.4 886.7L373.1 886.7L375.7 886.7L378.3 886.7L381.0 886.7L383.6 886.7L386.2 886.7L388.9 886.7L391.5 886.7L394.1 886.7L396.8 886.7L399.4 886.7L402.1 886.7L404.7 886.7L407.3 886.7L410.0 886.7L412.6 886.7L415.2 886.7L417.9 886.7L420.5 886.7L423.1 886.7L425.8 886.7L428.4 886.7L431.1 886.7L433.7 886.7L436.3 886.7L439.0 886.7L441.6 886.7L444.2 886.7L446.9 886.7L449.5 886.7L452.1 886.7L454.8 886.7L457.4 886.7L460.0 886.7L462.7 886.7L465.3 886.7L468.0 886.7L470.6 886.7L473.2 886.7L475.9 886.7L478.5 886.7L481.1 886.7L483.8 886.7L486.4 886.7L489.0 886.7L491.7 886.7L494.3 886.7L497.0 886.7L499.6 886.7L502.2 886.7L504.9 886.7L507.5 886.7L510.1 886.7L512.8 886.7L515.4 886.7L518.0 886.7L520.7 886.7L523.3 886.7L525.9 886.7L528.6 886.7L531.2 886.7L533.9 886.7L536.5 886.7L539.1 886.7L541.8 886.7L544.4 886.7L547.0 886.7L549.7 886.7L552.3 886.7L554.9 886.7L557.6 886.7L560.2 886.7L562.9 886.7L565.5 886.7L568.1 886.7L570.8 886.7L573.4 886.7L576.0 886.7L578.7 886.7L581.3 886.7L583.9 886.7L586.6 886.7L589.2 886.7L591.8 886.7L594.5 886.7L597.1 886.7L599.8 886.7L602.4 886.7L605.0 886.7L607.7 886.7L610.3 886.7L612.9 886.7L615.6 886.7L618.2 886.7L620.8 886.7L623.5 886.7L626.1 886.7L628.8 886.7L631.4 886.7L634.0 886.7L636.7 886.7L639.3 886.7L641.9 886.7L644.6 886.7L647.2 886.7L649.8 886.7L652.5 886.7L655.1 886.7L657.7 886.7L660.4 886.7L663.0 886.7L665.7 886.7L668.3 886.7L670.9 886.7L673.6 886.7L676.2 886.7L678.8 886.7L681.5 886.7L684.1 886.7L686.7 886.7L689.4 886.7L692.0 886.6L694.7 886.6L697.3 886.6L699.9 886.6L702.6 886.6L705.2 886.6L707.8 886.6L710.5 886.6L713.1 886.6L715.7 886.6L718.4 886.6L721.0 886.6L723.6 886.6L726.3 886.5L728.9 886.5L731.6 886.5L734.2 886.5L736.8 886.5L739.5 886.5L742.1 886.5L744.7 886.4L747.4 886.4L750.0 886.4L752.6 886.4L755.3 886.3L757.9 886.3L760.6 886.3L763.2 886.2L765.8 886.2L768.5 886.2L771.1 886.1L773.7 886.1L776.4 886.0L779.0 886.0L781.6 885.9L784.3 885.8L786.9 885.7L789.5 885.7L792.2 885.6L794.8 885.5L797.5 885.4L800.1 885.3L802.7 885.2L805.4 885.0L808.0 884.9L810.6 884.7L813.3 884.6L815.9 884.4L818.5 884.2L821.2 884.0L823.8 883.8L826.5 883.6L829.1 883.3L831.7 883.0L834.4 882.7L837.0 882.4L839.6 882.0L842.3 881.7L844.9 881.2L847.5 880.8L850.2 880.3L852.8 879.8L855.4 879.3L858.1 878.7L860.7 878.0L863.4 877.3L866.0 876.6L868.6 875.8L871.3 874.9L873.9 874.0L876.5 873.0L879.2 871.9L881.8 870.7L884.4 869.5L887.1 868.2L889.7 866.7L892.4 865.2L895.0 863.6L897.6 861.9L900.3 860.0L902.9 858.0L905.5 855.9L908.2 853.6L910.8 851.2L913.4 848.7L916.1 846.0L918.7 843.1L921.3 840.0L924.0 836.8L926.6 833.4L929.3 829.8L931.9 826.0L934.5 822.0L937.2 817.9L939.8 813.5L942.4 808.8L945.1 804.0L947.7 799.0L950.3 793.8L953.0 788.3L955.6 782.7L958.3 776.8L960.9 770.7L963.5 764.5L966.2 758.0L968.8 751.4L971.4 744.6L974.1 737.7L976.7 730.6L979.3 723.4L982.0 716.0L984.6 708.5L987.2 701.0L989.9 693.4L992.5 685.7L995.2 677.9L997.8 670.2L1000.4 662.4L1003.1 654.6L1005.7 646.9L1008.3 639.2L1011.0 631.5L1013.6 623.9L1016.2 616.4L1018.9 609.0L1021.5 601.7L1024.2 594.5L1026.8 587.5L1029.4 580.5L1032.1 573.7L1034.7 567.1L1037.3 560.6L1040.0 554.3L1042.6 548.1L1045.2 542.1L1047.9 536.3L1050.5 530.6L1053.1 525.2L1055.8 519.8L1058.4 514.7L1061.1 509.7L1063.7 504.8L1066.3 500.1L1069.0 495.6L1071.6 491.2L1074.2 487.0L1076.9 482.9L1079.5 479.0L1082.1 475.2L1084.8 471.5L1087.4 467.9L1090.1 464.5L1092.7 461.1L1095.3 457.9L1098.0 454.8L1100.6 451.8L1103.2 448.8L1105.9 446.0L1108.5 443.3L1111.1 440.6L1113.8 438.0L1116.4 435.5L1119.0 433.1L1121.7 430.7L1124.3 428.4L1127.0 426.1L1129.6 424.0L1132.2 421.8L1134.9 419.7L1137.5 417.7L1140.1 415.7L1142.8 413.8L1145.4 411.9L1148.0 410.1L1150.7 408.3L1153.3 406.6L1156.0 404.8L1158.6 403.2L1161.2 401.5L1163.9 399.9L1166.5 398.4L1169.1 396.8L1171.8 395.3L1174.4 393.8L1177.0 392.4L1179.7 391.0L1182.3 389.6L1184.9 388.3L1187.6 387.0L1190.2 385.7L1192.9 384.4L1195.5 383.2L1198.1 382.0L1200.8 380.8L1203.4 379.7L1206.0 378.5L1208.7 377.4L1211.3 376.3L1213.9 375.3L1216.6 374.3L1219.2 373.2L1221.9 372.3L1224.5 371.3L1227.1 370.3L1229.8 369.4L1232.4 368.5L1235.0 367.6L1237.7 366.8L1240.3 365.9L1242.9 365.1L1245.6 364.3L1248.2 363.5L1250.8 362.7L1253.5 361.9L1256.1 361.2L1258.8 360.4L1261.4 359.7L1264.0 359.0L1266.7 358.3L1269.3 357.6L1271.9 356.9L1274.6 356.3L1277.2 355.6L1279.8 355.0L1282.5 354.3L1285.1 353.7L1287.8 353.1L1290.4 352.5L1293.0 351.9L1295.7 351.3L1298.3 350.8L1300.9 350.2L1303.6 349.6L1306.2 349.1L1308.8 348.5L1311.5 348.0L1314.1 347.5L1316.7 346.9L1319.4 346.4L1322.0 345.9L1324.7 345.4L1327.3 344.9L1329.9 344.4L1332.6 343.9L1335.2 343.4L1337.8 342.9L1340.5 342.4L1343.1 342.0L1345.7 341.5L1348.4 341.0L1351.0 340.5L1353.7 340.1L1356.3 339.6L1358.9 339.1L1361.6 338.7L1364.2 338.2L1366.8 337.8L1369.5 337.3L1372.1 336.9L1374.7 336.4L1377.4 336.0L1380.0 335.5L1382.6 335.1L1385.3 334.7L1387.9 334.2L1390.6 333.8L1393.2 333.3L1395.8 332.9L1398.5 332.5L1401.1 332.1L1403.7 331.6L1406.4 331.2L1409.0 330.8L1411.6 330.3L1414.3 329.9L1416.9 329.5L1419.6 329.1L1422.2 328.6L1424.8 328.2L1427.5 327.8L1430.1 327.4L1432.7 327.0L1435.4 326.5L1438.0 326.1L1440.6 325.7L1443.3 325.3L1445.9 324.9L1448.5 324.5L1451.2 324.0L1453.8 323.6L1456.5 323.2L1459.1 322.8L1461.7 322.4L1464.4 322.0L1467.0 321.6" stroke="#4E85D3"/>
<path d="M307.2 886.7L309.8 886.7L312.4 886.7L315.1 886.7L317.7 886.7L320.3 886.7L323.0 886.7L325.6 886.7L328.2 886.7L330.9 886.7L333.5 886.7L336.2 886.7L338.8 886.7L341.4 886.7L344.1 886.7L346.7 886.7L349.3 886.7L352.0 886.7L354.6 886.7L357.2 886.7L359.9 886.7L362.5 886.7L365.2 886.7L367.8 886.7L370.4 886.7L373.1 886.7L375.7 886.7L378.3 886.7L381.0 886.7L383.6 886.7L386.2 886.7L388.9 886.7L391.5 886.7L394.1 886.7L396.8 886.7L399.4 886.7L402.1 886.7L404.7 886.7L407.3 886.7L410.0 886.7L412.6 886.7L415.2 886.7L417.9 886.7L420.5 886.7L423.1 886.7L425.8 886.7L428.4 886.7L431.1 886.7L433.7 886.7L436.3 886.7L439.0 886.7L441.6 886.7L444.2 886.7L446.9 886.7L449.5 886.7L452.1 886.7L454.8 886.7L457.4 886.7L460.0 886.7L462.7 886.7L465.3 886.7L468.0 886.7L470.6 886.7L473.2 886.7L475.9 886.7L478.5 886.7L481.1 886.7L483.8 886.7L486.4 886.7L489.0 886.7L491.7 886.7L494.3 886.7L497.0 886.7L499.6 886.7L502.2 886.7L504.9 886.7L507.5 886.7L510.1 886.7L512.8 886.7L515.4 886.7L518.0 886.7L520.7 886.7L523.3 886.7L525.9 886.7L528.6 886.7L531.2 886.7L533.9 886.7L536.5 886.7L539.1 886.7L541.8 886.7L544.4 886.7L547.0 886.7L549.7 886.7L552.3 886.7L554.9 886.7L557.6 886.7L560.2 886.7L562.9 886.7L565.5 886.7L568.1 886.7L570.8 886.7L573.4 886.7L576.0 886.7L578.7 886.7L581.3 886.7L583.9 886.7L586.6 886.7L589.2 886.7L591.8 886.7L594.5 886.7L597.1 886.7L599.8 886.7L602.4 886.6L605.0 886.6L607.7 886.6L610.3 886.6L612.9 886.6L615.6 886.6L618.2 886.6L620.8 886.6L623.5 886.6L626.1 886.6L628.8 886.6L631.4 886.6L634.0 886.6L636.7 886.6L639.3 886.6L641.9 886.6L644.6 886.6L647.2 886.6L649.8 886.5L652.5 886.5L655.1 886.5L657.7 886.5L660.4 886.5L663.0 886.5L665.7 886.5L668.3 886.5L670.9 886.5L673.6 886.4L676.2 886.4L678.8 886.4L681.5 886.4L684.1 886.4L686.7 886.4L689.4 886.3L692.0 886.3L694.7 886.3L697.3 886.3L699.9 886.3L702.6 886.2L705.2 886.2L707.8 886.2L710.5 886.1L713.1 886.1L715.7 886.1L718.4 886.1L721.0 886.0L723.6 886.0L726.3 885.9L728.9 885.9L731.6 885.9L734.2 885.8L736.8 885.8L739.5 885.7L742.1 885.7L744.7 885.6L747.4 885.5L750.0 885.5L752.6 885.4L755.3 885.3L757.9 885.3L760.6 885.2L763.2 885.1L765.8 885.0L768.5 884.9L771.1 884.8L773.7 884.7L776.4 884.6L779.0 884.5L781.6 884.4L784.3 884.3L786.9 884.1L789.5 884.0L792.2 883.9L794.8 883.7L797.5 883.6L800.1 883.4L802.7 883.2L805.4 883.0L808.0 882.8L810.6 882.6L813.3 882.4L815.9 882.1L818.5 881.9L821.2 881.6L823.8 881.4L826.5 881.1L829.1 880.8L831.7 880.4L834.4 880.1L837.0 879.7L839.6 879.4L842.3 878.9L844.9 878.5L847.5 878.1L850.2 877.6L852.8 877.1L855.4 876.5L858.1 876.0L860.7 875.4L863.4 874.7L866.0 874.0L868.6 873.3L871.3 872.5L873.9 871.7L876.5 870.9L879.2 870.0L881.8 869.0L884.4 867.9L887.1 866.9L889.7 865.7L892.4 864.4L895.0 863.1L897.6 861.7L900.3 860.2L902.9 858.6L905.5 857.0L908.2 855.2L910.8 853.2L913.4 851.2L916.1 849.0L918.7 846.7L921.3 844.3L924.0 841.7L926.6 838.9L929.3 835.9L931.9 832.7L934.5 829.4L937.2 825.8L939.8 822.1L942.4 818.1L945.1 813.8L947.7 809.3L950.3 804.6L953.0 799.7L955.6 794.4L958.3 789.0L960.9 783.3L963.5 777.5L966.2 771.4L968.8 765.2L971.4 758.9L974.1 752.5L976.7 746.0L979.3 739.5L982.0 733.1L984.6 726.7L987.2 720.4L989.9 714.2L992.5 708.0L995.2 702.0L997.8 696.1L1000.4 690.3L1003.1 684.6L1005.7 678.9L1008.3 673.3L1011.0 667.8L1013.6 662.3L1016.2 656.9L1018.9 651.4L1021.5 646.0L1024.2 640.6L1026.8 635.2L1029.4 629.8L1032.1 624.4L1034.7 619.0L1037.3 613.7L1040.0 608.3L1042.6 602.9L1045.2 597.6L1047.9 592.3L1050.5 586.9L1053.1 581.7L1055.8 576.4L1058.4 571.2L1061.1 566.0L1063.7 560.9L1066.3 555.8L1069.0 550.7L1071.6 545.7L1074.2 540.8L1076.9 536.0L1079.5 531.2L1082.1 526.5L1084.8 521.8L1087.4 517.3L1090.1 512.8L1092.7 508.4L1095.3 504.1L1098.0 499.8L1100.6 495.7L1103.2 491.7L1105.9 487.7L1108.5 483.8L1111.1 480.1L1113.8 476.4L1116.4 472.8L1119.0 469.3L1121.7 465.9L1124.3 462.6L1127.0 459.4L1129.6 456.3L1132.2 453.3L1134.9 450.3L1137.5 447.5L1140.1 444.7L1142.8 442.0L1145.4 439.4L1148.0 436.9L1150.7 434.4L1153.3 432.0L1156.0 429.7L1158.6 427.5L1161.2 425.3L1163.9 423.2L1166.5 421.2L1169.1 419.2L1171.8 417.3L1174.4 415.5L1177.0 413.7L1179.7 412.0L1182.3 410.3L1184.9 408.7L1187.6 407.1L1190.2 405.6L1192.9 404.1L1195.5 402.7L1198.1 401.3L1200.8 400.0L1203.4 398.7L1206.0 397.4L1208.7 396.2L1211.3 395.0L1213.9 393.8L1216.6 392.7L1219.2 391.6L1221.9 390.6L1224.5 389.5L1227.1 388.5L1229.8 387.5L1232.4 386.6L1235.0 385.6L1237.7 384.7L1240.3 383.8L1242.9 383.0L1245.6 382.1L1248.2 381.3L1250.8 380.5L1253.5 379.7L1256.1 378.9L1258.8 378.2L1261.4 377.4L1264.0 376.7L1266.7 376.0L1269.3 375.3L1271.9 374.6L1274.6 373.9L1277.2 373.2L1279.8 372.6L1282.5 371.9L1285.1 371.3L1287.8 370.7L1290.4 370.0L1293.0 369.4L1295.7 368.8L1298.3 368.2L1300.9 367.7L1303.6 367.1L1306.2 366.5L1308.8 365.9L1311.5 365.4L1314.1 364.8L1316.7 364.3L1319.4 363.7L1322.0 363.2L1324.7 362.7L1327.3 362.1L1329.9 361.6L1332.6 361.1L1335.2 360.6L1337.8 360.1L1340.5 359.6L1343.1 359.1L1345.7 358.6L1348.4 358.1L1351.0 357.6L1353.7 357.1L1356.3 356.6L1358.9 356.1L1361.6 355.6L1364.2 355.1L1366.8 354.6L1369.5 354.2L1372.1 353.7L1374.7 353.2L1377.4 352.7L1380.0 352.3L1382.6 351.8L1385.3 351.3L1387.9 350.9L1390.6 350.4L1393.2 349.9L1395.8 349.5L1398.5 349.0L1401.1 348.6L1403.7 348.1L1406.4 347.6L1409.0 347.2L1411.6 346.7L1414.3 346.3L1416.9 345.8L1419.6 345.4L1422.2 344.9L1424.8 344.5L1427.5 344.0L1430.1 343.6L1432.7 343.1L1435.4 342.7L1438.0 342.2L1440.6 341.8L1443.3 341.3L1445.9 340.9L1448.5 340.4L1451.2 340.0L1453.8 339.5L1456.5 339.1L1459.1 338.6L1461.7 338.2L1464.4 337.7L1467.0 337.3" stroke="#4E85D3"/>
<path d="M307.2 886.7L309.8 886.7L312.4 886.7L315.1 886.7L317.7 886.7L320.3 886.7L323.0 886.7L325.6 886.7L328.2 886.7L330.9 886.7L333.5 886.7L336.2 886.7L338.8 886.7L341.4 886.7L344.1 886.7L346.7 886.7L349.3 886.7L352.0 886.7L354.6 886.7L357.2 886.7L359.9 886.7L362.5 886.7L365.2 886.7L367.8 886.7L370.4 886.7L373.1 886.7L375.7 886.7L378.3 886.7L381.0 886.7L383.6 886.7L386.2 886.7L388.9 886.7L391.5 886.7L394.1 886.7L396.8 886.7L399.4 886.7L402.1 886.7L404.7 886.7L407.3 886.7L410.0 886.7L412.6 886.7L415.2 886.7L417.9 886.7L420.5 886.7L423.1 886.7L425.8 886.7L428.4 886.7L431.1 886.7L433.7 886.7L436.3 886.7L439.0 886.7L441.6 886.7L444.2 886.7L446.9 886.7L449.5 886.7L452.1 886.7L454.8 886.7L457.4 886.7L460.0 886.7L462.7 886.7L465.3 886.7L468.0 886.7L470.6 886.7L473.2 886.7L475.9 886.7L478.5 886.7L481.1 886.7L483.8 886.7L486.4 886.7L489.0 886.7L491.7 886.7L494.3 886.7L497.0 886.7L499.6 886.7L502.2 886.7L504.9 886.7L507.5 886.7L510.1 886.7L512.8 886.7L515.4 886.7L518.0 886.7L520.7 886.7L523.3 886.7L525.9 886.7L528.6 886.7L531.2 886.7L533.9 886.7L536.5 886.7L539.1 886.7L541.8 886.7L544.4 886.7L547.0 886.7L549.7 886.7L552.3 886.7L554.9 886.7L557.6 886.7L560.2 886.7L562.9 886.7L565.5 886.7L568.1 886.7L570.8 886.7L573.4 886.7L576.0 886.7L578.7 886.7L581.3 886.7L583.9 886.7L586.6 886.7L589.2 886.7L591.8 886.7L594.5 886.7L597.1 886.7L599.8 886.7L602.4 886.7L605.0 886.7L607.7 886.7L610.3 886.7L612.9 886.7L615.6 886.7L618.2 886.7L620.8 886.7L623.5 886.7L626.1 886.7L628.8 886.7L631.4 886.7L634.0 886.7L636.7 886.7L639.3 886.7L641.9 886.7L644.6 886.7L647.2 886.7L649.8 886.7L652.5 886.7L655.1 886.7L657.7 886.7L660.4 886.7L663.0 886.7L665.7 886.7L668.3 886.7L670.9 886.7L673.6 886.7L676.2 886.7L678.8 886.7L681.5 886.7L684.1 886.7L686.7 886.7L689.4 886.7L692.0 886.7L694.7 886.7L697.3 886.7L699.9 886.7L702.6 886.7L705.2 886.7L707.8 886.7L710.5 886.7L713.1 886.7L715.7 886.7L718.4 886.7L721.0 886.7L723.6 886.7L726.3 886.7L728.9 886.7L731.6 886.7L734.2 886.7L736.8 886.7L739.5 886.7L742.1 886.7L744.7 886.7L747.4 886.7L750.0 886.7L752.6 886.7L755.3 886.7L757.9 886.7L760.6 886.7L763.2 886.7L765.8 886.7L768.5 886.7L771.1 886.7L773.7 886.7L776.4 886.7L779.0 886.7L781.6 886.7L784.3 886.7L786.9 886.6L789.5 886.6L792.2 886.6L794.8 886.6L797.5 886.6L800.1 886.6L802.7 886.6L805.4 886.6L808.0 886.6L810.6 886.6L813.3 886.6L815.9 886.6L818.5 886.6L821.2 886.6L823.8 886.6L826.5 886.6L829.1 886.5L831.7 886.5L834.4 886.5L837.0 886.5L839.6 886.5L842.3 886.5L844.9 886.5L847.5 886.5L850.2 886.4L852.8 886.4L855.4 886.4L858.1 886.4L860.7 886.4L863.4 886.3L866.0 886.3L868.6 886.3L871.3 886.3L873.9 886.2L876.5 886.2L879.2 886.2L881.8 886.1L884.4 886.1L887.1 886.0L889.7 886.0L892.4 886.0L895.0 885.9L897.6 885.8L900.3 885.8L902.9 885.7L905.5 885.7L908.2 885.6L910.8 885.5L913.4 885.4L916.1 885.3L918.7 885.2L921.3 885.1L924.0 885.0L926.6 884.9L929.3 884.8L931.9 884.7L934.5 884.5L937.2 884.4L939.8 884.2L942.4 884.1L945.1 883.9L947.7 883.7L950.3 883.5L953.0 883.3L955.6 883.0L958.3 882.8L960.9 882.5L963.5 882.2L966.2 881.9L968.8 881.6L971.4 881.2L974.1 880.9L976.7 880.5L979.3 880.0L982.0 879.6L984.6 879.1L987.2 878.6L989.9 878.0L992.5 877.4L995.2 876.8L997.8 876.1L1000.4 875.4L1003.1 874.6L1005.7 873.8L1008.3 872.9L1011.0 872.0L1013.6 871.0L1016.2 870.0L1018.9 868.8L1021.5 867.6L1024.2 866.3L1026.8 865.0L1029.4 863.5L1032.1 861.9L1034.7 860.3L1037.3 858.5L1040.0 856.7L1042.6 854.7L1045.2 852.6L1047.9 850.3L1050.5 847.9L1053.1 845.4L1055.8 842.7L1058.4 839.8L1061.1 836.8L1063.7 833.6L1066.3 830.2L1069.0 826.6L1071.6 822.9L1074.2 818.9L1076.9 814.6L1079.5 810.2L1082.1 805.5L1084.8 800.6L1087.4 795.5L1090.1 790.1L1092.7 784.4L1095.3 778.5L1098.0 772.3L1100.6 765.9L1103.2 759.2L1105.9 752.3L1108.5 745.1L1111.1 737.7L1113.8 730.0L1116.4 722.1L1119.0 714.0L1121.7 705.7L1124.3 697.3L1127.0 688.6L1129.6 679.9L1132.2 671.0L1134.9 662.0L1137.5 652.9L1140.1 643.8L1142.8 634.7L1145.4 625.6L1148.0 616.5L1150.7 607.5L1153.3 598.5L1156.0 589.7L1158.6 581.0L1161.2 572.5L1163.9 564.1L1166.5 555.9L1169.1 548.0L1171.8 540.3L1174.4 532.7L1177.0 525.5L1179.7 518.5L1182.3 511.7L1184.9 505.2L1187.6 499.0L1190.2 493.0L1192.9 487.2L1195.5 481.7L1198.1 476.5L1200.8 471.4L1203.4 466.6L1206.0 462.1L1208.7 457.7L1211.3 453.5L1213.9 449.5L1216.6 445.7L1219.2 442.1L1221.9 438.6L1224.5 435.3L1227.1 432.1L1229.8 429.0L1232.4 426.1L1235.0 423.2L1237.7 420.5L1240.3 417.8L1242.9 415.3L1245.6 412.8L1248.2 410.4L1250.8 408.0L1253.5 405.7L1256.1 403.5L1258.8 401.3L1261.4 399.1L1264.0 397.0L1266.7 394.9L1269.3 392.8L1271.9 390.8L1274.6 388.7L1277.2 386.7L1279.8 384.7L1282.5 382.8L1285.1 380.8L1287.8 378.8L1290.4 376.9L1293.0 374.9L1295.7 373.0L1298.3 371.1L1300.9 369.2L1303.6 367.3L1306.2 365.4L1308.8 363.5L1311.5 361.6L1314.1 359.7L1316.7 357.8L1319.4 356.0L1322.0 354.1L1324.7 352.3L1327.3 350.5L1329.9 348.7L1332.6 346.9L1335.2 345.2L1337.8 343.4L1340.5 341.7L1343.1 340.0L1345.7 338.3L1348.4 336.7L1351.0 335.0L1353.7 333.4L1356.3 331.8L1358.9 330.3L1361.6 328.8L1364.2 327.3L1366.8 325.8L1369.5 324.4L1372.1 323.0L1374.7 321.7L1377.4 320.3L1380.0 319.0L1382.6 317.8L1385.3 316.5L1387.9 315.3L1390.6 314.2L1393.2 313.0L1395.8 311.9L1398.5 310.9L1401.1 309.8L1403.7 308.8L1406.4 307.9L1409.0 306.9L1411.6 306.0L1414.3 305.1L1416.9 304.3L1419.6 303.4L1422.2 302.6L1424.8 301.9L1427.5 301.1L1430.1 300.4L1432.7 299.7L1435.4 299.0L1438.0 298.4L1440.6 297.8L1443.3 297.2L1445.9 296.6L1448.5 296.0L1451.2 295.5L1453.8 295.0L1456.5 294.5L1459.1 294.0L1461.7 293.5L1464.4 293.1L1467.0 292.6" stroke="#4E85D3"/>
<path d="M307.2 886.7L309.8 886.7L312.4 886.7L315.1 886.7L317.7 886.7L320.3 886.7L323.0 886.7L325.6 886.7L328.2 886.7L330.9 886.7L333.5 886.7L336.2 886.7L338.8 886.7L341.4 886.7L344.1 886.7L346.7 886.7L349.3 886.7L352.0 886.7L354.6 886.7L357.2 886.7L359.9 886.7L362.5 886.7L365.2 886.7L367.8 886.7L370.4 886.7L373.1 886.7L375.7 886.7L378.3 886.7L381.0 886.7L383.6 886.7L386.2 886.7L388.9 886.7L391.5 886.7L394.1 886.7L396.8 886.7L399.4 886.7L402.1 886.7L404.7 886.7L407.3 886.7L410.0 886.7L412.6 886.7L415.2 886.7L417.9 886.7L420.5 886.7L423.1 886.7L425.8 886.7L428.4 886.7L431.1 886.7L433.7 886.7L436.3 886.7L439.0 886.7L441.6 886.7L444.2 886.7L446.9 886.7L449.5 886.7L452.1 886.7L454.8 886.7L457.4 886.7L460.0 886.7L462.7 886.7L465.3 886.7L468.0 886.7L470.6 886.7L473.2 886.7L475.9 886.7L478.5 886.7L481.1 886.7L483.8 886.7L486.4 886.7L489.0 886.7L491.7 886.7L494.3 886.7L497.0 886.7L499.6 886.7L502.2 886.7L504.9 886.7L507.5 886.7L510.1 886.7L512.8 886.7L515.4 886.7L518.0 886.7L520.7 886.7L523.3 886.7L525.9 886.7L528.6 886.7L531.2 886.7L533.9 886.7L536.5 886.7L539.1 886.7L541.8 886.7L544.4 886.7L547.0 886.7L549.7 886.7L552.3 886.7L554.9 886.7L557.6 886.7L560.2 886.7L562.9 886.7L565.5 886.7L568.1 886.7L570.8 886.7L573.4 886.7L576.0 886.7L578.7 886.7L581.3 886.7L583.9 886.7L586.6 886.7L589.2 886.7L591.8 886.7L594.5 886.7L597.1 886.7L599.8 886.7L602.4 886.7L605.0 886.7L607.7 886.7L610.3 886.7L612.9 886.7L615.6 886.7L618.2 886.7L620.8 886.7L623.5 886.7L626.1 886.7L628.8 886.7L631.4 886.7L634.0 886.7L636.7 886.7L639.3 886.7L641.9 886.7L644.6 886.7L647.2 886.7L649.8 886.7L652.5 886.7L655.1 886.7L657.7 886.7L660.4 886.7L663.0 886.7L665.7 886.7L668.3 886.7L670.9 886.7L673.6 886.7L676.2 886.7L678.8 886.7L681.5 886.7L684.1 886.7L686.7 886.7L689.4 886.7L692.0 886.7L694.7 886.7L697.3 886.7L699.9 886.7L702.6 886.7L705.2 886.7L707.8 886.7L710.5 886.7L713.1 886.7L715.7 886.7L718.4 886.7L721.0 886.7L723.6 886.7L726.3 886.7L728.9 886.7L731.6 886.7L734.2 886.7L736.8 886.7L739.5 886.7L742.1 886.7L744.7 886.7L747.4 886.7L750.0 886.7L752.6 886.7L755.3 886.7L757.9 886.7L760.6 886.7L763.2 886.7L765.8 886.7L768.5 886.7L771.1 886.7L773.7 886.7L776.4 886.7L779.0 886.7L781.6 886.6L784.3 886.6L786.9 886.6L789.5 886.6L792.2 886.6L794.8 886.6L797.5 886.6L800.1 886.6L802.7 886.6L805.4 886.6L808.0 886.6L810.6 886.6L813.3 886.6L815.9 886.6L818.5 886.6L821.2 886.6L823.8 886.6L826.5 886.5L829.1 886.5L831.7 886.5L834.4 886.5L837.0 886.5L839.6 886.5L842.3 886.5L844.9 886.5L847.5 886.4L850.2 886.4L852.8 886.4L855.4 886.4L858.1 886.4L860.7 886.3L863.4 886.3L866.0 886.3L868.6 886.3L871.3 886.2L873.9 886.2L876.5 886.2L879.2 886.1L881.8 886.1L884.4 886.0L887.1 886.0L889.7 886.0L892.4 885.9L895.0 885.9L897.6 885.8L900.3 885.7L902.9 885.7L905.5 885.6L908.2 885.5L910.8 885.5L913.4 885.4L916.1 885.3L918.7 885.2L921.3 885.1L924.0 885.0L926.6 884.9L929.3 884.7L931.9 884.6L934.5 884.5L937.2 884.3L939.8 884.2L942.4 884.0L945.1 883.8L947.7 883.6L950.3 883.4L953.0 883.2L955.6 883.0L958.3 882.7L960.9 882.4L963.5 882.2L966.2 881.9L968.8 881.5L971.4 881.2L974.1 880.8L976.7 880.4L979.3 880.0L982.0 879.6L984.6 879.1L987.2 878.6L989.9 878.1L992.5 877.5L995.2 876.9L997.8 876.2L1000.4 875.5L1003.1 874.8L1005.7 874.0L1008.3 873.2L1011.0 872.3L1013.6 871.3L1016.2 870.3L1018.9 869.3L1021.5 868.1L1024.2 866.9L1026.8 865.6L1029.4 864.2L1032.1 862.8L1034.7 861.2L1037.3 859.6L1040.0 857.8L1042.6 856.0L1045.2 854.0L1047.9 851.9L1050.5 849.7L1053.1 847.3L1055.8 844.8L1058.4 842.2L1061.1 839.4L1063.7 836.4L1066.3 833.3L1069.0 830.0L1071.6 826.5L1074.2 822.8L1076.9 818.9L1079.5 814.9L1082.1 810.6L1084.8 806.1L1087.4 801.4L1090.1 796.4L1092.7 791.3L1095.3 785.9L1098.0 780.2L1100.6 774.3L1103.2 768.2L1105.9 761.9L1108.5 755.3L1111.1 748.5L1113.8 741.5L1116.4 734.3L1119.0 726.9L1121.7 719.3L1124.3 711.5L1127.0 703.5L1129.6 695.4L1132.2 687.2L1134.9 678.9L1137.5 670.5L1140.1 662.0L1142.8 653.5L1145.4 645.0L1148.0 636.5L1150.7 628.0L1153.3 619.6L1156.0 611.2L1158.6 603.0L1161.2 594.9L1163.9 586.9L1166.5 579.1L1169.1 571.4L1171.8 564.0L1174.4 556.8L1177.0 549.8L1179.7 543.0L1182.3 536.5L1184.9 530.2L1187.6 524.1L1190.2 518.3L1192.9 512.8L1195.5 507.5L1198.1 502.4L1200.8 497.6L1203.4 493.0L1206.0 488.7L1208.7 484.5L1211.3 480.6L1213.9 476.9L1216.6 473.4L1219.2 470.0L1221.9 466.9L1224.5 463.9L1227.1 461.1L1229.8 458.4L1232.4 455.9L1235.0 453.5L1237.7 451.2L1240.3 449.1L1242.9 447.0L1245.6 445.1L1248.2 443.2L1250.8 441.4L1253.5 439.7L1256.1 438.1L1258.8 436.6L1261.4 435.1L1264.0 433.6L1266.7 432.2L1269.3 430.9L1271.9 429.6L1274.6 428.3L1277.2 427.0L1279.8 425.8L1282.5 424.6L1285.1 423.4L1287.8 422.3L1290.4 421.1L1293.0 420.0L1295.7 418.8L1298.3 417.7L1300.9 416.5L1303.6 415.4L1306.2 414.3L1308.8 413.1L1311.5 412.0L1314.1 410.8L1316.7 409.7L1319.4 408.5L1322.0 407.3L1324.7 406.1L1327.3 404.9L1329.9 403.7L1332.6 402.5L1335.2 401.3L1337.8 400.1L1340.5 398.8L1343.1 397.6L1345.7 396.3L1348.4 395.0L1351.0 393.7L1353.7 392.4L1356.3 391.1L1358.9 389.8L1361.6 388.5L1364.2 387.2L1366.8 385.9L1369.5 384.6L1372.1 383.3L1374.7 382.0L1377.4 380.7L1380.0 379.4L1382.6 378.1L1385.3 376.8L1387.9 375.5L1390.6 374.2L1393.2 373.0L1395.8 371.7L1398.5 370.5L1401.1 369.3L1403.7 368.1L1406.4 366.9L1409.0 365.7L1411.6 364.6L1414.3 363.4L1416.9 362.3L1419.6 361.2L1422.2 360.2L1424.8 359.1L1427.5 358.1L1430.1 357.1L1432.7 356.1L1435.4 355.2L1438.0 354.2L1440.6 353.3L1443.3 352.5L1445.9 351.6L1448.5 350.8L1451.2 350.0L1453.8 349.2L1456.5 348.4L1459.1 347.7L1461.7 347.0L1464.4 346.3L1467.0 345.6" stroke="#4E85D3"/>
<path d="M307.2 886.7L309.8 886.7L312.4 886.7L315.1 886.7L317.7 886.7L320.3 886.7L323.0 886.7L325.6 886.7L328.2 886.7L330.9 886.7L333.5 886.7L336.2 886.7L338.8 886.7L341.4 886.7L344.1 886.7L346.7 886.7L349.3 886.7L352.0 886.7L354.6 886.7L357.2 886.7L359.9 886.7L362.5 886.7L365.2 886.7L367.8 886.7L370.4 886.7L373.1 886.7L375.7 886.7L378.3 886.7L381.0 886.7L383.6 886.7L386.2 886.7L388.9 886.7L391.5 886.7L394.1 886.7L396.8 886.7L399.4 886.7L402.1 886.7L404.7 886.7L407.3 886.7L410.0 886.7L412.6 886.7L415.2 886.7L417.9 886.7L420.5 886.7L423.1 886.7L425.8 886.7L428.4 886.7L431.1 886.7L433.7 886.7L436.3 886.7L439.0 886.7L441.6 886.7L444.2 886.7L446.9 886.7L449.5 886.7L452.1 886.7L454.8 886.7L457.4 886.7L460.0 886.7L462.7 886.7L465.3 886.7L468.0 886.7L470.6 886.7L473.2 886.7L475.9 886.7L478.5 886.7L481.1 886.7L483.8 886.7L486.4 886.7L489.0 886.7L491.7 886.7L494.3 886.7L497.0 886.7L499.6 886.7L502.2 886.7L504.9 886.7L507.5 886.7L510.1 886.7L512.8 886.7L515.4 886.7L518.0 886.7L520.7 886.7L523.3 886.7L525.9 886.7L528.6 886.7L531.2 886.7L533.9 886.7L536.5 886.7L539.1 886.7L541.8 886.7L544.4 886.7L547.0 886.7L549.7 886.7L552.3 886.7L554.9 886.7L557.6 886.7L560.2 886.7L562.9 886.7L565.5 886.7L568.1 886.7L570.8 886.7L573.4 886.7L576.0 886.7L578.7 886.7L581.3 886.7L583.9 886.7L586.6 886.7L589.2 886.7L591.8 886.7L594.5 886.7L597.1 886.7L599.8 886.7L602.4 886.7L605.0 886.7L607.7 886.7L610.3 886.7L612.9 886.7L615.6 886.7L618.2 886.7L620.8 886.7L623.5 886.7L626.1 886.7L628.8 886.7L631.4 886.7L634.0 886.7L636.7 886.7L639.3 886.7L641.9 886.7L644.6 886.7L647.2 886.7L649.8 886.7L652.5 886.7L655.1 886.7L657.7 886.7L660.4 886.7L663.0 886.7L665.7 886.7L668.3 886.7L670.9 886.7L673.6 886.7L676.2 886.7L678.8 886.7L681.5 886.7L684.1 886.7L686.7 886.7L689.4 886.7L692.0 886.7L694.7 886.7L697.3 886.7L699.9 886.7L702.6 886.7L705.2 886.7L707.8 886.7L710.5 886.7L713.1 886.7L715.7 886.7L718.4 886.7L721.0 886.7L723.6 886.7L726.3 886.7L728.9 886.7L731.6 886.7L734.2 886.7L736.8 886.6L739.5 886.6L742.1 886.6L744.7 886.6L747.4 886.6L750.0 886.6L752.6 886.6L755.3 886.6L757.9 886.6L760.6 886.6L763.2 886.6L765.8 886.6L768.5 886.6L771.1 886.6L773.7 886.6L776.4 886.6L779.0 886.6L781.6 886.6L784.3 886.6L786.9 886.6L789.5 886.5L792.2 886.5L794.8 886.5L797.5 886.5L800.1 886.5L802.7 886.5L805.4 886.5L808.0 886.5L810.6 886.5L813.3 886.4L815.9 886.4L818.5 886.4L821.2 886.4L823.8 886.4L826.5 886.4L829.1 886.3L831.7 886.3L834.4 886.3L837.0 886.3L839.6 886.2L842.3 886.2L844.9 886.2L847.5 886.2L850.2 886.1L852.8 886.1L855.4 886.1L858.1 886.0L860.7 886.0L863.4 885.9L866.0 885.9L868.6 885.9L871.3 885.8L873.9 885.8L876.5 885.7L879.2 885.7L881.8 885.6L884.4 885.5L887.1 885.5L889.7 885.4L892.4 885.3L895.0 885.2L897.6 885.1L900.3 885.1L902.9 885.0L905.5 884.9L908.2 884.8L910.8 884.7L913.4 884.5L916.1 884.4L918.7 884.3L921.3 884.1L924.0 884.0L926.6 883.8L929.3 883.7L931.9 883.5L934.5 883.3L937.2 883.1L939.8 882.9L942.4 882.7L945.1 882.5L947.7 882.2L950.3 882.0L953.0 881.7L955.6 881.4L958.3 881.1L960.9 880.8L963.5 880.4L966.2 880.1L968.8 879.7L971.4 879.3L974.1 878.9L976.7 878.4L979.3 878.0L982.0 877.5L984.6 876.9L987.2 876.4L989.9 875.8L992.5 875.2L995.2 874.5L997.8 873.8L1000.4 873.1L1003.1 872.3L1005.7 871.5L1008.3 870.7L1011.0 869.7L1013.6 868.8L1016.2 867.8L1018.9 866.7L1021.5 865.6L1024.2 864.4L1026.8 863.1L1029.4 861.8L1032.1 860.4L1034.7 858.9L1037.3 857.4L1040.0 855.8L1042.6 854.0L1045.2 852.2L1047.9 850.3L1050.5 848.3L1053.1 846.2L1055.8 843.9L1058.4 841.6L1061.1 839.1L1063.7 836.6L1066.3 833.8L1069.0 831.0L1071.6 828.0L1074.2 824.9L1076.9 821.6L1079.5 818.1L1082.1 814.5L1084.8 810.8L1087.4 806.8L1090.1 802.7L1092.7 798.4L1095.3 793.9L1098.0 789.3L1100.6 784.4L1103.2 779.4L1105.9 774.1L1108.5 768.7L1111.1 763.0L1113.8 757.2L1116.4 751.1L1119.0 744.9L1121.7 738.5L1124.3 731.9L1127.0 725.1L1129.6 718.1L1132.2 711.0L1134.9 703.6L1137.5 696.2L1140.1 688.6L1142.8 680.8L1145.4 673.0L1148.0 665.0L1150.7 657.0L1153.3 648.8L1156.0 640.7L1158.6 632.4L1161.2 624.2L1163.9 615.9L1166.5 607.7L1169.1 599.5L1171.8 591.3L1174.4 583.2L1177.0 575.2L1179.7 567.3L1182.3 559.6L1184.9 551.9L1187.6 544.4L1190.2 537.0L1192.9 529.9L1195.5 522.9L1198.1 516.0L1200.8 509.4L1203.4 503.0L1206.0 496.8L1208.7 490.8L1211.3 485.1L1213.9 479.5L1216.6 474.2L1219.2 469.1L1221.9 464.2L1224.5 459.5L1227.1 455.0L1229.8 450.8L1232.4 446.7L1235.0 442.8L1237.7 439.2L1240.3 435.7L1242.9 432.4L1245.6 429.2L1248.2 426.3L1250.8 423.5L1253.5 420.8L1256.1 418.3L1258.8 415.9L1261.4 413.7L1264.0 411.6L1266.7 409.6L1269.3 407.8L1271.9 406.0L1274.6 404.4L1277.2 402.8L1279.8 401.3L1282.5 400.0L1285.1 398.7L1287.8 397.4L1290.4 396.3L1293.0 395.2L1295.7 394.2L1298.3 393.3L1300.9 392.4L1303.6 391.5L1306.2 390.7L1308.8 390.0L1311.5 389.2L1314.1 388.6L1316.7 387.9L1319.4 387.3L1322.0 386.8L1324.7 386.2L1327.3 385.7L1329.9 385.2L1332.6 384.8L1335.2 384.3L1337.8 383.9L1340.5 383.5L1343.1 383.1L1345.7 382.7L1348.4 382.3L1351.0 382.0L1353.7 381.6L1356.3 381.3L1358.9 381.0L1361.6 380.7L1364.2 380.3L1366.8 380.0L1369.5 379.7L1372.1 379.4L1374.7 379.1L1377.4 378.8L1380.0 378.5L1382.6 378.2L1385.3 377.9L1387.9 377.6L1390.6 377.3L1393.2 376.9L1395.8 376.6L1398.5 376.3L1401.1 376.0L1403.7 375.6L1406.4 375.3L1409.0 374.9L1411.6 374.6L1414.3 374.2L1416.9 373.9L1419.6 373.5L1422.2 373.1L1424.8 372.7L1427.5 372.3L1430.1 371.9L1432.7 371.5L1435.4 371.1L1438.0 370.6L1440.6 370.2L1443.3 369.8L1445.9 369.3L1448.5 368.8L1451.2 368.4L1453.8 367.9L1456.5 367.4L1459.1 366.9L1461.7 366.4L1464.4 365.9L1467.0 365.4" stroke="#4E85D3"/>
<path d="M307.2 886.7L309.8 886.7L312.4 886.7L315.1 886.7L317.7 886.7L320.3 886.7L323.0 886.7L325.6 886.7L328.2 886.7L330.9 886.7L333.5 886.7L336.2 886.7L338.8 886.7L341.4 886.7L344.1 886.7L346.7 886.7L349.3 886.7L352.0 886.7L354.6 886.7L357.2 886.7L359.9 886.7L362.5 886.7L365.2 886.7L367.8 886.7L370.4 886.7L373.1 886.7L375.7 886.7L378.3 886.7L381.0 886.7L383.6 886.7L386.2 886.7L388.9 886.7L391.5 886.7L394.1 886.7L396.8 886.7L399.4 886.7L402.1 886.7L404.7 886.7L407.3 886.7L410.0 886.7L412.6 886.7L415.2 886.7L417.9 886.7L420.5 886.7L423.1 886.7L425.8 886.7L428.4 886.7L431.1 886.7L433.7 886.7L436.3 886.7L439.0 886.7L441.6 886.7L444.2 886.7L446.9 886.7L449.5 886.7L452.1 886.7L454.8 886.7L457.4 886.7L460.0 886.7L462.7 886.7L465.3 886.7L468.0 886.7L470.6 886.7L473.2 886.7L475.9 886.7L478.5 886.7L481.1 886.7L483.8 886.7L486.4 886.7L489.0 886.7L491.7 886.7L494.3 886.7L497.0 886.7L499.6 886.7L502.2 886.7L504.9 886.7L507.5 886.7L510.1 886.7L512.8 886.7L515.4 886.7L518.0 886.7L520.7 886.7L523.3 886.7L525.9 886.7L528.6 886.7L531.2 886.7L533.9 886.7L536.5 886.7L539.1 886.7L541.8 886.7L544.4 886.7L547.0 886.7L549.7 886.7L552.3 886.7L554.9 886.7L557.6 886.7L560.2 886.7L562.9 886.7L565.5 886.7L568.1 886.7L570.8 886.7L573.4 886.7L576.0 886.7L578.7 886.7L581.3 886.7L583.9 886.7L586.6 886.7L589.2 886.7L591.8 886.7L594.5 886.7L597.1 886.7L599.8 886.7L602.4 886.7L605.0 886.7L607.7 886.7L610.3 886.7L612.9 886.7L615.6 886.7L618.2 886.7L620.8 886.7L623.5 886.7L626.1 886.7L628.8 886.7L631.4 886.7L634.0 886.7L636.7 886.7L639.3 886.7L641.9 886.7L644.6 886.7L647.2 886.7L649.8 886.7L652.5 886.7L655.1 886.7L657.7 886.7L660.4 886.7L663.0 886.7L665.7 886.7L668.3 886.7L670.9 886.7L673.6 886.7L676.2 886.7L678.8 886.7L681.5 886.7L684.1 886.7L686.7 886.7L689.4 886.7L692.0 886.7L694.7 886.7L697.3 886.7L699.9 886.7L702.6 886.7L705.2 886.7L707.8 886.7L710.5 886.7L713.1 886.7L715.7 886.7L718.4 886.7L721.0 886.7L723.6 886.7L726.3 886.7L728.9 886.7L731.6 886.7L734.2 886.7L736.8 886.7L739.5 886.7L742.1 886.7L744.7 886.7L747.4 886.7L750.0 886.7L752.6 886.7L755.3 886.7L757.9 886.7L760.6 886.7L763.2 886.7L765.8 886.7L768.5 886.7L771.1 886.7L773.7 886.7L776.4 886.7L779.0 886.7L781.6 886.7L784.3 886.7L786.9 886.7L789.5 886.7L792.2 886.7L794.8 886.7L797.5 886.7L800.1 886.7L802.7 886.7L805.4 886.7L808.0 886.7L810.6 886.7L813.3 886.7L815.9 886.7L818.5 886.7L821.2 886.7L823.8 886.7L826.5 886.7L829.1 886.7L831.7 886.7L834.4 886.7L837.0 886.7L839.6 886.7L842.3 886.7L844.9 886.7L847.5 886.7L850.2 886.6L852.8 886.6L855.4 886.6L858.1 886.6L860.7 886.6L863.4 886.6L866.0 886.6L868.6 886.6L871.3 886.6L873.9 886.6L876.5 886.6L879.2 886.6L881.8 886.6L884.4 886.6L887.1 886.6L889.7 886.5L892.4 886.5L895.0 886.5L897.6 886.5L900.3 886.5L902.9 886.5L905.5 886.5L908.2 886.4L910.8 886.4L913.4 886.4L916.1 886.4L918.7 886.3L921.3 886.3L924.0 886.3L926.6 886.3L929.3 886.2L931.9 886.2L934.5 886.1L937.2 886.1L939.8 886.1L942.4 886.0L945.1 886.0L947.7 885.9L950.3 885.8L953.0 885.8L955.6 885.7L958.3 885.6L960.9 885.6L963.5 885.5L966.2 885.4L968.8 885.3L971.4 885.2L974.1 885.1L976.7 884.9L979.3 884.8L982.0 884.7L984.6 884.5L987.2 884.3L989.9 884.2L992.5 884.0L995.2 883.8L997.8 883.5L1000.4 883.3L1003.1 883.0L1005.7 882.8L1008.3 882.5L1011.0 882.2L1013.6 881.8L1016.2 881.5L1018.9 881.1L1021.5 880.6L1024.2 880.2L1026.8 879.7L1029.4 879.2L1032.1 878.6L1034.7 878.0L1037.3 877.4L1040.0 876.7L1042.6 875.9L1045.2 875.1L1047.9 874.3L1050.5 873.4L1053.1 872.4L1055.8 871.3L1058.4 870.2L1061.1 869.0L1063.7 867.7L1066.3 866.4L1069.0 864.9L1071.6 863.3L1074.2 861.6L1076.9 859.8L1079.5 857.9L1082.1 855.9L1084.8 853.7L1087.4 851.4L1090.1 849.0L1092.7 846.3L1095.3 843.6L1098.0 840.6L1100.6 837.5L1103.2 834.2L1105.9 830.7L1108.5 827.0L1111.1 823.1L1113.8 819.0L1116.4 814.6L1119.0 810.1L1121.7 805.3L1124.3 800.3L1127.0 795.0L1129.6 789.6L1132.2 783.9L1134.9 777.9L1137.5 771.8L1140.1 765.4L1142.8 758.8L1145.4 752.0L1148.0 745.0L1150.7 737.8L1153.3 730.4L1156.0 722.9L1158.6 715.2L1161.2 707.4L1163.9 699.5L1166.5 691.5L1169.1 683.5L1171.8 675.4L1174.4 667.2L1177.0 659.1L1179.7 651.1L1182.3 643.0L1184.9 635.1L1187.6 627.2L1190.2 619.4L1192.9 611.8L1195.5 604.3L1198.1 597.0L1200.8 589.9L1203.4 582.9L1206.0 576.2L1208.7 569.7L1211.3 563.4L1213.9 557.3L1216.6 551.5L1219.2 545.9L1221.9 540.5L1224.5 535.4L1227.1 530.5L1229.8 525.8L1232.4 521.3L1235.0 517.1L1237.7 513.1L1240.3 509.3L1242.9 505.7L1245.6 502.4L1248.2 499.2L1250.8 496.2L1253.5 493.3L1256.1 490.7L1258.8 488.2L1261.4 485.8L1264.0 483.6L1266.7 481.5L1269.3 479.6L1271.9 477.8L1274.6 476.1L1277.2 474.5L1279.8 473.0L1282.5 471.7L1285.1 470.4L1287.8 469.2L1290.4 468.0L1293.0 467.0L1295.7 466.0L1298.3 465.1L1300.9 464.3L1303.6 463.5L1306.2 462.7L1308.8 462.0L1311.5 461.4L1314.1 460.8L1316.7 460.2L1319.4 459.7L1322.0 459.2L1324.7 458.8L1327.3 458.4L1329.9 458.0L1332.6 457.6L1335.2 457.3L1337.8 457.0L1340.5 456.7L1343.1 456.4L1345.7 456.1L1348.4 455.9L1351.0 455.6L1353.7 455.4L1356.3 455.2L1358.9 455.0L1361.6 454.9L1364.2 454.7L1366.8 454.5L1369.5 454.4L1372.1 454.2L1374.7 454.1L1377.4 454.0L1380.0 453.8L1382.6 453.7L1385.3 453.6L1387.9 453.5L1390.6 453.4L1393.2 453.3L1395.8 453.2L1398.5 453.1L1401.1 453.0L1403.7 452.9L1406.4 452.8L1409.0 452.7L1411.6 452.6L1414.3 452.5L1416.9 452.4L1419.6 452.4L1422.2 452.3L1424.8 452.2L1427.5 452.1L1430.1 452.0L1432.7 451.9L1435.4 451.8L1438.0 451.7L1440.6 451.7L1443.3 451.6L1445.9 451.5L1448.5 451.4L1451.2 451.3L1453.8 451.2L1456.5 451.1L1459.1 451.0L1461.7 450.9L1464.4 450.8L1467.0 450.7" stroke="#4E85D3"/>
<path d="M307.2 886.7L309.8 886.7L312.4 886.7L315.1 886.7L317.7 886.7L320.3 886.7L323.0 886.7L325.6 886.7L328.2 886.7L330.9 886.7L333.5 886.7L336.2 886.7L338.8 886.7L341.4 886.7L344.1 886.7L346.7 886.7L349.3 886.7L352.0 886.7L354.6 886.7L357.2 886.7L359.9 886.7L362.5 886.7L365.2 886.7L367.8 886.7L370.4 886.7L373.1 886.7L375.7 886.7L378.3 886.7L381.0 886.7L383.6 886.7L386.2 886.7L388.9 886.7L391.5 886.7L394.1 886.7L396.8 886.7L399.4 886.7L402.1 886.7L404.7 886.7L407.3 886.7L410.0 886.7L412.6 886.7L415.2 886.7L417.9 886.7L420.5 886.7L423.1 886.7L425.8 886.7L428.4 886.7L431.1 886.7L433.7 886.7L436.3 886.7L439.0 886.7L441.6 886.7L444.2 886.7L446.9 886.7L449.5 886.7L452.1 886.7L454.8 886.7L457.4 886.7L460.0 886.7L462.7 886.7L465.3 886.7L468.0 886.7L470.6 886.7L473.2 886.7L475.9 886.7L478.5 886.7L481.1 886.7L483.8 886.7L486.4 886.7L489.0 886.7L491.7 886.7L494.3 886.7L497.0 886.7L499.6 886.7L502.2 886.7L504.9 886.7L507.5 886.7L510.1 886.7L512.8 886.7L515.4 886.7L518.0 886.7L520.7 886.7L523.3 886.7L525.9 886.7L528.6 886.7L531.2 886.7L533.9 886.7L536.5 886.7L539.1 886.7L541.8 886.7L544.4 886.7L547.0 886.7L549.7 886.7L552.3 886.7L554.9 886.7L557.6 886.7L560.2 886.7L562.9 886.7L565.5 886.7L568.1 886.7L570.8 886.7L573.4 886.7L576.0 886.7L578.7 886.7L581.3 886.7L583.9 886.7L586.6 886.7L589.2 886.7L591.8 886.7L594.5 886.7L597.1 886.7L599.8 886.7L602.4 886.7L605.0 886.7L607.7 886.7L610.3 886.7L612.9 886.7L615.6 886.7L618.2 886.7L620.8 886.7L623.5 886.7L626.1 886.7L628.8 886.7L631.4 886.7L634.0 886.7L636.7 886.7L639.3 886.7L641.9 886.7L644.6 886.7L647.2 886.7L649.8 886.7L652.5 886.7L655.1 886.7L657.7 886.7L660.4 886.7L663.0 886.7L665.7 886.7L668.3 886.7L670.9 886.7L673.6 886.7L676.2 886.7L678.8 886.7L681.5 886.7L684.1 886.7L686.7 886.7L689.4 886.7L692.0 886.7L694.7 886.7L697.3 886.7L699.9 886.7L702.6 886.7L705.2 886.7L707.8 886.7L710.5 886.7L713.1 886.7L715.7 886.7L718.4 886.7L721.0 886.7L723.6 886.7L726.3 886.7L728.9 886.7L731.6 886.7L734.2 886.7L736.8 886.7L739.5 886.7L742.1 886.7L744.7 886.7L747.4 886.7L750.0 886.7L752.6 886.7L755.3 886.7L757.9 886.7L760.6 886.7L763.2 886.7L765.8 886.7L768.5 886.7L771.1 886.7L773.7 886.7L776.4 886.7L779.0 886.7L781.6 886.7L784.3 886.7L786.9 886.7L789.5 886.7L792.2 886.7L794.8 886.7L797.5 886.7L800.1 886.7L802.7 886.7L805.4 886.7L808.0 886.7L810.6 886.7L813.3 886.7L815.9 886.7L818.5 886.7L821.2 886.7L823.8 886.7L826.5 886.7L829.1 886.7L831.7 886.7L834.4 886.7L837.0 886.7L839.6 886.7L842.3 886.7L844.9 886.7L847.5 886.7L850.2 886.7L852.8 886.6L855.4 886.6L858.1 886.6L860.7 886.6L863.4 886.6L866.0 886.6L868.6 886.6L871.3 886.6L873.9 886.6L876.5 886.6L879.2 886.6L881.8 886.6L884.4 886.6L887.1 886.6L889.7 886.6L892.4 886.5L895.0 886.5L897.6 886.5L900.3 886.5L902.9 886.5L905.5 886.5L908.2 886.5L910.8 886.4L913.4 886.4L916.1 886.4L918.7 886.4L921.3 886.3L924.0 886.3L926.6 886.3L929.3 886.3L931.9 886.2L934.5 886.2L937.2 886.2L939.8 886.1L942.4 886.1L945.1 886.0L947.7 886.0L950.3 885.9L953.0 885.8L955.6 885.8L958.3 885.7L960.9 885.6L963.5 885.6L966.2 885.5L968.8 885.4L971.4 885.3L974.1 885.2L976.7 885.0L979.3 884.9L982.0 884.8L984.6 884.6L987.2 884.5L989.9 884.3L992.5 884.1L995.2 883.9L997.8 883.7L1000.4 883.5L1003.1 883.2L1005.7 883.0L1008.3 882.7L1011.0 882.4L1013.6 882.0L1016.2 881.7L1018.9 881.3L1021.5 880.9L1024.2 880.5L1026.8 880.0L1029.4 879.5L1032.1 878.9L1034.7 878.4L1037.3 877.7L1040.0 877.1L1042.6 876.3L1045.2 875.6L1047.9 874.7L1050.5 873.8L1053.1 872.9L1055.8 871.9L1058.4 870.8L1061.1 869.6L1063.7 868.4L1066.3 867.0L1069.0 865.6L1071.6 864.1L1074.2 862.5L1076.9 860.7L1079.5 858.9L1082.1 856.9L1084.8 854.8L1087.4 852.6L1090.1 850.2L1092.7 847.7L1095.3 845.0L1098.0 842.1L1100.6 839.1L1103.2 835.9L1105.9 832.6L1108.5 829.0L1111.1 825.3L1113.8 821.3L1116.4 817.2L1119.0 812.8L1121.7 808.3L1124.3 803.5L1127.0 798.5L1129.6 793.3L1132.2 787.8L1134.9 782.2L1137.5 776.3L1140.1 770.2L1142.8 763.9L1145.4 757.4L1148.0 750.7L1150.7 743.9L1153.3 736.8L1156.0 729.6L1158.6 722.2L1161.2 714.7L1163.9 707.1L1166.5 699.4L1169.1 691.6L1171.8 683.7L1174.4 675.8L1177.0 667.8L1179.7 659.9L1182.3 651.9L1184.9 644.0L1187.6 636.1L1190.2 628.3L1192.9 620.5L1195.5 612.9L1198.1 605.4L1200.8 598.0L1203.4 590.7L1206.0 583.7L1208.7 576.7L1211.3 570.0L1213.9 563.5L1216.6 557.1L1219.2 551.0L1221.9 545.0L1224.5 539.3L1227.1 533.7L1229.8 528.4L1232.4 523.3L1235.0 518.4L1237.7 513.7L1240.3 509.2L1242.9 505.0L1245.6 500.9L1248.2 497.0L1250.8 493.3L1253.5 489.8L1256.1 486.4L1258.8 483.3L1261.4 480.3L1264.0 477.4L1266.7 474.7L1269.3 472.2L1271.9 469.8L1274.6 467.5L1277.2 465.3L1279.8 463.3L1282.5 461.4L1285.1 459.6L1287.8 457.9L1290.4 456.3L1293.0 454.8L1295.7 453.4L1298.3 452.0L1300.9 450.8L1303.6 449.6L1306.2 448.5L1308.8 447.4L1311.5 446.4L1314.1 445.5L1316.7 444.6L1319.4 443.8L1322.0 443.0L1324.7 442.3L1327.3 441.6L1329.9 440.9L1332.6 440.3L1335.2 439.7L1337.8 439.1L1340.5 438.6L1343.1 438.1L1345.7 437.6L1348.4 437.1L1351.0 436.7L1353.7 436.3L1356.3 435.9L1358.9 435.5L1361.6 435.1L1364.2 434.8L1366.8 434.4L1369.5 434.1L1372.1 433.7L1374.7 433.4L1377.4 433.1L1380.0 432.8L1382.6 432.5L1385.3 432.2L1387.9 431.9L1390.6 431.6L1393.2 431.3L1395.8 431.1L1398.5 430.8L1401.1 430.5L1403.7 430.2L1406.4 429.9L1409.0 429.6L1411.6 429.3L1414.3 429.1L1416.9 428.8L1419.6 428.5L1422.2 428.2L1424.8 427.9L1427.5 427.6L1430.1 427.2L1432.7 426.9L1435.4 426.6L1438.0 426.3L1440.6 426.0L1443.3 425.6L1445.9 425.3L1448.5 424.9L1451.2 424.6L1453.8 424.3L1456.5 423.9L1459.1 423.5L1461.7 423.2L1464.4 422.8L1467.0 422.4" stroke="#4E85D3"/>
<path d="M307.2 886.7L309.8 886.7L312.4 886.7L315.1 886.7L317.7 886.7L320.3 886.7L323.0 886.7L325.6 886.7L328.2 886.7L330.9 886.7L333.5 886.7L336.2 886.7L338.8 886.7L341.4 886.7L344.1 886.7L346.7 886.7L349.3 886.7L352.0 886.7L354.6 886.7L357.2 886.7L359.9 886.7L362.5 886.7L365.2 886.7L367.8 886.7L370.4 886.7L373.1 886.7L375.7 886.7L378.3 886.7L381.0 886.7L383.6 886.7L386.2 886.7L388.9 886.7L391.5 886.7L394.1 886.7L396.8 886.7L399.4 886.7L402.1 886.7L404.7 886.7L407.3 886.7L410.0 886.7L412.6 886.7L415.2 886.7L417.9 886.7L420.5 886.7L423.1 886.7L425.8 886.7L428.4 886.7L431.1 886.7L433.7 886.7L436.3 886.7L439.0 886.7L441.6 886.7L444.2 886.7L446.9 886.7L449.5 886.7L452.1 886.7L454.8 886.7L457.4 886.7L460.0 886.7L462.7 886.7L465.3 886.7L468.0 886.7L470.6 886.7L473.2 886.7L475.9 886.7L478.5 886.7L481.1 886.7L483.8 886.7L486.4 886.7L489.0 886.7L491.7 886.7L494.3 886.7L497.0 886.7L499.6 886.7L502.2 886.7L504.9 886.7L507.5 886.7L510.1 886.7L512.8 886.7L515.4 886.7L518.0 886.7L520.7 886.7L523.3 886.7L525.9 886.7L528.6 886.7L531.2 886.7L533.9 886.7L536.5 886.7L539.1 886.7L541.8 886.7L544.4 886.7L547.0 886.7L549.7 886.7L552.3 886.7L554.9 886.7L557.6 886.7L560.2 886.7L562.9 886.7L565.5 886.7L568.1 886.7L570.8 886.7L573.4 886.7L576.0 886.7L578.7 886.7L581.3 886.7L583.9 886.7L586.6 886.7L589.2 886.7L591.8 886.7L594.5 886.7L597.1 886.7L599.8 886.7L602.4 886.7L605.0 886.7L607.7 886.7L610.3 886.7L612.9 886.7L615.6 886.7L618.2 886.7L620.8 886.7L623.5 886.7L626.1 886.7L628.8 886.7L631.4 886.7L634.0 886.7L636.7 886.7L639.3 886.7L641.9 886.7L644.6 886.7L647.2 886.7L649.8 886.7L652.5 886.7L655.1 886.7L657.7 886.7L660.4 886.7L663.0 886.7L665.7 886.7L668.3 886.7L670.9 886.7L673.6 886.7L676.2 886.7L678.8 886.7L681.5 886.7L684.1 886.7L686.7 886.7L689.4 886.7L692.0 886.7L694.7 886.7L697.3 886.7L699.9 886.7L702.6 886.7L705.2 886.7L707.8 886.7L710.5 886.7L713.1 886.7L715.7 886.7L718.4 886.7L721.0 886.7L723.6 886.7L726.3 886.7L728.9 886.7L731.6 886.7L734.2 886.7L736.8 886.7L739.5 886.7L742.1 886.7L744.7 886.7L747.4 886.7L750.0 886.7L752.6 886.7L755.3 886.7L757.9 886.7L760.6 886.7L763.2 886.7L765.8 886.7L768.5 886.7L771.1 886.7L773.7 886.7L776.4 886.7L779.0 886.7L781.6 886.7L784.3 886.7L786.9 886.7L789.5 886.7L792.2 886.7L794.8 886.7L797.5 886.7L800.1 886.7L802.7 886.7L805.4 886.7L808.0 886.7L810.6 886.7L813.3 886.7L815.9 886.7L818.5 886.7L821.2 886.7L823.8 886.7L826.5 886.7L829.1 886.7L831.7 886.7L834.4 886.7L837.0 886.7L839.6 886.7L842.3 886.7L844.9 886.6L847.5 886.6L850.2 886.6L852.8 886.6L855.4 886.6L858.1 886.6L860.7 886.6L863.4 886.6L866.0 886.6L868.6 886.6L871.3 886.6L873.9 886.6L876.5 886.6L879.2 886.6L881.8 886.6L884.4 886.5L887.1 886.5L889.7 886.5L892.4 886.5L895.0 886.5L897.6 886.5L900.3 886.5L902.9 886.5L905.5 886.4L908.2 886.4L910.8 886.4L913.4 886.4L916.1 886.3L918.7 886.3L921.3 886.3L924.0 886.3L926.6 886.2L929.3 886.2L931.9 886.2L934.5 886.1L937.2 886.1L939.8 886.0L942.4 886.0L945.1 885.9L947.7 885.9L950.3 885.8L953.0 885.7L955.6 885.7L958.3 885.6L960.9 885.5L963.5 885.4L966.2 885.3L968.8 885.2L971.4 885.1L974.1 885.0L976.7 884.9L979.3 884.7L982.0 884.6L984.6 884.4L987.2 884.3L989.9 884.1L992.5 883.9L995.2 883.7L997.8 883.5L1000.4 883.2L1003.1 883.0L1005.7 882.7L1008.3 882.4L1011.0 882.1L1013.6 881.8L1016.2 881.4L1018.9 881.0L1021.5 880.6L1024.2 880.2L1026.8 879.7L1029.4 879.2L1032.1 878.7L1034.7 878.1L1037.3 877.5L1040.0 876.8L1042.6 876.1L1045.2 875.3L1047.9 874.5L1050.5 873.6L1053.1 872.7L1055.8 871.7L1058.4 870.7L1061.1 869.5L1063.7 868.3L1066.3 867.0L1069.0 865.7L1071.6 864.2L1074.2 862.6L1076.9 861.0L1079.5 859.2L1082.1 857.3L1084.8 855.3L1087.4 853.2L1090.1 851.0L1092.7 848.6L1095.3 846.1L1098.0 843.4L1100.6 840.6L1103.2 837.6L1105.9 834.5L1108.5 831.1L1111.1 827.6L1113.8 824.0L1116.4 820.1L1119.0 816.0L1121.7 811.8L1124.3 807.3L1127.0 802.6L1129.6 797.8L1132.2 792.7L1134.9 787.4L1137.5 782.0L1140.1 776.3L1142.8 770.4L1145.4 764.3L1148.0 758.0L1150.7 751.6L1153.3 744.9L1156.0 738.1L1158.6 731.2L1161.2 724.1L1163.9 716.8L1166.5 709.4L1169.1 702.0L1171.8 694.4L1174.4 686.7L1177.0 679.0L1179.7 671.3L1182.3 663.5L1184.9 655.7L1187.6 647.9L1190.2 640.2L1192.9 632.5L1195.5 624.9L1198.1 617.3L1200.8 609.8L1203.4 602.5L1206.0 595.2L1208.7 588.1L1211.3 581.2L1213.9 574.4L1216.6 567.7L1219.2 561.3L1221.9 555.0L1224.5 548.9L1227.1 543.0L1229.8 537.3L1232.4 531.8L1235.0 526.5L1237.7 521.4L1240.3 516.5L1242.9 511.8L1245.6 507.3L1248.2 502.9L1250.8 498.8L1253.5 494.9L1256.1 491.1L1258.8 487.5L1261.4 484.1L1264.0 480.8L1266.7 477.7L1269.3 474.8L1271.9 472.0L1274.6 469.4L1277.2 466.9L1279.8 464.5L1282.5 462.3L1285.1 460.1L1287.8 458.1L1290.4 456.2L1293.0 454.5L1295.7 452.8L1298.3 451.2L1300.9 449.7L1303.6 448.2L1306.2 446.9L1308.8 445.6L1311.5 444.4L1314.1 443.3L1316.7 442.3L1319.4 441.3L1322.0 440.3L1324.7 439.4L1327.3 438.6L1329.9 437.8L1332.6 437.1L1335.2 436.4L1337.8 435.7L1340.5 435.1L1343.1 434.5L1345.7 433.9L1348.4 433.4L1351.0 432.9L1353.7 432.4L1356.3 431.9L1358.9 431.5L1361.6 431.1L1364.2 430.7L1366.8 430.3L1369.5 430.0L1372.1 429.6L1374.7 429.3L1377.4 429.0L1380.0 428.7L1382.6 428.4L1385.3 428.1L1387.9 427.8L1390.6 427.5L1393.2 427.3L1395.8 427.0L1398.5 426.8L1401.1 426.5L1403.7 426.3L1406.4 426.1L1409.0 425.8L1411.6 425.6L1414.3 425.4L1416.9 425.2L1419.6 424.9L1422.2 424.7L1424.8 424.5L1427.5 424.3L1430.1 424.0L1432.7 423.8L1435.4 423.6L1438.0 423.4L1440.6 423.2L1443.3 422.9L1445.9 422.7L1448.5 422.5L1451.2 422.2L1453.8 422.0L1456.5 421.8L1459.1 421.6L1461.7 421.3L1464.4 421.1L1467.0 420.8" stroke="#4E85D3"/>
<path d="M401.8 886.7 L403.0 886.7 L404.2 886.7 L405.4 886.7 L406.6 886.7 L407.9 886.7 L409.1 886.7 L410.3 886.7 L411.5 886.7 L412.7 886.7 L413.9 886.7 L415.1 886.4 L416.3 886.0 L417.6 885.6 L418.8 885.1 L420.0 884.5 L421.2 883.9 L422.4 883.2 L423.6 882.5 L424.8 881.9 L426.0 881.2 L427.3 880.5 L428.5 879.9 L429.7 879.3 L430.9 878.7 L432.1 878.2 L433.3 877.8 L434.5 877.4 L435.7 877.1 L437.0 877.0 L438.2 876.9 L439.4 877.0 L440.6 877.1 L441.8 877.4 L443.0 877.8 L444.2 878.2 L445.4 878.7 L446.7 879.3 L447.9 879.9 L449.1 880.5 L450.3 881.2 L451.5 881.9 L452.7 882.5 L453.9 883.2 L455.1 883.9 L456.4 884.5 L457.6 885.1 L458.8 885.6 L460.0 886.0 L461.2 886.4 L462.4 886.7 L463.6 886.7 L464.8 886.7 L466.1 886.7 L467.3 886.7 L468.5 886.7 L469.7 886.7 L470.9 886.7 L472.1 886.7 L473.3 886.7 L474.5 886.7" stroke="#4E85D3"/>
</g>
</svg>
</body></html>
